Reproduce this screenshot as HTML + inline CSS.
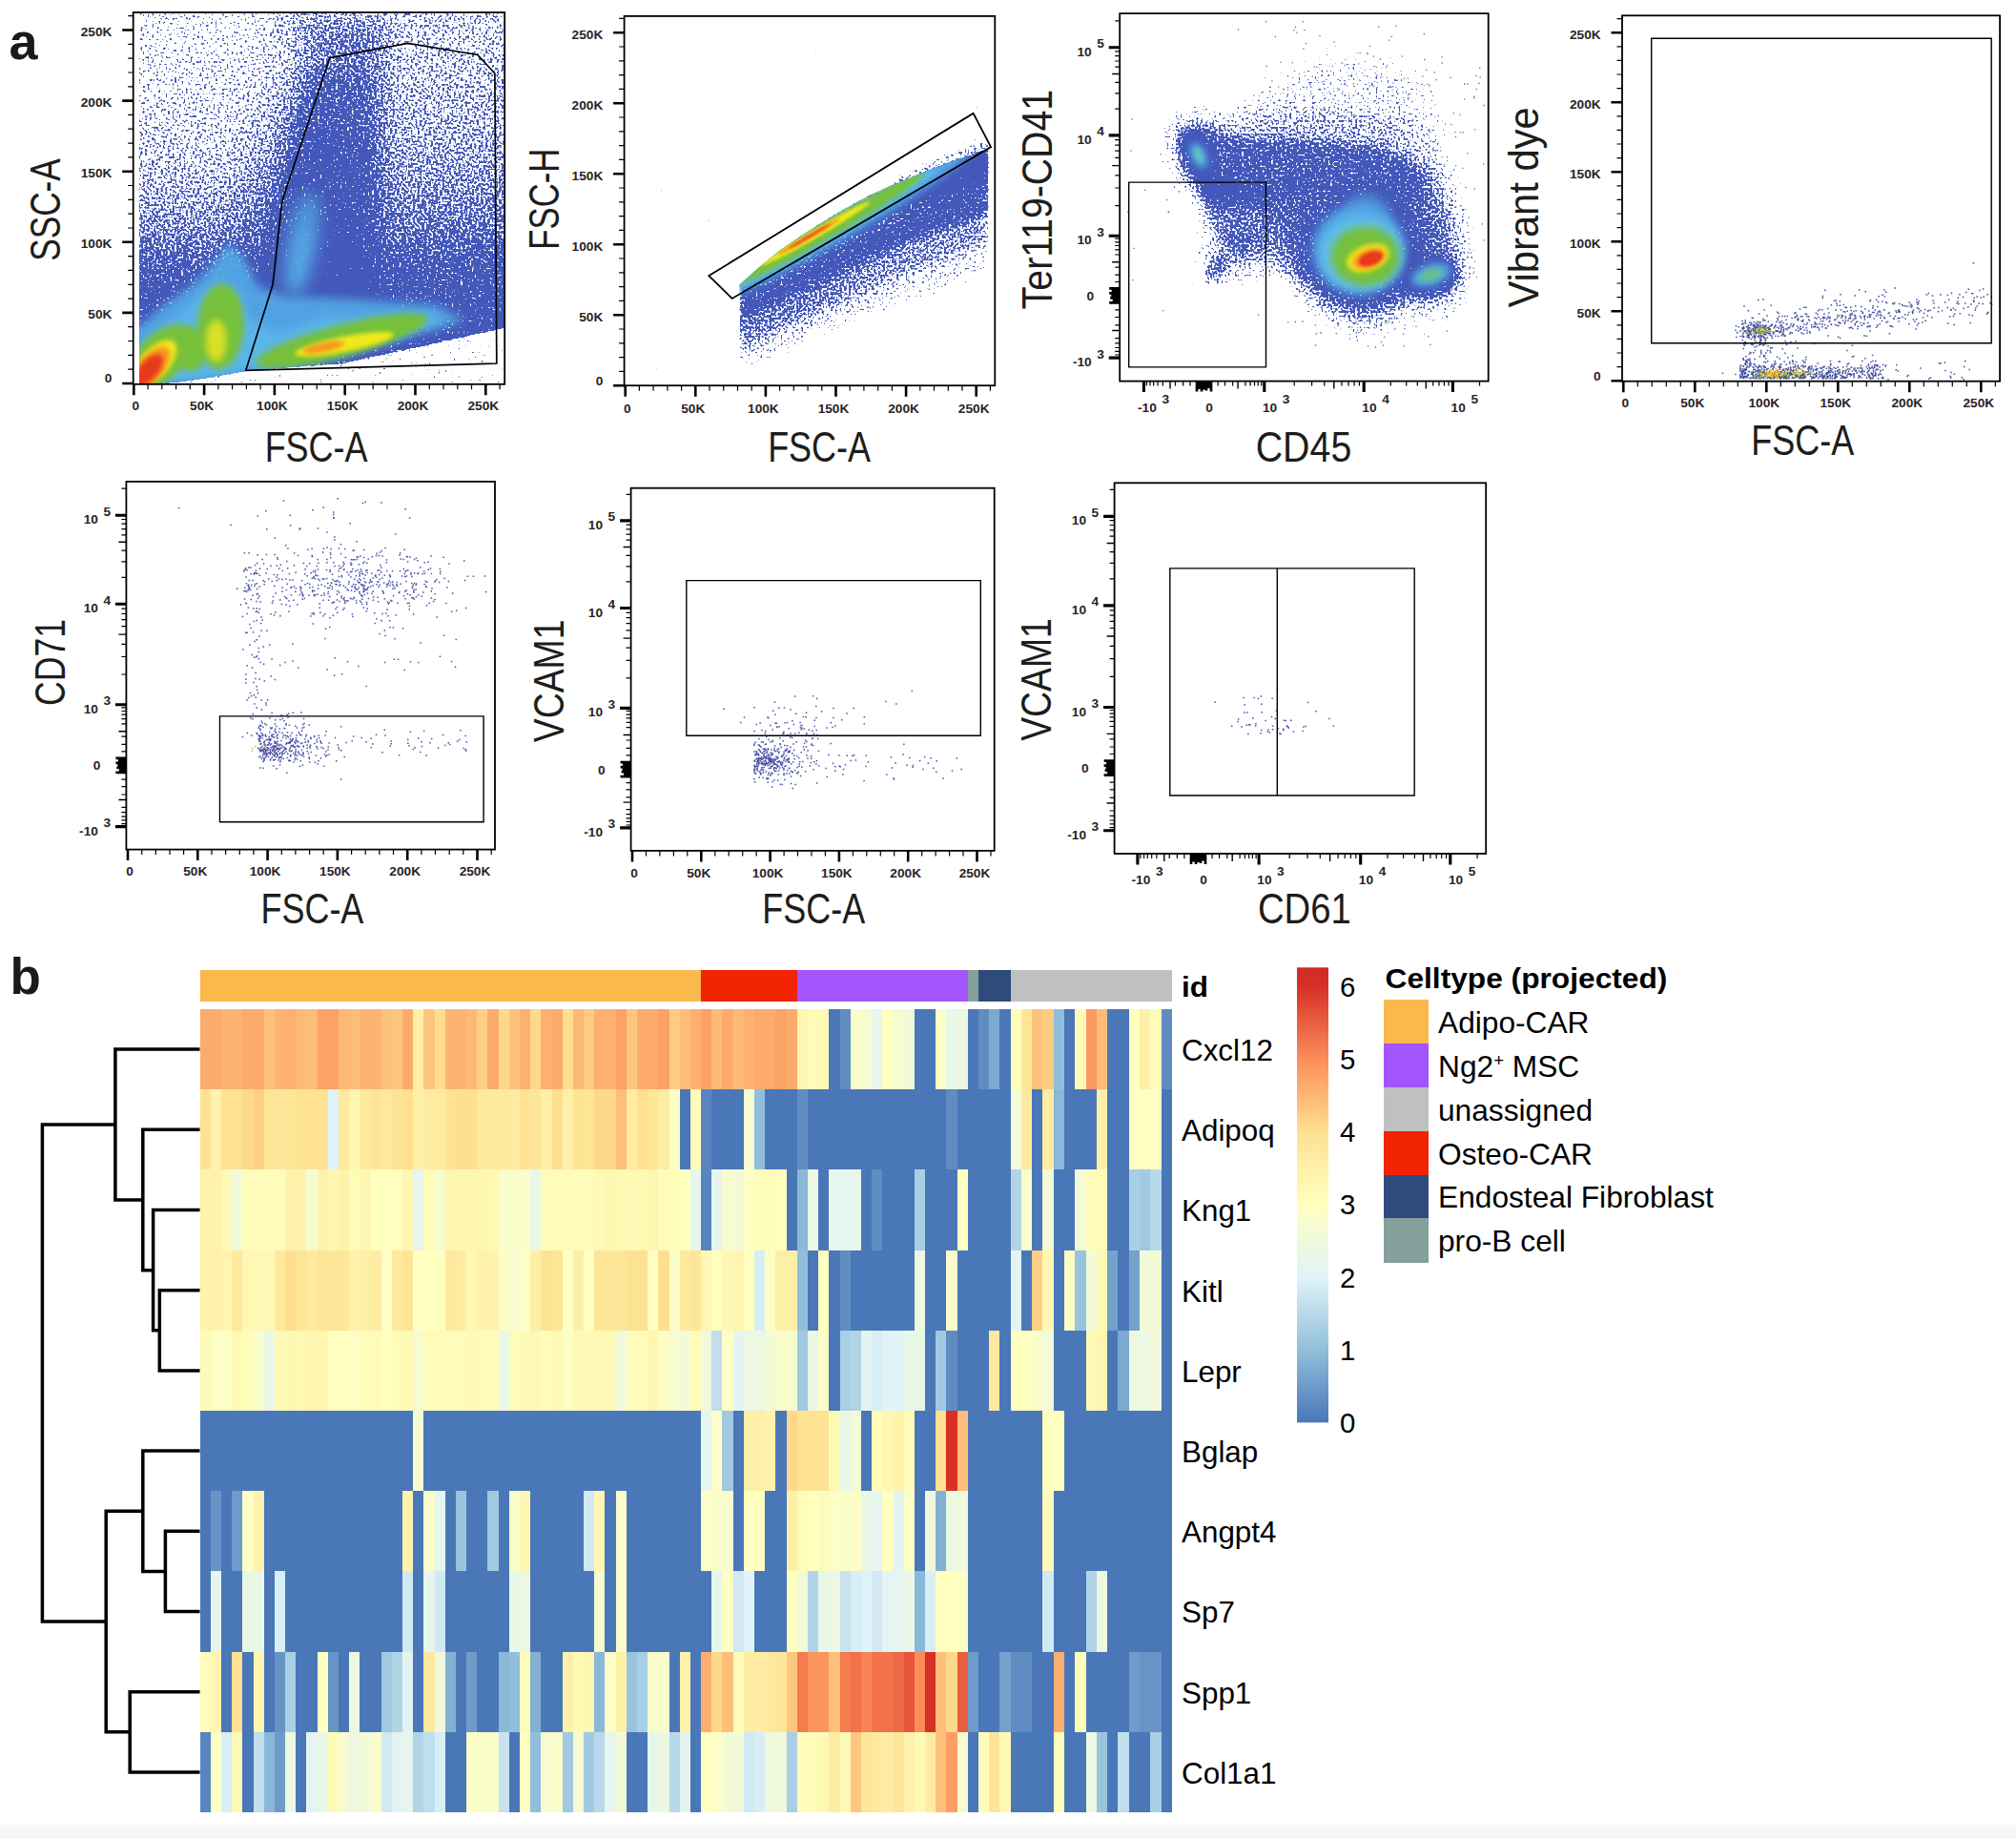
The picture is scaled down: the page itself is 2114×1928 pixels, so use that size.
<!DOCTYPE html>
<html lang="en"><head><meta charset="utf-8"><title>Figure</title>
<style>
html,body{margin:0;padding:0;background:#fff;overflow:hidden;width:2114px;height:1928px}
svg{display:block}
.tk{font-family:"Liberation Sans",sans-serif;font-weight:bold;font-size:13.7px;fill:#2a2326}
.ax{font-family:"Liberation Sans",sans-serif;fill:#1d1d1b}
.hl{font-family:"Liberation Sans",sans-serif;fill:#000}
.pl{font-family:"Liberation Sans",sans-serif;font-weight:bold;fill:#1a1a1a}
</style></head><body>

<svg width="2114" height="1928" viewBox="0 0 2114 1928">
<rect width="2114" height="1928" fill="#fff"/>
<defs><filter id="b0.8" x="-60%" y="-60%" width="220%" height="220%"><feGaussianBlur stdDeviation="0.8"/></filter><filter id="b1.0" x="-60%" y="-60%" width="220%" height="220%"><feGaussianBlur stdDeviation="1.0"/></filter><filter id="b1.5" x="-60%" y="-60%" width="220%" height="220%"><feGaussianBlur stdDeviation="1.5"/></filter><filter id="b1.8" x="-60%" y="-60%" width="220%" height="220%"><feGaussianBlur stdDeviation="1.8"/></filter><filter id="b2" x="-60%" y="-60%" width="220%" height="220%"><feGaussianBlur stdDeviation="2"/></filter><filter id="b2.5" x="-60%" y="-60%" width="220%" height="220%"><feGaussianBlur stdDeviation="2.5"/></filter><filter id="b3" x="-60%" y="-60%" width="220%" height="220%"><feGaussianBlur stdDeviation="3"/></filter><filter id="b3.5" x="-60%" y="-60%" width="220%" height="220%"><feGaussianBlur stdDeviation="3.5"/></filter><filter id="b4" x="-60%" y="-60%" width="220%" height="220%"><feGaussianBlur stdDeviation="4"/></filter><filter id="b5" x="-60%" y="-60%" width="220%" height="220%"><feGaussianBlur stdDeviation="5"/></filter><filter id="b6" x="-60%" y="-60%" width="220%" height="220%"><feGaussianBlur stdDeviation="6"/></filter><filter id="b8" x="-60%" y="-60%" width="220%" height="220%"><feGaussianBlur stdDeviation="8"/></filter><filter id="b9" x="-60%" y="-60%" width="220%" height="220%"><feGaussianBlur stdDeviation="9"/></filter><filter id="b11" x="-60%" y="-60%" width="220%" height="220%"><feGaussianBlur stdDeviation="11"/></filter><filter id="b12" x="-60%" y="-60%" width="220%" height="220%"><feGaussianBlur stdDeviation="12"/></filter><filter id="b13" x="-60%" y="-60%" width="220%" height="220%"><feGaussianBlur stdDeviation="13"/></filter><filter id="b14" x="-60%" y="-60%" width="220%" height="220%"><feGaussianBlur stdDeviation="14"/></filter><filter id="b16" x="-60%" y="-60%" width="220%" height="220%"><feGaussianBlur stdDeviation="16"/></filter></defs>
<g><defs><clipPath id="c1"><rect x="139.7" y="13" width="389.5" height="389.8"/></clipPath><filter id="s1" filterUnits="userSpaceOnUse" x="139.7" y="13" width="389.5" height="389.8" color-interpolation-filters="sRGB"><feTurbulence type="fractalNoise" baseFrequency="0.42" numOctaves="1" seed="3" result="t"/><feColorMatrix in="t" type="matrix" values="0 0 0 0 0 0 0 0 0 0 0 0 0 0 0 1 0 0 0 0" result="n"/><feComposite in="SourceGraphic" in2="n" operator="arithmetic" k1="0" k2="0.7" k3="1" k4="-0.55" result="s"/><feComponentTransfer in="s" result="th"><feFuncA type="linear" slope="25" intercept="-7"/></feComponentTransfer><feFlood flood-color="#4358ba"/><feComposite operator="in" in2="th"/></filter><linearGradient id="g1v" gradientUnits="userSpaceOnUse" x1="0" y1="40" x2="0" y2="340"><stop offset="0.000" stop-color="#000" stop-opacity="0"/><stop offset="0.200" stop-color="#000" stop-opacity="0.06"/><stop offset="0.367" stop-color="#000" stop-opacity="0.12"/><stop offset="0.533" stop-color="#000" stop-opacity="0.22"/><stop offset="0.667" stop-color="#000" stop-opacity="0.33"/><stop offset="0.767" stop-color="#000" stop-opacity="0.5"/><stop offset="0.867" stop-color="#000" stop-opacity="0.66"/><stop offset="1.000" stop-color="#000" stop-opacity="0.7"/></linearGradient><clipPath id="c1b"><polygon points="146,12 530,12 530,343.5 517,346.4 437.6,364.3 358.3,381.2 279,387.1 259,389 214,397 184,401 146,403"/></clipPath></defs>
<g clip-path="url(#c1)">
<g filter="url(#s1)">
<polygon points="146,12 530,12 530,404 146,404" fill="#000" fill-opacity="0.16"/>
<g clip-path="url(#c1b)">
<polygon points="139,12 530,12 530,404 139,404" fill="#000" fill-opacity="0.15"/>
<rect x="139" y="12" width="392" height="392" fill="url(#g1v)"/>
<polygon points="300,-20 570,-20 570,290 405,290 405,60 300,40" fill="#000" fill-opacity="0.14" filter="url(#b16)"/>
<polygon points="222,345 248,200 278,70 292,10 330,10 314,70 284,200 258,345" fill="#000" fill-opacity="0.14" filter="url(#b14)"/>
<polygon points="258,345 284,200 314,70 326,22 404,22 406,110 402,220 398,345" fill="#000" fill-opacity="0.34" filter="url(#b13)"/>
<polygon points="266,345 290,200 308,135 394,135 392,200 388,345" fill="#000" fill-opacity="0.2" filter="url(#b12)"/>
<polygon points="276,345 298,200 322,75 388,75 386,200 382,345" fill="#000" fill-opacity="0.3" filter="url(#b11)"/>
</g></g>
<g clip-path="url(#c1b)">
<polygon points="141,346 170,322 203,298 228,272 240,254 256,272 270,300 300,312 338,312 457,320 487,336 300,390 259,394 194,404 141,406" fill="#52a8e6" fill-opacity="0.92" filter="url(#b5)"/>
<ellipse cx="316" cy="258" rx="16" ry="56" fill="#52a8e6" transform="rotate(10 316 258)" fill-opacity="0.8" filter="url(#b8)"/>
<polygon points="146,360 185,334 205,314 230,294 252,306 260,334 290,350 338,334 450,330 464,338 300,380 259,388 194,400 146,404" fill="#60c2ee" fill-opacity="0.6" filter="url(#b5)"/>
<ellipse cx="316" cy="268" rx="7" ry="30" fill="#60c2ee" transform="rotate(10 316 268)" fill-opacity="0.35" filter="url(#b6)"/>
<ellipse cx="169" cy="374" rx="42" ry="24" fill="#76c03b" transform="rotate(-45 169 374)" filter="url(#b3)"/>
<ellipse cx="200" cy="366" rx="18" ry="23" fill="#76c03b" filter="url(#b3)"/>
<ellipse cx="231.3" cy="342.5" rx="24.5" ry="45" fill="#76c03b" transform="rotate(3 231.3 342.5)" filter="url(#b3)"/>
<ellipse cx="358.3" cy="357.3" rx="93" ry="17" fill="#76c03b" transform="rotate(-14.6 358.3 357.3)" filter="url(#b3)"/>
<ellipse cx="163" cy="380" rx="29" ry="15" fill="#f1e71f" transform="rotate(-48 163 380)" filter="url(#b2.5)"/>
<ellipse cx="226.7" cy="357.3" rx="11" ry="22" fill="#f1e71f" fill-opacity="0.8" filter="url(#b3.5)"/>
<ellipse cx="361.2" cy="360.8" rx="53" ry="8" fill="#f1e71f" transform="rotate(-11.2 361.2 360.8)" filter="url(#b2)"/>
<ellipse cx="159.5" cy="384" rx="25" ry="12.5" fill="#f7991c" transform="rotate(-49 159.5 384)" filter="url(#b2.5)"/>
<ellipse cx="339.4" cy="364.3" rx="22" ry="5" fill="#f7991c" transform="rotate(-12 339.4 364.3)" filter="url(#b2)"/>
<ellipse cx="156" cy="388" rx="20" ry="10" fill="#e9371f" transform="rotate(-50 156 388)" filter="url(#b2.5)"/>
</g>
</g>
<polygon points="257.8,388.3 286,298.6 295.8,211 345.8,60.6 427.8,45.3 500.8,57.5 518.9,77 520.8,381" fill="none" stroke="#000" stroke-width="1.7" stroke-linejoin="miter"/>
<rect x="139.7" y="13" width="389.5" height="389.8" fill="none" stroke="#000" stroke-width="1.8"/>
<path d="M140.3 402.8v11.5M214.1 402.8v11.5M287.9 402.8v11.5M361.7 402.8v11.5M435.5 402.8v11.5M509.3 402.8v11.5" stroke="#000" stroke-width="2.6" fill="none"/>
<path d="M155.1 402.8v5.5M169.8 402.8v5.5M184.6 402.8v5.5M199.3 402.8v5.5M228.9 402.8v5.5M243.6 402.8v5.5M258.4 402.8v5.5M273.1 402.8v5.5M302.7 402.8v5.5M317.4 402.8v5.5M332.2 402.8v5.5M346.9 402.8v5.5M376.5 402.8v5.5M391.2 402.8v5.5M406 402.8v5.5M420.7 402.8v5.5M450.3 402.8v5.5M465 402.8v5.5M479.8 402.8v5.5M494.5 402.8v5.5M524.1 402.8v5.5" stroke="#000" stroke-width="1.2" fill="none"/>
<text x="142.3" y="429.8" text-anchor="middle" class="tk">0</text>
<text x="211.6" y="429.8" text-anchor="middle" class="tk">50K</text>
<text x="285.4" y="429.8" text-anchor="middle" class="tk">100K</text>
<text x="359.2" y="429.8" text-anchor="middle" class="tk">150K</text>
<text x="433" y="429.8" text-anchor="middle" class="tk">200K</text>
<text x="506.8" y="429.8" text-anchor="middle" class="tk">250K</text>
<path d="M139.7 402h-11.5M139.7 327.9h-11.5M139.7 253.8h-11.5M139.7 179.7h-11.5M139.7 105.6h-11.5M139.7 31.5h-11.5" stroke="#000" stroke-width="2.6" fill="none"/>
<path d="M139.7 387.2h-5.5M139.7 372.4h-5.5M139.7 357.5h-5.5M139.7 342.7h-5.5M139.7 313.1h-5.5M139.7 298.3h-5.5M139.7 283.4h-5.5M139.7 268.6h-5.5M139.7 239h-5.5M139.7 224.2h-5.5M139.7 209.3h-5.5M139.7 194.5h-5.5M139.7 164.9h-5.5M139.7 150.1h-5.5M139.7 135.2h-5.5M139.7 120.4h-5.5M139.7 90.8h-5.5M139.7 76h-5.5M139.7 61.1h-5.5M139.7 46.3h-5.5M139.7 16.7h-5.5" stroke="#000" stroke-width="1.2" fill="none"/>
<text x="117.4" y="401.3" text-anchor="end" class="tk">0</text>
<text x="117.4" y="334.2" text-anchor="end" class="tk">50K</text>
<text x="117.4" y="260.1" text-anchor="end" class="tk">100K</text>
<text x="117.4" y="186" text-anchor="end" class="tk">150K</text>
<text x="117.4" y="111.9" text-anchor="end" class="tk">200K</text>
<text x="117.4" y="37.8" text-anchor="end" class="tk">250K</text>
<text transform="translate(331.6 484) scale(0.8275 1)" text-anchor="middle" class="ax" font-size="43.5">FSC-A</text>
<text transform="translate(62.6 220) rotate(-90) scale(0.8108 1)" text-anchor="middle" class="ax" font-size="43.5">SSC-A</text></g>
<g><defs><clipPath id="c2"><rect x="654.6" y="16.9" width="388.7" height="387.3"/></clipPath><filter id="s2" filterUnits="userSpaceOnUse" x="654.6" y="16.9" width="388.7" height="387.3" color-interpolation-filters="sRGB"><feTurbulence type="fractalNoise" baseFrequency="0.42" numOctaves="1" seed="11" result="t"/><feColorMatrix in="t" type="matrix" values="0 0 0 0 0 0 0 0 0 0 0 0 0 0 0 1 0 0 0 0" result="n"/><feComposite in="SourceGraphic" in2="n" operator="arithmetic" k1="0" k2="0.7" k3="1" k4="-0.55" result="s"/><feComponentTransfer in="s" result="th"><feFuncA type="linear" slope="25" intercept="-7"/></feComponentTransfer><feFlood flood-color="#4358ba"/><feComposite operator="in" in2="th"/></filter><clipPath id="c2b"><polygon points="775.4,298.4 795,281 816.9,263 840,247 863,232.2 886,218.5 909.2,206.1 932,195.5 955.3,186.1 978,176.5 1001.4,167.7 1032.2,156.9 1036.5,155 1036.5,404 775.4,404"/></clipPath><clipPath id="c2c"><polygon points="775.4,270 930,170 1036.5,120 1036.5,404 775.4,404"/></clipPath></defs>
<g clip-path="url(#c2)">
<g filter="url(#s2)"><g clip-path="url(#c2c)">
<polygon points="930,190 1040,140 1040,175 940,215" fill="#000" fill-opacity="0.4" filter="url(#b5)"/>
<g clip-path="url(#c2b)">
<polygon points="775.4,298.4 795,281 816.9,263 840,247 863,232.2 886,218.5 909.2,206.1 932,195.5 955.3,186.1 978,176.5 1001.4,167.7 1032.2,156.9 1036.5,155 1040,150 1040,222 940,259 863,297 778,336 770,336" fill="#000" fill-opacity="0.6" filter="url(#b5)"/>
<polygon points="775.4,298.4 795,281 816.9,263 840,247 863,232.2 886,218.5 909.2,206.1 932,195.5 955.3,186.1 978,176.5 1001.4,167.7 1032.2,156.9 1036.5,155 1040,150 1040,190 940,225 863,262 778,305 770,305" fill="#000" fill-opacity="0.55" filter="url(#b6)"/>
<polygon points="770,310 1040,185 1040,250 940,288 863,325 782,362 770,362" fill="#000" fill-opacity="0.45" filter="url(#b9)"/>
<polygon points="770,340 1040,235 1040,285 860,352 785,388 770,388" fill="#000" fill-opacity="0.28" filter="url(#b8)"/>
</g></g></g>
<g clip-path="url(#c2b)">
<ellipse cx="886.3" cy="234.5" rx="152" ry="13" fill="#52a8e6" transform="rotate(-30.3 886.3 234.5)" filter="url(#b4)"/>
<ellipse cx="873.2" cy="239.8" rx="126" ry="9" fill="#60c2ee" transform="rotate(-30.3 873.2 239.8)" fill-opacity="0.8" filter="url(#b3.5)"/>
<ellipse cx="869.6" cy="239.6" rx="116" ry="9" fill="#76c03b" transform="rotate(-30.3 869.6 239.6)" filter="url(#b2.5)"/>
<ellipse cx="855.3" cy="244.9" rx="66" ry="4.4" fill="#f1e71f" transform="rotate(-30.3 855.3 244.9)" filter="url(#b1.5)"/>
<ellipse cx="848.3" cy="248.2" rx="38" ry="2.3" fill="#f7991c" transform="rotate(-30.3 848.3 248.2)" filter="url(#b1.0)"/>
<ellipse cx="848.8" cy="247.6" rx="26" ry="1.1" fill="#e9371f" transform="rotate(-30.3 848.8 247.6)" filter="url(#b0.8)"/>
</g>
</g>
<polygon points="743.4,289.1 1020.6,118.8 1039.1,154.1 767.7,313" fill="none" stroke="#000" stroke-width="1.8" stroke-linejoin="miter"/>
<rect x="654.6" y="16.9" width="388.7" height="387.3" fill="none" stroke="#000" stroke-width="1.8"/>
<path d="M655.7 404.2v11.5M729.3 404.2v11.5M802.9 404.2v11.5M876.5 404.2v11.5M950.1 404.2v11.5M1023.7 404.2v11.5" stroke="#000" stroke-width="2.6" fill="none"/>
<path d="M670.4 404.2v5.5M685.1 404.2v5.5M699.9 404.2v5.5M714.6 404.2v5.5M744 404.2v5.5M758.7 404.2v5.5M773.5 404.2v5.5M788.2 404.2v5.5M817.6 404.2v5.5M832.3 404.2v5.5M847.1 404.2v5.5M861.8 404.2v5.5M891.2 404.2v5.5M905.9 404.2v5.5M920.7 404.2v5.5M935.4 404.2v5.5M964.8 404.2v5.5M979.5 404.2v5.5M994.3 404.2v5.5M1009 404.2v5.5M1038.4 404.2v5.5" stroke="#000" stroke-width="1.2" fill="none"/>
<text x="657.7" y="432.7" text-anchor="middle" class="tk">0</text>
<text x="726.8" y="432.7" text-anchor="middle" class="tk">50K</text>
<text x="800.4" y="432.7" text-anchor="middle" class="tk">100K</text>
<text x="874" y="432.7" text-anchor="middle" class="tk">150K</text>
<text x="947.6" y="432.7" text-anchor="middle" class="tk">200K</text>
<text x="1021.2" y="432.7" text-anchor="middle" class="tk">250K</text>
<path d="M654.6 404.2h-11.5M654.6 330.2h-11.5M654.6 256.2h-11.5M654.6 182.2h-11.5M654.6 108.2h-11.5M654.6 34.2h-11.5" stroke="#000" stroke-width="2.6" fill="none"/>
<path d="M654.6 389.4h-5.5M654.6 374.6h-5.5M654.6 359.8h-5.5M654.6 345h-5.5M654.6 315.4h-5.5M654.6 300.6h-5.5M654.6 285.8h-5.5M654.6 271h-5.5M654.6 241.4h-5.5M654.6 226.6h-5.5M654.6 211.8h-5.5M654.6 197h-5.5M654.6 167.4h-5.5M654.6 152.6h-5.5M654.6 137.8h-5.5M654.6 123h-5.5M654.6 93.4h-5.5M654.6 78.6h-5.5M654.6 63.8h-5.5M654.6 49h-5.5M654.6 19.4h-5.5" stroke="#000" stroke-width="1.2" fill="none"/>
<text x="632.3" y="403.5" text-anchor="end" class="tk">0</text>
<text x="632.3" y="336.5" text-anchor="end" class="tk">50K</text>
<text x="632.3" y="262.5" text-anchor="end" class="tk">100K</text>
<text x="632.3" y="188.5" text-anchor="end" class="tk">150K</text>
<text x="632.3" y="114.5" text-anchor="end" class="tk">200K</text>
<text x="632.3" y="40.5" text-anchor="end" class="tk">250K</text>
<text transform="translate(859.1 484) scale(0.8275 1)" text-anchor="middle" class="ax" font-size="43.5">FSC-A</text>
<text transform="translate(585.6 208.7) rotate(-90) scale(0.7976 1)" text-anchor="middle" class="ax" font-size="43.5">FSC-H</text></g>
<g><defs><clipPath id="c3"><rect x="1174.2" y="14.1" width="386.5" height="385.5"/></clipPath><filter id="s3" filterUnits="userSpaceOnUse" x="1174.2" y="14.1" width="386.5" height="385.5" color-interpolation-filters="sRGB"><feTurbulence type="fractalNoise" baseFrequency="0.42" numOctaves="1" seed="23" result="t"/><feColorMatrix in="t" type="matrix" values="0 0 0 0 0 0 0 0 0 0 0 0 0 0 0 1 0 0 0 0" result="n"/><feComposite in="SourceGraphic" in2="n" operator="arithmetic" k1="0" k2="0.7" k3="1" k4="-0.55" result="s"/><feComponentTransfer in="s" result="th"><feFuncA type="linear" slope="25" intercept="-7"/></feComponentTransfer><feFlood flood-color="#4358ba"/><feComposite operator="in" in2="th"/></filter></defs>
<g clip-path="url(#c3)">
<g filter="url(#s3)">
<polygon points="1285,130 1318,95 1372,62 1440,48 1497,78 1522,125 1512,152 1330,142" fill="#000" fill-opacity="0.25" filter="url(#b12)"/>
<polygon points="1213,122 1262,106 1300,118 1380,116 1460,123 1517,150 1547,230 1552,300 1527,337 1470,342 1426,360 1375,337 1340,292 1300,302 1264,302 1250,250 1262,225 1223,190" fill="#000" fill-opacity="0.27" filter="url(#b9)"/>
<polygon points="1232,133 1262,128 1295,141 1373,146 1452,152 1500,170 1525,235 1531,293 1512,316 1468,316 1426,336 1384,316 1352,274 1330,225 1270,215 1240,178" fill="#000" fill-opacity="0.4" filter="url(#b8)"/>
<polygon points="1240,142 1265,135 1300,147 1400,151 1455,159 1490,180 1498,215 1400,208 1332,203 1277,210 1250,188" fill="#000" fill-opacity="0.36" filter="url(#b6)"/>
<ellipse cx="1434" cy="260" rx="70" ry="66" fill="#000" fill-opacity="0.45" filter="url(#b11)"/>
<ellipse cx="1430" cy="258" rx="50" ry="52" fill="#000" fill-opacity="0.4" filter="url(#b8)"/>
<polygon points="1327,195 1380,200 1380,300 1345,290 1327,270" fill="#000" fill-opacity="0.25" filter="url(#b8)"/>
<ellipse cx="1256" cy="162" rx="17" ry="28" fill="#000" transform="rotate(-25 1256 162)" fill-opacity="0.6" filter="url(#b5)"/>
<polygon points="1250,180 1275,172 1292,212 1272,222" fill="#000" fill-opacity="0.4" filter="url(#b5)"/>
<ellipse cx="1500" cy="289" rx="30" ry="21" fill="#000" transform="rotate(-10 1500 289)" fill-opacity="0.62" filter="url(#b5)"/>
<polygon points="1256,192 1330,192 1335,268 1300,275 1270,240" fill="#000" fill-opacity="0.38" filter="url(#b6)"/>
<ellipse cx="1275" cy="282" rx="9" ry="16" fill="#000" transform="rotate(35 1275 282)" fill-opacity="0.5" filter="url(#b4)"/>
<polygon points="1268,262 1300,225 1318,250 1290,292" fill="#000" fill-opacity="0.2" filter="url(#b5)"/>
</g>
<ellipse cx="1425" cy="262" rx="48" ry="46" fill="#52a8e6" filter="url(#b5)"/>
<ellipse cx="1432" cy="235" rx="26" ry="30" fill="#52a8e6" fill-opacity="0.8" filter="url(#b6)"/>
<ellipse cx="1428" cy="266" rx="43" ry="39" fill="#60c2ee" fill-opacity="0.85" filter="url(#b4)"/>
<ellipse cx="1257" cy="163" rx="7.5" ry="14" fill="#52a8e6" transform="rotate(-25 1257 163)" filter="url(#b3.5)"/>
<ellipse cx="1257" cy="163" rx="3.6" ry="8" fill="#63c9b0" transform="rotate(-25 1257 163)" filter="url(#b2.5)"/>
<ellipse cx="1500.4" cy="288.3" rx="21" ry="10.5" fill="#52a8e6" transform="rotate(-18 1500.4 288.3)" filter="url(#b3.5)"/>
<ellipse cx="1500.4" cy="288.3" rx="12.5" ry="5.6" fill="#68c384" transform="rotate(-20 1500.4 288.3)" filter="url(#b3)"/>
<ellipse cx="1431.6" cy="268.5" rx="36" ry="31" fill="#76c03b" filter="url(#b4)"/>
<ellipse cx="1434.5" cy="270.4" rx="23" ry="13.5" fill="#f1e71f" transform="rotate(-20 1434.5 270.4)" filter="url(#b2.5)"/>
<ellipse cx="1436" cy="271" rx="18" ry="10" fill="#f7991c" transform="rotate(-20 1436 271)" filter="url(#b2)"/>
<ellipse cx="1437.3" cy="271.3" rx="13" ry="7" fill="#e9371f" transform="rotate(-20 1437.3 271.3)" filter="url(#b1.8)"/>
<path d="M1359.3 34.1h1.3M1496.1 88.1h1.3M1511.4 59.8h1.3M1453.9 68.6h1.3M1385.7 85.8h1.3M1354.6 65.8h1.3M1471.8 82.3h1.3M1433.5 56.5h1.3M1439.6 59.1h1.3M1406.9 66h1.3M1551.5 80.9h1.3M1440.5 107h1.3M1551 71.1h1.3M1342.4 65.3h1.3M1469.7 59.1h1.3M1406.8 98.5h1.3M1443.4 91.6h1.3M1520.3 81.3h1.3M1402.9 109.3h1.3M1458.7 38.4h1.3M1402.4 122h1.3M1424.2 66.8h1.3M1442.7 78.7h1.3M1535 88h1.3M1377.4 119.2h1.3M1448.5 80.7h1.3M1398.6 111.1h1.3M1327.5 69.3h1.3M1507.6 121.7h1.3M1476 99.8h1.3M1327 22.6h1.3M1380.1 70.3h1.3M1414.7 102.8h1.3M1460 90.7h1.3M1440 90.7h1.3M1503.8 75.9h1.3M1393.3 96.4h1.3M1336.7 38.3h1.3M1369.6 91.5h1.3M1555.5 110.5h1.3M1498.5 89.5h1.3M1446.7 62h1.3M1357.8 28.5h1.3M1480.2 106.5h1.3M1411.7 122.2h1.3M1547.3 79.7h1.3M1495.2 73.4h1.3M1333.2 84.8h1.3M1380.7 84.4h1.3M1402.2 92.8h1.3M1511.6 66h1.3M1375.5 80.2h1.3M1470.5 96.9h1.3M1368.7 127.3h1.3M1416.7 125.3h1.3M1383.4 37.4h1.3M1505.3 83.7h1.3M1322.5 97h1.3M1365.6 22.8h1.3M1380.2 127h1.3M1492.7 35.5h1.3M1356.8 74.4h1.3M1493.1 62.5h1.3M1425.5 55.6h1.3M1445 28.2h1.3M1398.3 43.9h1.3M1356.2 31.6h1.3M1367.5 31.6h1.3M1464.9 84.1h1.3M1348.9 101h1.3M1418.1 71.4h1.3M1387.7 85.1h1.3M1460.3 87.1h1.3M1414.4 103.1h1.3M1435.6 90.1h1.3M1372.7 88.5h1.3M1368.8 45.5h1.3M1491.2 80.2h1.3M1419 120.4h1.3M1514.9 129.9h1.3M1418.6 87.7h1.3M1409.8 68.3h1.3M1377.6 69.8h1.3M1297.9 30.9h1.3M1456.1 42.1h1.3M1463.2 27.1h1.3M1407.3 96.2h1.3M1366.3 50.8h1.3M1314 100.2h1.3M1219 325.6h1.3M1223 209.7h1.3M1182 222.5h1.3M1216.8 161.6h1.3M1225.1 222.7h1.3M1224.5 221.9h1.3M1185.5 158.1h1.3M1307.8 145.2h1.3M1187.3 293.7h1.3M1286.9 131h1.3M1186.5 124.9h1.3M1200.1 199.3h1.3M1188.4 260.4h1.3M1525.1 138.6h1.3M1534.1 264.2h1.3M1526.8 258.3h1.3M1544.9 101.3h1.3M1545.4 102.8h1.3M1524.7 228.5h1.3M1529.1 299.2h1.3M1538.3 160.8h1.3M1550.3 87.4h1.3M1547.6 93.4h1.3M1525.7 318h1.3M1545.9 135.8h1.3M1524.4 323.2h1.3M1545.3 285.1h1.3M1525.3 236.2h1.3M1533.5 138.8h1.3M1532.7 233.4h1.3M1533.2 176.4h1.3M1525.2 287.8h1.3M1544.6 281.1h1.3M1536.5 292.9h1.3M1539.7 228.2h1.3M1541.8 265h1.3M1535 104.2h1.3M1521.3 130.6h1.3M1521.5 302.3h1.3M1538.3 270.1h1.3M1520 197.5h1.3M1553.8 234.9h1.3M1536.3 196.4h1.3M1523.8 118.7h1.3M1526 173.7h1.3M1534.7 300.1h1.3M1525.8 143.5h1.3M1530.5 120.4h1.3M1530.9 138.8h1.3M1538.3 88h1.3M1555.1 172.2h1.3M1555.6 251.9h1.3M1545.6 197.9h1.3M1451.2 353.4h1.3M1422.4 340.2h1.3M1396.8 335.7h1.3M1365.3 337h1.3M1462.2 332.7h1.3M1435.1 344h1.3M1472.2 340.9h1.3M1422.9 346.4h1.3M1414.9 355.1h1.3M1501.5 335.7h1.3M1434 362.9h1.3M1497.1 352.6h1.3M1318.9 330.2h1.3M1481.7 332.1h1.3M1438.5 331.6h1.3M1384.5 349.2h1.3M1484.3 342.3h1.3M1426.4 333.3h1.3M1516.8 347.2h1.3M1471.7 362.8h1.3M1461.7 331.8h1.3M1441.1 343.9h1.3M1462.1 344.3h1.3M1442.8 340.7h1.3M1441.8 364h1.3M1433.9 336.3h1.3M1384.4 348.6h1.3M1427.5 333h1.3M1421.6 349h1.3M1449.8 362.2h1.3M1357.7 337.5h1.3M1378.6 330.6h1.3M1379.6 350h1.3M1417.2 343.2h1.3M1378.9 362h1.3M1378.8 340.8h1.3M1350.1 337.8h1.3M1456.5 334h1.3M1422.7 357h1.3M1447.8 358.7h1.3M1420.9 332.9h1.3M1451.9 338.6h1.3M1471.1 350.2h1.3M1454.1 338.6h1.3M1494.7 331.7h1.3M1456.3 337h1.3M1420.2 333.4h1.3M1472.4 344.7h1.3M1400.6 349.5h1.3M1499.2 361.4h1.3" stroke="#5a68bd" stroke-width="1.3" fill="none"/>
</g>
<polygon points="1183.7,191.1 1327.5,191.1 1327.5,384.9 1183.7,384.9" fill="none" stroke="#000" stroke-width="1.4" stroke-linejoin="miter"/>
<rect x="1174.2" y="14.1" width="386.5" height="385.5" fill="none" stroke="#000" stroke-width="1.8"/>
<path d="M1199.4 399.6v11.5M1325.8 399.6v11.5M1430.2 399.6v11.5M1523.4 399.6v11.5" stroke="#000" stroke-width="3.1" fill="none"/>
<path d="M1357.2 399.6v5M1375.6 399.6v5M1388.7 399.6v5M1407 399.6v5M1414 399.6v5M1420.1 399.6v5M1425.4 399.6v5M1458.3 399.6v5M1474.7 399.6v5M1486.3 399.6v5M1502.7 399.6v5M1509 399.6v5M1514.4 399.6v5M1519.1 399.6v5M1551.5 399.6v5M1277.1 399.6v5M1248 399.6v5M1284.5 399.6v5M1240.6 399.6v5M1292.6 399.6v5M1232.5 399.6v5M1305.9 399.6v5M1219.3 399.6v5M1311.1 399.6v5M1214.1 399.6v5M1315.5 399.6v5M1209.7 399.6v5M1319.2 399.6v5M1206 399.6v5M1322.8 399.6v5M1202.4 399.6v5" stroke="#000" stroke-width="1.2" fill="none"/>
<path d="M1398.8 399.6v8M1495.3 399.6v8M1298.1 399.6v8M1227 399.6v8" stroke="#000" stroke-width="1.4" fill="none"/>
<path d="M1255 399.6v11M1257.5 399.6v8.5M1260 399.6v11M1262.5 399.6v9M1265 399.6v10M1267.5 399.6v7.5M1270 399.6v11" stroke="#000" stroke-width="2.7" fill="none"/>
<text x="1212.8" y="431.6" text-anchor="end" class="tk">-10</text><text x="1218.4" y="422.6" class="tk">3</text>
<text x="1268" y="431.6" text-anchor="middle" class="tk">0</text>
<text x="1339.2" y="431.6" text-anchor="end" class="tk">10</text><text x="1344.8" y="422.6" class="tk">3</text>
<text x="1443.6" y="431.6" text-anchor="end" class="tk">10</text><text x="1449.2" y="422.6" class="tk">4</text>
<text x="1536.8" y="431.6" text-anchor="end" class="tk">10</text><text x="1542.4" y="422.6" class="tk">5</text>
<path d="M1174.2 375.1h-11.5M1174.2 247.3h-11.5M1174.2 141.9h-11.5M1174.2 49.7h-11.5" stroke="#000" stroke-width="3.1" fill="none"/>
<path d="M1174.2 215.6h-5M1174.2 197h-5M1174.2 183.8h-5M1174.2 165.3h-5M1174.2 158.2h-5M1174.2 152.1h-5M1174.2 146.7h-5M1174.2 114.1h-5M1174.2 97.9h-5M1174.2 86.4h-5M1174.2 70.2h-5M1174.2 64h-5M1174.2 58.6h-5M1174.2 53.9h-5M1174.2 21.9h-5M1174.2 295.5h-5M1174.2 324.9h-5M1174.2 288.2h-5M1174.2 332.5h-5M1174.2 280.1h-5M1174.2 340.9h-5M1174.2 267h-5M1174.2 354.6h-5M1174.2 261.9h-5M1174.2 359.9h-5M1174.2 257.5h-5M1174.2 364.5h-5M1174.2 253.9h-5M1174.2 368.3h-5M1174.2 250.2h-5M1174.2 372h-5" stroke="#000" stroke-width="1.2" fill="none"/>
<path d="M1174.2 173.6h-8M1174.2 77.5h-8M1174.2 274.7h-8M1174.2 346.5h-8" stroke="#000" stroke-width="1.4" fill="none"/>
<path d="M1174.2 302.4h-11M1174.2 304.9h-8.5M1174.2 307.4h-11M1174.2 309.9h-9M1174.2 312.4h-10M1174.2 314.9h-7.5M1174.2 317.4h-11" stroke="#000" stroke-width="2.7" fill="none"/>
<text x="1144.7" y="384.1" text-anchor="end" class="tk">-10</text><text x="1150.2" y="375.6" class="tk">3</text>
<text x="1147.2" y="314.9" text-anchor="end" class="tk">0</text>
<text x="1144.7" y="256.3" text-anchor="end" class="tk">10</text><text x="1150.2" y="247.8" class="tk">3</text>
<text x="1144.7" y="150.9" text-anchor="end" class="tk">10</text><text x="1150.2" y="142.4" class="tk">4</text>
<text x="1144.7" y="58.7" text-anchor="end" class="tk">10</text><text x="1150.2" y="50.2" class="tk">5</text>
<text transform="translate(1367 483.8) scale(0.9045 1)" text-anchor="middle" class="ax" font-size="43.5">CD45</text>
<text transform="translate(1102.6 209.1) rotate(-90) scale(0.9018 1)" text-anchor="middle" class="ax" font-size="43.5">Ter119-CD41</text></g>
<g><defs><clipPath id="c4"><rect x="1701" y="16.3" width="396.1" height="383.4"/></clipPath></defs>
<g clip-path="url(#c4)">
<path d="M1904.4 339.9h1.5M1958 338.5h1.5M1951 321.4h1.5M2018.4 336.3h1.5M1919.7 340.4h1.5M1854.1 349.8h1.5M1970.4 339.8h1.5M2045.2 325.3h1.5M1845.5 361h1.5M1845.2 358.5h1.5M1832.7 341h1.5M1970.1 326h1.5M1849.6 342.4h1.5M1911.2 332.5h1.5M1828.2 321h1.5M1916.1 341.8h1.5M1947.2 344.4h1.5M1848.2 313.9h1.5M2047.6 323.2h1.5M2052.2 316h1.5M1967 314.3h1.5M1870.4 352.3h1.5M2003.8 322.2h1.5M1863.6 335.7h1.5M1878.6 349.1h1.5M1904.1 334.1h1.5M2009.2 317h1.5M1829.4 338.1h1.5M1869.4 338.6h1.5M1867.4 341.6h1.5M1844.2 359.1h1.5M1950.8 333.2h1.5M2078.4 318.6h1.5M2069 316.2h1.5M1978.8 337.2h1.5M1835.7 360.9h1.5M1963 322.8h1.5M1850.8 357h1.5M1967.8 341h1.5M1960.7 314.4h1.5M2023.5 325.2h1.5M1868.4 350.1h1.5M1934.8 336h1.5M2032.2 322.6h1.5M1860 342.7h1.5M1889.7 337.1h1.5M1865.9 348.3h1.5M1940 343.3h1.5M1828.9 359.2h1.5M1877.2 358.4h1.5M1905.7 325.8h1.5M1990.6 326.1h1.5M1955.1 324h1.5M1931.9 336.2h1.5M1919.6 319.8h1.5M1841.9 344.4h1.5M2087.9 318.9h1.5M1902.2 340.6h1.5M1896.7 336.3h1.5M1855.2 347.5h1.5M1887.9 344.7h1.5M1887.3 344.6h1.5M2079.4 311.2h1.5M2054.5 328.8h1.5M1854.2 343.8h1.5M1928.6 316.1h1.5M1872.9 339.5h1.5M1945.1 332h1.5M1871.4 357.5h1.5M2010 319.3h1.5M1879.7 341.4h1.5M1839.4 364h1.5M1910.6 312.6h1.5M2009.7 341h1.5M1980.4 327.9h1.5M1901.4 342.7h1.5M1954.7 335h1.5M2042.1 339.1h1.5M1924.5 314.9h1.5M2025.7 310.1h1.5M2074.5 318.2h1.5M1955.1 331.1h1.5M1917.5 337.2h1.5M1969.4 310.7h1.5M1905.4 329.4h1.5M1901.8 360.2h1.5M1941.6 328.4h1.5M1989.9 326.9h1.5M1876.9 348.4h1.5M1934 338h1.5M2020.5 330.9h1.5M1850.1 344.4h1.5M1826.6 345.2h1.5M2066.3 319.1h1.5M1839 356h1.5M1849.6 345.3h1.5M2071 323.1h1.5M1872.7 340.3h1.5M1913.5 343.9h1.5M1930.6 330.4h1.5M1850.1 344.1h1.5M1929.3 338.7h1.5M2070.5 325.3h1.5M1842.9 343.7h1.5M1874.8 343.4h1.5M1940.4 343.6h1.5M1943.7 334.2h1.5M2063.5 303.2h1.5M1867.6 351.8h1.5M1846.6 352.1h1.5M1827.7 342.5h1.5M2035.7 325.7h1.5M1997.4 334.2h1.5M1918.1 332.5h1.5M1885 346.4h1.5M1973.3 316h1.5M1909.8 340h1.5M1927.8 338.6h1.5M2067.9 307.7h1.5M1869.6 347h1.5M2012 327.1h1.5M1984.8 333.8h1.5M1829.5 335.9h1.5M1925.9 332.7h1.5M1867.1 347.5h1.5M1918.1 336.6h1.5M2027.4 322.7h1.5M2000.9 327.4h1.5M1908.3 334.3h1.5M1846.8 345.5h1.5M1967.8 328.7h1.5M2069.5 312.2h1.5M1852 346.6h1.5M1829.6 339h1.5M2072.5 320.7h1.5M1869.1 343h1.5M1929.3 308.8h1.5M1893 322.3h1.5M1828.1 360.8h1.5M2010.8 317.8h1.5M1975.7 310.7h1.5M2011.4 315.8h1.5M1931.2 331.7h1.5M1986.7 331.6h1.5M1881 328.6h1.5M1972.1 331.1h1.5M1975.2 303.9h1.5M1884.9 344.1h1.5M1913.1 304.3h1.5M2060.1 318.1h1.5M2041.6 309.4h1.5M1960.4 341.5h1.5M1874.3 343.7h1.5M2004.2 320.4h1.5M2001.2 339.7h1.5M2086.2 317.7h1.5M2048.5 340.6h1.5M1907 339.5h1.5M1864.4 328.4h1.5M1957.4 342.7h1.5M1965.5 325h1.5M1933.6 339h1.5M2003.3 319.3h1.5M1943.7 330.7h1.5M1826.1 336.6h1.5M1990.9 318.6h1.5M1841.6 343.9h1.5M1834.8 350.4h1.5M2058.4 323.2h1.5M1863.1 327.3h1.5M1957.9 332.5h1.5M1871.3 352h1.5M1849.3 324.9h1.5M1958.2 342h1.5M1960.4 332.1h1.5M2064.2 330.1h1.5M1981.2 341.7h1.5M1837.2 360.1h1.5M1926 330.5h1.5M1990.5 324.7h1.5M1987.3 325.8h1.5M1917.1 327.9h1.5M1826.9 351.1h1.5M1938.5 343.8h1.5M2048.9 329.2h1.5M1958.9 326.1h1.5M1851.2 347.6h1.5M2002.1 320.9h1.5M1839.5 348.6h1.5M1944.5 310h1.5M1869.7 350.8h1.5M1845.8 348.9h1.5M1828.3 346.9h1.5M1912.1 329.2h1.5M1866.3 347.9h1.5M1861.4 346.9h1.5M2031.8 326.7h1.5M2026.4 315.2h1.5M1925.5 341.2h1.5M2025.1 332.7h1.5M2005 328.2h1.5M1855.4 351.3h1.5M1845.4 355.4h1.5M1956.5 352.2h1.5M1878.3 333.5h1.5M1935.5 322.6h1.5M1940.3 325.4h1.5M1919.5 339.9h1.5M1916.2 332.1h1.5M1960.2 347.1h1.5M1876.7 341.4h1.5M1953.3 339.2h1.5M1961.2 329.7h1.5M1887.1 345.2h1.5M1903 339h1.5M1903.6 328.3h1.5M2063.1 322h1.5M1897.5 349h1.5M1954.1 331.7h1.5M1981.3 331.3h1.5M1939.5 332.8h1.5M1944.9 320.7h1.5M1989.4 333.8h1.5M1862.2 346.7h1.5M1893.9 329.5h1.5M1926.9 353.3h1.5M1991.5 327h1.5M1833.3 347.9h1.5M2009.1 314.3h1.5M1837.4 333.6h1.5M1990.1 325.9h1.5M1952.8 328.5h1.5M1906.4 343.9h1.5M1945.5 325.7h1.5M1889.9 343h1.5M1857.7 354.6h1.5M1952.4 327.5h1.5M2075 304.5h1.5M1867.6 336.4h1.5M2072.4 310.9h1.5M2013.5 325.6h1.5M1849.8 348.7h1.5M1838.2 337.7h1.5M2027.1 317.7h1.5M1934.1 327.1h1.5M1865.8 348.7h1.5M1834.1 338.4h1.5M1991.2 333.5h1.5M1946.7 337.2h1.5M1927.2 341.6h1.5M1865.3 337.9h1.5M1951.1 326.3h1.5M2016.8 328.4h1.5M1877.7 339.6h1.5M1940 321.9h1.5M1842.1 345.4h1.5M1830.2 373.7h1.5M1863.5 335.2h1.5M1892.5 329h1.5M1828.5 362.3h1.5M1907.5 324.6h1.5M1916.5 352.1h1.5M1977 306.3h1.5M1930.1 333h1.5M1856.4 320.3h1.5M2010.1 322.8h1.5M2084 327.4h1.5M1964.4 327.5h1.5M1977.1 338.1h1.5M1885.2 334h1.5M1876.1 350.1h1.5M1867.2 344.1h1.5M1918.2 333.8h1.5M1842.4 337.3h1.5M1962.8 327.5h1.5M1959.4 329.8h1.5M1869.4 350.7h1.5M1865.8 348.3h1.5M2005.7 335h1.5M1928.6 320.2h1.5M1925.7 320.2h1.5M1872.3 335.3h1.5M1966.7 331.1h1.5M1843.8 328.9h1.5M1885.1 346.9h1.5M1954.3 351.9h1.5M1835.2 338.2h1.5M1932.6 319.6h1.5M1826.3 340h1.5M2076.6 312h1.5M1887.2 342.5h1.5M1937.8 334h1.5M1893.6 343.8h1.5M2008.9 334.8h1.5M1986.4 301.9h1.5M1968.9 330.4h1.5M1923 335.4h1.5M1944.5 340.8h1.5M1868.4 365.8h1.5M1848.3 336.3h1.5M2005.8 324.9h1.5M2083.3 308.7h1.5M2045.7 307.3h1.5M2015.8 333.1h1.5M1826.4 343.7h1.5M1867.1 344.1h1.5M1848.2 334.5h1.5M1891.1 322.3h1.5M1906.1 332.4h1.5M1850.7 340.9h1.5M1922.8 315.6h1.5M1857.5 340.9h1.5M1964.4 334h1.5M1927.3 337.7h1.5M1934.7 333.4h1.5M1971.2 329.7h1.5M1968.8 316.5h1.5M1910.9 332.6h1.5M1902.9 342.8h1.5M2053.2 318.6h1.5M1862 337.6h1.5M1987.9 327.6h1.5M2011.3 324.1h1.5M1975.1 325h1.5M1840.4 357.9h1.5M1894.5 338.7h1.5M2087.4 311.1h1.5M1887.6 331.8h1.5M1845.9 356.3h1.5M1902.3 333.2h1.5M1941.9 344.3h1.5M1889.2 331.7h1.5M1910.7 310.5h1.5M1835.4 355.5h1.5M1850.2 335.9h1.5M1894.1 331.7h1.5M1960.1 315.7h1.5M1894.3 348.9h1.5M1867.1 340.5h1.5M2067.6 330.7h1.5M1936 367.4h1.5M1840.9 338.4h1.5M1848 344.6h1.5M1977.8 317.6h1.5M1979.5 328.4h1.5M1940.9 329.9h1.5M1866.2 338.2h1.5M1954.1 339.2h1.5M1910.1 324.7h1.5M1852.3 331h1.5M1873.6 331.5h1.5M2083.6 328.2h1.5M1968.1 341.5h1.5M1896.8 347.8h1.5M1857.2 340.1h1.5M1883.3 330.5h1.5M1869.9 344.9h1.5M2001.5 317.3h1.5M1858.6 348.7h1.5M1850 344h1.5M1932.5 326.8h1.5M1993.7 319.5h1.5M1890.1 335.5h1.5M2067.2 307.8h1.5M1882.4 346.3h1.5M1880 339.9h1.5M1929.7 325.1h1.5M1972.7 336.5h1.5M1845.9 352.6h1.5M1891.2 340.1h1.5M1873.2 345.4h1.5M1927.9 331h1.5M1852.5 353.9h1.5M1865.8 342h1.5M1990.3 337h1.5M1868.2 331.6h1.5M2052.6 312.3h1.5M1914.5 344h1.5M1939.5 329.3h1.5M1878.8 342.4h1.5M1864 352.4h1.5M1911.3 333.8h1.5M1950.2 338.6h1.5M1951.5 341.3h1.5M1827.5 365.4h1.5M2078.9 303.1h1.5M1856.9 352.6h1.5M1882.1 327.8h1.5M1883.9 335h1.5M1861.2 340.8h1.5M1913 340.4h1.5M1901.1 342.5h1.5M1837.6 341.5h1.5M2034.2 309h1.5M2009.7 322.7h1.5M1923.6 340.4h1.5M1883.9 341.9h1.5M1970.8 327.3h1.5M1985.6 334.3h1.5M1986 317.4h1.5M2008.4 344.9h1.5M1976.9 317.1h1.5M1830.9 347.3h1.5M1914.8 334.5h1.5M1834.2 344.1h1.5M1907 346h1.5M1868.5 343h1.5M1850.2 358.9h1.5M2017.9 324.4h1.5M1946 337.4h1.5M1934.6 331.8h1.5M1882.3 357.7h1.5M1894.3 346.5h1.5M1944.6 339.3h1.5M1869.7 345.7h1.5M2057.7 311.6h1.5M1884.8 335.8h1.5M1949.8 331.5h1.5M1934.3 322.2h1.5M1827.4 339.2h1.5M1945.1 333.7h1.5M1843 314.6h1.5M1966.8 343.2h1.5M1947.7 342.2h1.5M1843.6 352.1h1.5M1968.8 327h1.5M1888.5 336.5h1.5M1975.1 324.8h1.5M1960.3 331.7h1.5M2082.8 328.9h1.5M1975.5 333.8h1.5M1895.8 335h1.5M1924.2 325h1.5M1881.4 333.1h1.5M1890.2 350h1.5M1924.1 335h1.5M1826.6 356.6h1.5M1983.8 342.6h1.5M1911.1 336.6h1.5M1838 369.8h1.5M1937.2 336.2h1.5M2038.9 316.9h1.5M1905 342.9h1.5M1850.5 345.9h1.5M1846.5 356.5h1.5M1891.6 346h1.5M1839.6 353.6h1.5M1864.7 344.2h1.5M1859.4 348.4h1.5M2042.9 314.3h1.5M2021.1 326.3h1.5M1931.5 331.1h1.5M1846 344.1h1.5M1997 320.7h1.5M1861.2 352.2h1.5M1968.2 321.6h1.5M1994.2 332.5h1.5M1944.3 330.5h1.5M2021.3 325.6h1.5M2054.2 308.7h1.5M1954.6 333.1h1.5M2004.9 326.5h1.5M1826.1 339.5h1.5M1948.9 303.7h1.5M1827.9 353.2h1.5M1982.4 342.1h1.5M1886.7 323.9h1.5M1959.8 331.4h1.5M1994.9 320.5h1.5M1911.8 332.8h1.5M1841.9 346.2h1.5M1842.1 340.9h1.5M1836.5 333.2h1.5M2041.5 322.6h1.5M1940.5 337.4h1.5M1999.2 321.2h1.5M1829.9 378.1h1.5M2021.5 307.5h1.5M1846.4 347.8h1.5M1902.1 338.1h1.5M1850.1 354.6h1.5M1871 331.6h1.5M2047.6 331.4h1.5M1869.3 348.9h1.5M2051.4 318h1.5M1833.8 349h1.5M1875.8 343.8h1.5M1835.3 369.9h1.5M1888.4 349h1.5M1959.9 332.3h1.5M1872.2 344.7h1.5M2045 324.6h1.5M1881.5 332.5h1.5M1896 331.9h1.5M1984 317.9h1.5M1980.7 349.7h1.5M1928.8 354.5h1.5M1943.1 326.5h1.5M2049.6 325h1.5M1973.3 309.3h1.5M1853.5 337.3h1.5M2065.5 338.4h1.5M1867.1 345.7h1.5M1898.9 340.7h1.5M1832.6 325.8h1.5M1845.3 338h1.5M2060.9 306.6h1.5M2069 314.9h1.5M2004.6 326.9h1.5M2011 338.9h1.5M1829.5 358.6h1.5M1959.8 342.4h1.5M1847.7 361.8h1.5M1955.5 305.7h1.5M1939.3 330.7h1.5M1997 329.8h1.5M1912.8 333.2h1.5M1837.9 341.1h1.5M1864.9 331.7h1.5M1971.2 333.2h1.5M1916.2 333.1h1.5M1910.3 339.9h1.5M1883.5 332.1h1.5M1924.3 325h1.5M2068.6 275.8h1.5M1855.5 346.8h1.5M1872.2 359.5h1.5M1893.6 340.6h1.5M2000 330.1h1.5M2043.9 331.9h1.5M1827.2 349.2h1.5M2019.6 309h1.5M2007.1 337.2h1.5M1936.5 326.3h1.5M1915.9 323.4h1.5M1984.8 318.7h1.5M1963.5 320.8h1.5M1908.8 337.1h1.5M1910.1 342.7h1.5M1925.2 317.9h1.5M1939.6 333.7h1.5M1855.3 341.9h1.5M1975.2 332.6h1.5M1899 342.9h1.5M2015.1 337.8h1.5M1942.3 335.8h1.5M1847.1 342.9h1.5M1845.2 342h1.5M1864.9 347.8h1.5M1822.4 342.8h1.5M1847.7 345.3h1.5M1846.4 344.8h1.5M1859.6 343.9h1.5M1848.7 345.1h1.5M1840.2 342.5h1.5M1850.1 344.6h1.5M1842.6 353h1.5M1842 344.4h1.5M1848.9 353.4h1.5M1839.4 340.4h1.5M1830.9 349.2h1.5M1833.3 351.4h1.5M1827.5 344.4h1.5M1832.2 347.3h1.5M1838.2 346.1h1.5M1854.1 345.2h1.5M1842.4 348.9h1.5M1838 347.2h1.5M1826.6 353.2h1.5M1834.2 349.2h1.5M1855.3 345.3h1.5M1853.5 343.2h1.5M1850.6 342.3h1.5M1844.9 340.5h1.5M1848.9 354.3h1.5M1838.9 346h1.5M1836.5 345.1h1.5M1853.7 346h1.5M1840.8 349.5h1.5M1848.1 352.2h1.5M1834.4 350.2h1.5M1844.6 354h1.5M1852.2 344h1.5M1843.8 346.1h1.5M1828.1 344h1.5M1855.2 344.8h1.5M1840.1 352.3h1.5M1840.8 344.4h1.5M1845 357.2h1.5M1833.9 347.5h1.5M1851.2 351.1h1.5M1836 339.8h1.5M1839.5 354.3h1.5M1833.2 351.8h1.5M1844.8 348.9h1.5M1856.2 341.5h1.5M1862.8 347.4h1.5M1840.3 346.7h1.5M1830.8 348.7h1.5M1849 344.3h1.5M1847.6 341.1h1.5M1831 347.6h1.5M1857.2 352.2h1.5M1846.4 349h1.5M1860.6 342.2h1.5M1831.2 353.4h1.5M1842.4 340.1h1.5M1850.5 355.4h1.5M1845.8 350.9h1.5M1833.4 354.3h1.5M1834.9 341.1h1.5M1840.5 344.1h1.5M1844.8 342.9h1.5M1842.6 341.6h1.5M1858.7 348.6h1.5M1840.9 349.7h1.5M1843.8 345.9h1.5M1839.5 344.8h1.5M1831.9 347.3h1.5M1832.2 350.5h1.5M1819.2 346.3h1.5M1831.7 351.7h1.5M1832 341.8h1.5M1834.9 347.8h1.5M1863.4 347h1.5M1851.1 341.5h1.5M1839.9 343h1.5M1835.7 346.4h1.5M1848 344.1h1.5M1845.9 349h1.5M1841.9 346.4h1.5M1848.9 342h1.5M1838.4 343h1.5M1835.8 351h1.5M1846.5 353.6h1.5M1844.5 340.4h1.5M1830.6 347.8h1.5M1833.2 343.6h1.5M1828.6 347.8h1.5M1844.3 349.8h1.5M1837.1 353.5h1.5M1832 344.1h1.5M1827.1 352.8h1.5M1844.9 348.1h1.5M1844.6 348.4h1.5M1837.9 344.8h1.5M1830.3 360.4h1.5M1844.9 341.9h1.5M1820 353.5h1.5M1850.8 359.7h1.5M1848.5 347.5h1.5M1841.1 342.4h1.5M1850.4 345.7h1.5M1819.7 341.7h1.5M1840.1 348.5h1.5M1848.4 343.8h1.5M1842.9 352.8h1.5M1842.6 346.7h1.5M1843.9 347.4h1.5M1838.9 352.5h1.5M1820.9 348.8h1.5M1845.5 352.1h1.5M1838.7 352.1h1.5M1852.2 348.8h1.5M1849.6 343h1.5M1842.4 344.6h1.5M1842.9 342.6h1.5M1838.6 343h1.5M1840.9 345.7h1.5M1863.2 333.6h1.5M1839.7 344.4h1.5M1855.6 351.3h1.5M1821.1 348.6h1.5M1835.7 347.2h1.5M1844.7 344.9h1.5M1845.2 351.5h1.5M1840.5 346.9h1.5M1845.2 347.4h1.5M1847.7 347.4h1.5M1850.3 350.7h1.5M1838.5 353h1.5M1856.2 347.4h1.5M1842.6 344.6h1.5M1833.3 346.3h1.5M1838.2 340.8h1.5M1835.4 346.4h1.5M1833.2 353.8h1.5M1824.3 346.8h1.5M1843 346.3h1.5M1862.9 343.2h1.5M1844.1 338.1h1.5M1829.9 346.7h1.5M1855.3 349.5h1.5M1855 347.5h1.5M1850.5 344.3h1.5M1848.8 350.2h1.5M1858.7 350h1.5M1841.1 347.9h1.5M1839 341.3h1.5M1839.2 345.9h1.5M1852.6 349.1h1.5M1850.5 350h1.5M1854 347.7h1.5M1859.6 348.2h1.5M1843.9 346.5h1.5M1838.4 349.9h1.5M1841.7 339.7h1.5M1832.4 345.5h1.5M1833.5 346.3h1.5M1832.5 352.6h1.5M1850.5 347h1.5M1842.4 347.2h1.5M1838 347h1.5M1830.7 342.7h1.5M1844.3 349.5h1.5M1824.4 352.4h1.5M1862.3 395.5h1.5M1853.6 395.5h1.5M1851.7 389.4h1.5M1860.9 395.1h1.5M1924.5 395.7h1.5M1888.4 392.7h1.5M1830.4 385.8h1.5M1882.1 388.5h1.5M1900.5 387.5h1.5M1910.9 388h1.5M1967.9 384.1h1.5M1929.7 396.4h1.5M1846.1 371h1.5M1828.9 388.6h1.5M1892.3 390.1h1.5M1943.1 386.9h1.5M1915.6 392.1h1.5M1909.2 386h1.5M1876.5 393.2h1.5M1957.7 386.4h1.5M1869.7 388.5h1.5M1836.4 391.6h1.5M1966 392.4h1.5M1923.7 392.2h1.5M1963.2 378.5h1.5M1899.2 383.9h1.5M1910.9 396.9h1.5M1866.8 385.1h1.5M1891.8 395.5h1.5M1920.3 389.6h1.5M1829.4 390.8h1.5M1856.1 396.4h1.5M1948.7 389.1h1.5M1891 391.9h1.5M1876.9 388.4h1.5M1871.2 370.2h1.5M1834.4 378.6h1.5M1868.9 388.2h1.5M1930.6 396.3h1.5M1843.8 384.3h1.5M1966.2 383h1.5M1863.8 392.4h1.5M1876.9 384.9h1.5M1874.1 390.7h1.5M1932.7 395.1h1.5M1938.8 386.9h1.5M1918.8 383.1h1.5M1838 390.1h1.5M1925.7 394.9h1.5M1923.4 393h1.5M1871.1 390.9h1.5M1926.9 387.9h1.5M1832.6 393.4h1.5M1860.7 389.8h1.5M1847.7 390.1h1.5M1885.3 385.5h1.5M1860.6 392.5h1.5M1857.8 394h1.5M1888.5 396.6h1.5M1830.1 380.6h1.5M1843.7 396.7h1.5M1897.6 392.1h1.5M1885.5 386.4h1.5M1833.6 381.1h1.5M1872.5 393.7h1.5M1902.4 387.5h1.5M1850.6 393.6h1.5M1859.4 385.3h1.5M1879.9 385h1.5M1923.9 393.6h1.5M1860.5 394.3h1.5M1950.3 390.3h1.5M1843.7 383.2h1.5M1916.1 396.2h1.5M1961.8 391.4h1.5M1936.5 381.7h1.5M1889.5 396h1.5M1935.1 387.9h1.5M1884.1 365.1h1.5M1867.7 389.5h1.5M1827.1 383.6h1.5M1875 396.6h1.5M1846.4 392.9h1.5M1862.1 396.2h1.5M1891.6 392.4h1.5M1933.9 396.5h1.5M1920.6 394.8h1.5M1962.4 384h1.5M1944.5 388.4h1.5M1966.4 388.1h1.5M1882 393.7h1.5M1830.4 395.7h1.5M1895.2 387.1h1.5M1961.2 379.5h1.5M1948.2 396.2h1.5M1844.9 395.1h1.5M1929.3 393.2h1.5M1918.7 378.5h1.5M1826.5 393.4h1.5M1852.2 390.9h1.5M1845.3 392.2h1.5M1838 387.7h1.5M1850.5 385.2h1.5M1890.5 384.9h1.5M1920.4 396.8h1.5M1863.3 395.9h1.5M1882.8 379.7h1.5M1927.2 392.1h1.5M1861.3 380.9h1.5M1883.8 394.1h1.5M1845.8 389.9h1.5M1836.4 395.8h1.5M1972.4 395.9h1.5M1931.3 390.2h1.5M1925.3 392.2h1.5M1941.6 362.3h1.5M1915.4 394.4h1.5M1951.2 395.7h1.5M1922.8 396.8h1.5M1935.9 384.3h1.5M1959.5 385.3h1.5M1896.1 392.2h1.5M1837.3 393.3h1.5M1845.3 389.1h1.5M1845.5 389.5h1.5M1909.6 393.3h1.5M1837.2 390.6h1.5M1968.1 382.8h1.5M1845.9 391.8h1.5M1959.1 394.7h1.5M1845.5 396.7h1.5M1895.4 386.7h1.5M1959.6 393.5h1.5M1843.8 384.8h1.5M1924 392.5h1.5M1827 394.9h1.5M1960.5 396.9h1.5M1840 393h1.5M1889.8 377.9h1.5M1966 378.6h1.5M1962.8 372.6h1.5M1888.3 383.7h1.5M1851.1 391.2h1.5M1956.6 384.5h1.5M1866 382.5h1.5M1864.7 395.9h1.5M1837.5 393h1.5M1859.1 383.9h1.5M1934.8 388.5h1.5M1828.5 386.9h1.5M1882.1 384.4h1.5M1909.7 389.4h1.5M1895.6 385.6h1.5M1963.9 389.6h1.5M1840 396.4h1.5M1903.2 395h1.5M1911.1 385.2h1.5M1893 374.6h1.5M1827.6 377.5h1.5M1906.4 391.9h1.5M1931.6 391.8h1.5M1973.9 395.5h1.5M1865.5 387.3h1.5M1833.9 383.8h1.5M1850.9 376.1h1.5M1827.4 384.2h1.5M1960.5 395.4h1.5M1877.6 388.1h1.5M1960.2 386.3h1.5M1954.7 393.2h1.5M1874.2 396.2h1.5M1941 385.3h1.5M1901.7 392.1h1.5M1883.2 393.2h1.5M1824.2 385.4h1.5M1930.5 394.2h1.5M1923.5 389.2h1.5M1848.7 396.3h1.5M1846 389.5h1.5M1866.2 391.3h1.5M1926.5 384.9h1.5M1890.7 379.8h1.5M1859.9 395.7h1.5M1833.3 389.8h1.5M1866.6 391h1.5M1912.4 384.3h1.5M1881.8 382.8h1.5M1969 393.2h1.5M1829 392.1h1.5M1913.8 391.5h1.5M1879.3 391.1h1.5M1970.5 391.4h1.5M1924.1 386.3h1.5M1892.6 394.5h1.5M1921.5 390.8h1.5M1839.5 387.2h1.5M1948.2 394h1.5M1852.7 393.9h1.5M1892.5 383.9h1.5M1883 388.4h1.5M1903.9 390.9h1.5M1879.6 379h1.5M1892.8 377.2h1.5M1865.5 376h1.5M1891.3 396.3h1.5M1850.8 379.8h1.5M1918.7 394.5h1.5M1882.2 395.5h1.5M1825.5 395.3h1.5M1835.8 392.2h1.5M1844.9 384.1h1.5M1887.9 393.2h1.5M1888 396.4h1.5M1846.8 394.9h1.5M1926.1 389.5h1.5M1943.1 373.6h1.5M1840.4 383.9h1.5M1932.2 389h1.5M1916.5 394.5h1.5M1889.8 383.3h1.5M1937.8 389.3h1.5M1878.8 378h1.5M1962.9 391.6h1.5M1870.4 391.7h1.5M1927.6 379.1h1.5M1958.5 383.1h1.5M1940.5 385.2h1.5M1967.3 387.1h1.5M1844.4 392.6h1.5M1920.3 386.9h1.5M1830.4 387.7h1.5M1864.5 384.6h1.5M1884.5 395.1h1.5M1910.4 391.4h1.5M1856.1 391.1h1.5M1898.9 385.9h1.5M1854.9 396.2h1.5M1966.3 394.1h1.5M1949 394.3h1.5M1900.5 389.2h1.5M1973.9 382.5h1.5M1934.4 390.1h1.5M1830.7 378h1.5M1901.9 395.7h1.5M1963.1 394h1.5M1908.6 392.7h1.5M1959.3 392.9h1.5M1914.7 392.7h1.5M1939.8 394.1h1.5M1952.2 391.2h1.5M1874.7 385.7h1.5M1858.9 395.5h1.5M1952 388h1.5M1943.5 391.7h1.5M1866.1 395.8h1.5M1888.6 394.8h1.5M1940.5 393h1.5M1850.7 392.3h1.5M1891 384.6h1.5M1878.9 373.1h1.5M1875.8 391.9h1.5M1862.8 374.3h1.5M1901.9 395.9h1.5M1909.6 395.4h1.5M1958 392.4h1.5M1906 396.6h1.5M1848.3 383.6h1.5M1941.8 389.1h1.5M1875.5 395.4h1.5M1838 394.9h1.5M1872.6 386.7h1.5M1870.2 396.5h1.5M1956.8 396.3h1.5M1971.8 392.6h1.5M1939.5 392.2h1.5M1827.5 387.9h1.5M1830 390.9h1.5M1865.5 384.8h1.5M1937 387.1h1.5M1851.9 393.5h1.5M1881.2 390.6h1.5M1965.8 390.4h1.5M1880.2 392.3h1.5M1843.9 393h1.5M1877.7 390h1.5M1917.7 385.9h1.5M1834.4 382.9h1.5M1856.2 390.9h1.5M1863.6 392.8h1.5M1949.5 395.1h1.5M1846.3 385.1h1.5M1931.3 394.5h1.5M1830.2 394.5h1.5M1923.2 395.8h1.5M1895.4 390h1.5M1866.4 396.9h1.5M1917.1 389.7h1.5M1908.9 386.2h1.5M1824 393.2h1.5M1919.1 388.3h1.5M1858.4 387.5h1.5M1877.1 385.8h1.5M1825.6 392.2h1.5M1839.7 389.9h1.5M1896.2 384.8h1.5M1824.3 383.6h1.5M1914.5 392.8h1.5M1858.1 386.6h1.5M1841.1 395.9h1.5M1849.9 385.6h1.5M1898.9 395.2h1.5M1885.7 386.3h1.5M1845.7 391.9h1.5M1873.4 395.7h1.5M1836.4 390.5h1.5M1932.3 396.3h1.5M1950.7 383.1h1.5M1824 387.1h1.5M1839.7 394.1h1.5M1934.7 391.4h1.5M1881.1 395.4h1.5M1903.2 384h1.5M1874.1 388.6h1.5M1842.8 393.9h1.5M1860.1 394.9h1.5M1829.6 395.2h1.5M1882.7 387h1.5M1890.9 392.2h1.5M1824 394.7h1.5M1884.5 384.6h1.5M1918.5 396.4h1.5M1934.5 396.1h1.5M1897.6 394.2h1.5M1841.9 390.6h1.5M1831.3 382.7h1.5M1838.2 385.4h1.5M1961.9 385.7h1.5M1915.8 395.7h1.5M1831.9 395.5h1.5M1841.8 384.9h1.5M1943.3 395.8h1.5M1865.2 389.8h1.5M1831.6 384.8h1.5M1884.2 394.7h1.5M1946.3 391.1h1.5M1877.3 392.2h1.5M1838.1 396.4h1.5M1946.5 390.8h1.5M1884.8 383.1h1.5M1873.9 395.4h1.5M1949.4 394.3h1.5M1837.5 384.8h1.5M1876.9 387.4h1.5M1897.1 390.7h1.5M1963.7 388.3h1.5M1968.8 396.8h1.5M1843.6 390.4h1.5M1918.6 393.5h1.5M1931.9 385.1h1.5M1833.2 384.7h1.5M1897 384.2h1.5M1898 387.6h1.5M1872.6 395.8h1.5M1859.8 394.8h1.5M1876.8 393.6h1.5M1921 393.2h1.5M1864 391.3h1.5M1911.1 384.8h1.5M1849.2 390.4h1.5M1867.2 392.5h1.5M1843.3 394.7h1.5M1924.5 394h1.5M1937.9 392.2h1.5M1952.7 389h1.5M1962.3 392.8h1.5M1961.5 391.1h1.5M1855.1 389.6h1.5M1923.7 391.5h1.5M1916.9 388.6h1.5M1912.2 395.7h1.5M1949.2 386h1.5M1932 388.5h1.5M1851.3 392.5h1.5M1827.7 389.7h1.5M1856.4 384.8h1.5M1927.5 391.2h1.5M1830.3 379.4h1.5M1827.9 396.4h1.5M1936.3 393.4h1.5M1937.1 391.4h1.5M1952.3 392.5h1.5M1824.4 396.3h1.5M1950.9 385.4h1.5M1867.3 396.1h1.5M1827.4 375.9h1.5M1971 388.5h1.5M1908 390.4h1.5M1856.9 382.5h1.5M1826.3 392h1.5M1879.6 381.4h1.5M1887.3 395.1h1.5M1874 375h1.5M1944.3 385.9h1.5M1881.2 392.5h1.5M1958.2 389.5h1.5M1873.5 390.7h1.5M1895.9 388.6h1.5M1918 393.2h1.5M1825.4 390.9h1.5M1917.8 389.3h1.5M1859.7 381.4h1.5M1903.6 392.6h1.5M1827.6 396.5h1.5M1973.6 387.8h1.5M1936.2 395.4h1.5M1909.6 393.6h1.5M1955.1 375.8h1.5M1916.8 391h1.5M1915.1 395.6h1.5M1961.2 396.5h1.5M1916.8 388.5h1.5M1870.4 389.3h1.5M1828.4 395.1h1.5M1880.9 385h1.5M1957.5 390.4h1.5M1856.1 394.6h1.5M1839.2 382.2h1.5M1945.5 388h1.5M1923.7 396.5h1.5M1905.5 381.1h1.5M1876.2 381.3h1.5M1856.6 396.9h1.5M1928.6 390.4h1.5M1959.1 388.4h1.5M1952.1 378.4h1.5M1833.9 389.8h1.5M1824.1 388.9h1.5M1886.7 386.6h1.5M1892.7 390.5h1.5M1860.5 378.7h1.5M1843.6 389.1h1.5M1904.3 386.6h1.5M1826.4 386.8h1.5M1903.9 388.4h1.5M1918.7 390.4h1.5M1825.5 388.9h1.5M1836.3 390.2h1.5M1870.4 379.2h1.5M1829.5 382.2h1.5M1906.7 389.7h1.5M1904.4 390.9h1.5M1907.8 394.5h1.5M1825.2 395.5h1.5M1898.8 396.9h1.5M1866.2 384.6h1.5M1893.8 390h1.5M1844.9 393h1.5M1911 395.4h1.5M1910.7 394.1h1.5M1945.3 389.1h1.5M1922.4 385.6h1.5M1830.7 387.5h1.5M1970.4 385h1.5M1871.1 391.5h1.5M1849.2 385.1h1.5M1965.4 393.2h1.5M1903.9 393.8h1.5M1927.6 391.1h1.5M1842.6 385.8h1.5M1965 384.5h1.5M1904.4 394.4h1.5M1876 379.4h1.5M1904.2 387h1.5M1826.6 390.3h1.5M1834.3 376.2h1.5M1862.7 395.7h1.5M1935.7 395.5h1.5M1841.4 391.8h1.5M1827.2 396.3h1.5M1928.5 389.8h1.5M1880.3 396.3h1.5M1890.1 392.4h1.5M1907 394.6h1.5M1872.5 382.3h1.5M1873.7 388h1.5M1826.3 390.9h1.5M1912.1 394.6h1.5M1900.6 395h1.5M1868.4 388.1h1.5M1848 395.5h1.5M1847.1 387.1h1.5M1943 392.5h1.5M1963.6 395.9h1.5M1830.8 395.1h1.5M1859 391.6h1.5M1824.6 383.3h1.5M1849.6 391.7h1.5M1835 396.4h1.5M1839.3 376.5h1.5M1847.7 395.8h1.5M1826.8 389h1.5M1962.4 396.7h1.5M1840.9 396.8h1.5M1824.5 388.4h1.5M1928.4 379.2h1.5M1933.1 395.1h1.5M1841.1 396.3h1.5M1925.7 389.1h1.5M1914 396.8h1.5M1963.5 385.9h1.5M1941.2 392.4h1.5M1966.2 391.2h1.5M1951 389.6h1.5M1960.1 395.5h1.5M1849.6 387.6h1.5M1868.1 394.8h1.5M1866.9 382.1h1.5M1941.6 374.2h1.5M1938 381.1h1.5M1963.1 392.1h1.5M1954.4 389.6h1.5M1947.1 385.9h1.5M1919.1 381.5h1.5M1956.7 395.8h1.5M1939.8 393.7h1.5M1864 396.5h1.5M1966.9 382.9h1.5M1835.1 383h1.5M1973.8 396.8h1.5M1914.6 386.3h1.5M1832.6 392.7h1.5M1869 394.1h1.5M1968.5 387.4h1.5M1863.7 391.8h1.5M1860 382.2h1.5M1939.2 391.8h1.5M1879 379.1h1.5M1902.3 392.7h1.5M1844 395.1h1.5M1872.7 397h1.5M1894.6 392.7h1.5M1829.9 395.1h1.5M1853.9 393.7h1.5M1840.8 388.8h1.5M1958.8 382.1h1.5M1959.3 388.1h1.5M1844.8 387.8h1.5M1971.1 388.9h1.5M1916.9 384.7h1.5M1923.7 394.7h1.5M1859.4 396.7h1.5M1928.2 387.5h1.5M1869.9 392.6h1.5M1918.6 386.2h1.5M1943.5 394.1h1.5M1828.4 392.6h1.5M1892.2 379.8h1.5M1828.7 394.8h1.5M1916.4 390.4h1.5M1951.8 386.3h1.5M1881.7 391.8h1.5M1849.1 388.8h1.5M1868 395.4h1.5M1890.1 391.8h1.5M1912.5 393.8h1.5M1852.4 396.4h1.5M1878.4 396.2h1.5M1890.2 395.9h1.5M1872 395.2h1.5M1863.1 395.7h1.5M1873.5 391.8h1.5M1848.9 394.4h1.5M1862.9 392.7h1.5M1872.6 393.2h1.5M1867.4 395.3h1.5M1900.4 396.5h1.5M1863.1 390.4h1.5M1861.7 394.1h1.5M1837.3 395.7h1.5M1890.7 395.6h1.5M1863 388.4h1.5M1860.5 393.6h1.5M1890.4 391.5h1.5M1881.1 395.8h1.5M1864.8 393.9h1.5M1861.5 391.5h1.5M1874.9 391.1h1.5M1882.6 394.5h1.5M1898.1 390.1h1.5M1861.6 395.5h1.5M1879.9 396.2h1.5M1876.9 389.2h1.5M1883.5 393.6h1.5M1852.1 394.2h1.5M1878.7 389.2h1.5M1892.1 394.8h1.5M1847 391.6h1.5M1861 389.7h1.5M1857.8 383.8h1.5M1852.4 386.8h1.5M1837.3 391.6h1.5M1879.2 396h1.5M1854.4 393h1.5M1852.2 390.9h1.5M1873.6 394.4h1.5M1805.7 391.3h1.5M1829.7 387.3h1.5M1863.1 394h1.5M1885.5 395.9h1.5M1887 390.8h1.5M1870.2 394.6h1.5M1869.7 394.8h1.5M1886.9 394h1.5M1871.6 394.1h1.5M1879 388.8h1.5M1873.5 393h1.5M1849.9 384.2h1.5M1849.1 396.4h1.5M1864.9 394.5h1.5M1840.3 393.7h1.5M1908.2 385.8h1.5M1845 395.5h1.5M1886.1 396h1.5M1875.9 391.4h1.5M1879.2 395.5h1.5M1874.6 394.6h1.5M1853.4 386.5h1.5M1847.1 393.1h1.5M1863.2 396.3h1.5M1875.7 392.6h1.5M1912.9 394.5h1.5M1879.8 388.9h1.5M1888 396h1.5M1874.3 396h1.5M1828.7 390.7h1.5M1841.9 394.4h1.5M1871.6 395.3h1.5M1834.2 396.5h1.5M1889.4 393.6h1.5M1865.2 392.4h1.5M1868.4 395.1h1.5M1875.7 393.1h1.5M1871.6 387h1.5M1871.8 395h1.5M1867.9 390.5h1.5M1873 391.3h1.5M1869.6 396.2h1.5M1855.7 394.1h1.5M1852.1 387.6h1.5M1855 395h1.5M1860 396.3h1.5M1869.3 394.5h1.5M1854.1 392.4h1.5M1889.1 389.2h1.5M1876.8 390.9h1.5M1868.5 394.7h1.5M1860.3 393h1.5M1882.1 391.8h1.5M1863.7 390.3h1.5M1871.1 396.3h1.5M1819.2 392.5h1.5M1884.8 390.7h1.5M1890.2 394.3h1.5M1878.9 391.8h1.5M1866.2 391.5h1.5M1886.4 396.4h1.5M1865.4 396.4h1.5M1861.4 395.3h1.5M1883.5 393.1h1.5M1853.6 395.1h1.5M1860 392.9h1.5M1869.5 387.3h1.5M1831.6 393.3h1.5M1867.3 389.3h1.5M1873.8 387.4h1.5M1849.9 393.2h1.5M1850.1 394.6h1.5M1884.6 395.3h1.5M1872 396.5h1.5M1867.3 390.7h1.5M1855.1 396h1.5M1889.5 396.3h1.5M1881 396.2h1.5M1846.5 395h1.5M1871 390.9h1.5M1892.6 395.8h1.5M1874.7 386.6h1.5M1866.1 395.5h1.5M1905.1 386.7h1.5M1842.3 388.8h1.5M1842.8 387.5h1.5M1881.9 391.6h1.5M1888.9 392.9h1.5M1875.2 391h1.5M1881.3 392.6h1.5M1878.2 388.7h1.5M1849 389.7h1.5M1856.2 393.8h1.5M1891.8 393.2h1.5M1890.2 388.7h1.5M1864.9 385.6h1.5M1850.2 395.8h1.5M1879.9 387.5h1.5M1865.7 393.7h1.5M1914.9 390.4h1.5M1890.4 390.8h1.5M1867.2 395.5h1.5M1854 395h1.5M1842.6 393.4h1.5M1841.6 394.4h1.5M1846.9 392.3h1.5M1890.6 396.4h1.5M1882.3 393.1h1.5M1864.8 393.3h1.5M1864.7 395.8h1.5M1897 386.1h1.5M1878.4 392.7h1.5M1857.5 396.1h1.5M1877.8 391.7h1.5M1866 394.8h1.5M2044.4 394.5h1.5M1969.2 392.8h1.5M1987.5 387.7h1.5M1976.7 383h1.5M2013.1 386h1.5M2039.1 388.4h1.5M2058.9 384.5h1.5M2032.7 380.7h1.5M2022 397h1.5M2045 396h1.5M1999.1 394.6h1.5M1979.2 398h1.5M2056.5 395.7h1.5M2034.3 380.9h1.5M1976.5 383.9h1.5M2000.2 393.4h1.5M1988 382.4h1.5M1964.9 385.4h1.5M2045.3 390.6h1.5M2059.9 378.6h1.5M2058.4 397.7h1.5M1964.1 394h1.5M1964.9 382.4h1.5M2023.8 395.9h1.5M2064.4 387.5h1.5M1989.6 389.1h1.5M2038.6 380.2h1.5M2048.6 392.3h1.5M1829.2 381.2h1.5M1832 377h1.5M1839.7 367.6h1.5M1848.9 379.4h1.5M1845.9 369.2h1.5M1844.7 373.8h1.5M1837.4 361.7h1.5M1855.9 364.7h1.5M1851 369.9h1.5M1850.6 360.1h1.5M1849.9 372.8h1.5M1834.8 381.6h1.5M1827.2 375.8h1.5M1872.8 361.4h1.5M1833.6 371.2h1.5M1848.9 361.4h1.5M1847.9 360.9h1.5M1850.7 360.4h1.5M1834.6 369.6h1.5M1831.5 379.8h1.5M1855.9 369.5h1.5M1857.4 364.7h1.5M1833 377.6h1.5M1841.5 363.1h1.5M1835.3 380.6h1.5M1844 361.8h1.5M1852.9 378.7h1.5M1845.8 367.5h1.5M1849 373.9h1.5M1855.4 367.8h1.5M1838.5 381.7h1.5M1853.4 362.8h1.5M1848.8 372.8h1.5M1852.8 367.4h1.5M1848.8 361.8h1.5" stroke="#434e9e" stroke-width="1.5" fill="none"/>
<path d="M1885.2 395.3h1.5M1874.2 394.5h1.5M1863.1 392h1.5M1832.6 389.3h1.5M1885.3 393.9h1.5M1899.9 392.2h1.5M1861.4 395.2h1.5M1891.7 391h1.5M1857.6 387.5h1.5M1875.6 393.8h1.5M1870.6 391.9h1.5M1848.1 394.3h1.5M1859.9 393.7h1.5M1861.1 392.7h1.5M1853 392.6h1.5M1856.3 391.3h1.5M1881.7 394.5h1.5M1887.2 387.4h1.5M1881.1 392.9h1.5M1859.4 392.9h1.5M1845.2 395h1.5M1889 394.8h1.5M1866.8 391.4h1.5M1868.2 393.7h1.5M1855.5 394.6h1.5M1881.8 391.6h1.5M1852.8 393.1h1.5M1857.9 391.3h1.5M1875.7 394.7h1.5M1873.5 395.2h1.5M1860.8 394.2h1.5M1845.8 388.1h1.5M1880.5 395.5h1.5M1853.6 392.8h1.5M1861.4 386.8h1.5M1844.9 395.3h1.5M1851.4 389.4h1.5M1844.8 390.1h1.5M1857.1 394.4h1.5M1893.1 395.2h1.5M1868.5 394.8h1.5M1850.7 391.3h1.5M1847.5 393h1.5M1853.1 394.4h1.5M1871.2 393.1h1.5M1840.5 393.4h1.5M1842.8 394.7h1.5M1900.8 393h1.5M1855.6 393.2h1.5M1862 393.6h1.5M1882.3 392.2h1.5M1873.2 392.8h1.5M1852 394.5h1.5M1851.4 393.4h1.5M1845.8 389.1h1.5M1866.1 393.5h1.5M1863.8 395h1.5M1855 388.6h1.5M1863.3 392.5h1.5M1853.2 392.2h1.5M1858.3 394.4h1.5M1864 393.2h1.5M1861.5 394.4h1.5M1874.1 394.8h1.5M1856.4 392.6h1.5M1854.9 394.3h1.5M1863.2 394.4h1.5M1874.3 390.4h1.5M1873.6 393.9h1.5M1851.9 393.1h1.5M1856.7 392.9h1.5M1874.6 394.5h1.5M1854.8 393h1.5M1880.8 391.3h1.5M1857.5 393.5h1.5M1862.6 391.8h1.5M1847.1 392.6h1.5M1869.8 390.5h1.5M1849.3 394.7h1.5M1881.2 392.8h1.5M1843.3 345.6h1.5M1846.3 348.7h1.5M1831 347.4h1.5M1850.1 344h1.5M1835.6 349.3h1.5M1847.3 348.4h1.5M1840.2 338.7h1.5M1847 349.6h1.5M1840.6 351.1h1.5M1845.4 343.5h1.5M1835.8 348.9h1.5M1832.7 348.2h1.5M1838.8 347.4h1.5M1851.4 349.5h1.5M1847.4 344.3h1.5M1838.9 348h1.5M1836.1 347.4h1.5M1844.9 349.5h1.5M1846.7 351.6h1.5M1843.4 347.5h1.5M1842.1 344.3h1.5M1841.7 347.7h1.5M1845.3 350.3h1.5M1838.8 345.1h1.5M1824.3 347.8h1.5M1842 346.2h1.5" stroke="#93b84a" stroke-width="1.5" fill="none"/>
<path d="M1858.8 392.9h1.6M1852.5 393.2h1.6M1864.6 390.5h1.6M1871.8 391.6h1.6M1861.5 395.7h1.6M1859.5 391.5h1.6M1853.8 393.5h1.6M1864.3 390.6h1.6M1877.8 389.6h1.6M1846.2 391.6h1.6M1850.6 389.3h1.6M1854.8 392.7h1.6M1855.9 392.3h1.6M1849.9 395.8h1.6M1847.2 394.1h1.6M1857.5 395.6h1.6M1864.3 396.6h1.6M1863.1 395.6h1.6M1860.1 391h1.6M1862.3 392.1h1.6M1856.1 387.5h1.6M1856.4 389.7h1.6M1854.3 391.9h1.6M1861.7 391.3h1.6M1854.4 394h1.6M1861.6 386.2h1.6M1856.7 392h1.6M1858.5 391h1.6M1857.4 394.6h1.6M1852.1 390.5h1.6M1861.9 389.8h1.6M1866.3 393.8h1.6M1859.1 390.7h1.6M1867.6 388.4h1.6M1862.1 390.8h1.6M1845.6 392.3h1.6M1841.8 390.5h1.6M1856.5 391.1h1.6M1857.9 393.3h1.6M1862.3 390.4h1.6M1867.5 392.6h1.6M1855.1 394h1.6M1858.9 389h1.6M1853.2 389.8h1.6M1860.2 392.6h1.6M1856.5 388.6h1.6M1869.3 389.5h1.6M1849.2 393.2h1.6M1863.3 393.5h1.6M1859.4 391.3h1.6M1855.3 393h1.6M1863.1 390.1h1.6M1853.2 390.8h1.6M1861.3 392.1h1.6M1861.4 391.2h1.6M1875.1 388.6h1.6M1885 392.3h1.6M1872.3 389.6h1.6M1898.8 390h1.6M1891.3 389.4h1.6M1878.1 384.9h1.6M1880.1 391.6h1.6M1885.9 391h1.6M1880.1 391.8h1.6M1879.1 391.2h1.6M1896.6 390.6h1.6M1867.4 388.2h1.6M1880.6 394.9h1.6M1888.8 386.9h1.6M1892.3 392.6h1.6M1882.7 390.7h1.6M1891.3 389.9h1.6M1881.8 388.2h1.6M1886.8 387h1.6M1887.1 392.5h1.6M1884.7 389.4h1.6M1888.5 389.4h1.6M1854.1 346.7h1.6M1847.5 345.6h1.6M1841.9 344.8h1.6M1860.4 344.8h1.6M1846.3 344.9h1.6M1851.6 345.7h1.6M1845.4 347h1.6M1841.2 345.4h1.6M1849.7 346.9h1.6M1855.5 347h1.6M1841.3 346.8h1.6M1848.6 345.6h1.6" stroke="#efd22c" stroke-width="1.6" fill="none"/>
<path d="M1866 390.6h1.6M1857.9 391.5h1.6M1851.3 392.8h1.6M1862.8 390h1.6M1859.1 392.1h1.6M1862.5 394.4h1.6M1860.5 392.1h1.6M1858 393.3h1.6M1860 391.1h1.6M1859.3 393.2h1.6M1854 390.9h1.6M1864.1 391.9h1.6" stroke="#f08a2c" stroke-width="1.6" fill="none"/>
</g>
<polygon points="1731.7,40.2 2088.2,40.2 2088.2,359.7 1731.7,359.7" fill="none" stroke="#000" stroke-width="1.4" stroke-linejoin="miter"/>
<rect x="1701" y="16.3" width="396.1" height="383.4" fill="none" stroke="#000" stroke-width="1.8"/>
<path d="M1702.3 399.7v11.5M1777.3 399.7v11.5M1852.3 399.7v11.5M1927.3 399.7v11.5M2002.3 399.7v11.5M2077.3 399.7v11.5" stroke="#000" stroke-width="2.6" fill="none"/>
<path d="M1717.3 399.7v5.5M1732.3 399.7v5.5M1747.3 399.7v5.5M1762.3 399.7v5.5M1792.3 399.7v5.5M1807.3 399.7v5.5M1822.3 399.7v5.5M1837.3 399.7v5.5M1867.3 399.7v5.5M1882.3 399.7v5.5M1897.3 399.7v5.5M1912.3 399.7v5.5M1942.3 399.7v5.5M1957.3 399.7v5.5M1972.3 399.7v5.5M1987.3 399.7v5.5M2017.3 399.7v5.5M2032.3 399.7v5.5M2047.3 399.7v5.5M2062.3 399.7v5.5M2092.3 399.7v5.5" stroke="#000" stroke-width="1.2" fill="none"/>
<text x="1704.3" y="427" text-anchor="middle" class="tk">0</text>
<text x="1774.8" y="427" text-anchor="middle" class="tk">50K</text>
<text x="1849.8" y="427" text-anchor="middle" class="tk">100K</text>
<text x="1924.8" y="427" text-anchor="middle" class="tk">150K</text>
<text x="1999.8" y="427" text-anchor="middle" class="tk">200K</text>
<text x="2074.8" y="427" text-anchor="middle" class="tk">250K</text>
<path d="M1701 399.2h-11.5M1701 326.2h-11.5M1701 253.2h-11.5M1701 180.2h-11.5M1701 107.2h-11.5M1701 34.2h-11.5" stroke="#000" stroke-width="2.6" fill="none"/>
<path d="M1701 384.6h-5.5M1701 370h-5.5M1701 355.4h-5.5M1701 340.8h-5.5M1701 311.6h-5.5M1701 297h-5.5M1701 282.4h-5.5M1701 267.8h-5.5M1701 238.6h-5.5M1701 224h-5.5M1701 209.4h-5.5M1701 194.8h-5.5M1701 165.6h-5.5M1701 151h-5.5M1701 136.4h-5.5M1701 121.8h-5.5M1701 92.6h-5.5M1701 78h-5.5M1701 63.4h-5.5M1701 48.8h-5.5M1701 19.6h-5.5" stroke="#000" stroke-width="1.2" fill="none"/>
<text x="1678.7" y="398.5" text-anchor="end" class="tk">0</text>
<text x="1678.7" y="332.5" text-anchor="end" class="tk">50K</text>
<text x="1678.7" y="259.5" text-anchor="end" class="tk">100K</text>
<text x="1678.7" y="186.5" text-anchor="end" class="tk">150K</text>
<text x="1678.7" y="113.5" text-anchor="end" class="tk">200K</text>
<text x="1678.7" y="40.5" text-anchor="end" class="tk">250K</text>
<text transform="translate(1890.3 476.8) scale(0.8275 1)" text-anchor="middle" class="ax" font-size="43.5">FSC-A</text>
<text transform="translate(1613 217.4) rotate(-90) scale(0.9595 1)" text-anchor="middle" class="ax" font-size="43.5">Vibrant dye</text></g>
<g><defs><clipPath id="c5"><rect x="132.4" y="504.9" width="386.6" height="385.7"/></clipPath></defs>
<g clip-path="url(#c5)">
<path d="M372.9 632.1h1.5M428.5 638.8h1.5M378.9 633.4h1.5M424 604.4h1.5M465.3 606.5h1.5M289.3 604.9h1.5M321.4 603.7h1.5M431 611.6h1.5M486.8 608.6h1.5M415.6 614.3h1.5M260.9 616.3h1.5M406.5 633.1h1.5M299.3 634.1h1.5M461 599.2h1.5M405.4 638.9h1.5M264.2 624.3h1.5M258.3 643.6h1.5M360.3 626.5h1.5M271.5 603.2h1.5M349.6 630.9h1.5M364.2 630.1h1.5M376.5 602.2h1.5M390.5 620h1.5M362.8 629.7h1.5M327.1 618.9h1.5M420.9 603.9h1.5M379.2 614h1.5M283.2 643.8h1.5M357.5 625h1.5M265.5 601.9h1.5M299.1 606.9h1.5M423.4 576.3h1.5M425.6 583.6h1.5M431.8 615h1.5M437.9 623.8h1.5M302.6 601.5h1.5M396.9 602.6h1.5M359.4 589.6h1.5M408.2 657.8h1.5M433.3 618.3h1.5M291.3 606.9h1.5M445.5 609.6h1.5M407.9 602.7h1.5M336.4 613.1h1.5M329.8 598.3h1.5M376.4 603.9h1.5M259.5 636.9h1.5M376.2 600h1.5M283.3 593.3h1.5M345.1 625.4h1.5M357.7 604.8h1.5M284.6 609.4h1.5M302.2 641.2h1.5M380.9 606.6h1.5M473 641.3h1.5M361.6 584.5h1.5M437.8 600.7h1.5M404.6 589.7h1.5M332.3 603.5h1.5M300 588.5h1.5M423.6 601.5h1.5M443.1 621h1.5M371.1 620h1.5M339.1 607.2h1.5M380.4 613.4h1.5M316.7 625h1.5M384.5 637.9h1.5M327.4 654.1h1.5M372.9 629.6h1.5M400.3 583h1.5M347.5 632h1.5M457 607.8h1.5M467.1 632.4h1.5M334.5 637.2h1.5M371 586.7h1.5M408.4 613.7h1.5M342.1 589.8h1.5M334.4 633h1.5M333.1 590.2h1.5M302.2 630.1h1.5M470.3 590.9h1.5M328.4 623.7h1.5M430.3 602.3h1.5M392 642.7h1.5M328.1 605.5h1.5M376 620.5h1.5M366.9 590.1h1.5M366.6 627.3h1.5M300.9 595.8h1.5M326.4 643.2h1.5M354.9 593.3h1.5M453.9 630.6h1.5M347.6 617.5h1.5M381.4 623.4h1.5M361.7 615.7h1.5M332.9 613.6h1.5M405 615h1.5M345.9 581.6h1.5M389.3 609.7h1.5M368.6 643.9h1.5M381.8 609.8h1.5M393.8 582.6h1.5M353.3 609h1.5M400.4 619.6h1.5M432.5 613.3h1.5M345.5 613.8h1.5M279.4 596.4h1.5M349 631.7h1.5M384.1 590.2h1.5M417.7 621.5h1.5M383.8 631.5h1.5M378.1 631.5h1.5M397 597.9h1.5M390.8 626.1h1.5M495.7 604.2h1.5M373.4 586.5h1.5M322.2 576.3h1.5M379.4 625.6h1.5M293 629h1.5M380 601.7h1.5M367.6 586.8h1.5M370 612.4h1.5M268.7 611.8h1.5M319.3 596.7h1.5M324.2 612.5h1.5M339.5 624.1h1.5M455.2 610h1.5M327.3 615.4h1.5M266.9 600.6h1.5M316.8 623.5h1.5M385.3 615.8h1.5M256.1 616h1.5M286.8 644.8h1.5M399.3 650.7h1.5M394.4 580.2h1.5M459.9 610.5h1.5M390.6 629.2h1.5M299.2 627.1h1.5M311.2 634h1.5M411.8 614.3h1.5M376.4 622.2h1.5M369.5 577.3h1.5M426.6 622.8h1.5M415.2 612.7h1.5M426.7 632.6h1.5M429.4 584h1.5M360.5 629.2h1.5M380.6 636.9h1.5M383.6 640.7h1.5M295.4 616h1.5M464.4 584.2h1.5M359.1 639.2h1.5M368.7 614.5h1.5M393.1 603.1h1.5M351.3 638.5h1.5M405.1 598.4h1.5M357.2 595.3h1.5M445.7 614.4h1.5M389.2 622.3h1.5M297.8 625.4h1.5M377.9 623.7h1.5M326.6 606.2h1.5M286.6 602.5h1.5M325.1 646h1.5M386.6 611h1.5M396.5 615.3h1.5M319.3 612.8h1.5M350.2 562.9h1.5M324 615.9h1.5M394.2 648.8h1.5M418.9 579.9h1.5M435.9 612h1.5M369 596.6h1.5M428.5 632.2h1.5M318.6 627.4h1.5M329.3 606.8h1.5M468.1 615.9h1.5M377.1 583.1h1.5M344.7 625.6h1.5M329.7 600.3h1.5M368 591.4h1.5M257.8 620.6h1.5M397.7 579.1h1.5M353 642.3h1.5M309.6 616.8h1.5M419.5 612.2h1.5M413.1 616.3h1.5M401.1 620.4h1.5M303.3 635.4h1.5M355.2 614.1h1.5M260.5 608.4h1.5M315.9 622.1h1.5M410.2 630.3h1.5M377.7 597h1.5M397.4 613.2h1.5M343.6 620.5h1.5M259.4 613.8h1.5M425.6 603.9h1.5M348.6 645.2h1.5M263 613.4h1.5M374.2 608.9h1.5M267.7 601.3h1.5M407.4 608.8h1.5M442.5 601.8h1.5M366.8 599.8h1.5M435.4 617.9h1.5M415.6 610.6h1.5M540 606.7h1.5M305 615.4h1.5M382.8 610.7h1.5M337.6 607h1.5M367.3 592.3h1.5M325.5 600.8h1.5M448.2 589.2h1.5M446.5 615.5h1.5M399.3 650.5h1.5M460.6 596.3h1.5M307.9 580.1h1.5M370.7 626.2h1.5M443.9 598.9h1.5M339.9 643.8h1.5M365.2 609.7h1.5M460.9 601.4h1.5M367.2 604.9h1.5M394.2 612.7h1.5M371 607.3h1.5M357.5 626.7h1.5M328.9 619.4h1.5M429.3 623.8h1.5M425.5 619h1.5M364.5 619.1h1.5M451.6 627h1.5M433.1 621.1h1.5M274.3 586.5h1.5M289.5 593h1.5M390.4 605.9h1.5M473.8 622h1.5M361.3 631.1h1.5M354.9 621h1.5M317.2 623.9h1.5M389.2 601.2h1.5M435.7 625.8h1.5M410.8 598.6h1.5M338.3 645.8h1.5M377.7 608.3h1.5M431.1 626.7h1.5M313.6 623.6h1.5M344.7 616.5h1.5M381 576.5h1.5M330.4 602.8h1.5M354.3 598.7h1.5M432.7 626.7h1.5M257 595.7h1.5M343 616.5h1.5M351.6 609.6h1.5M344.9 657.4h1.5M330.3 623.5h1.5M395.2 610.2h1.5M380.8 584.6h1.5M397.3 607.5h1.5M314.6 617h1.5M406.1 612.8h1.5M384.6 617h1.5M342 586.5h1.5M284.8 632.2h1.5M426.6 583.8h1.5M385.7 627.4h1.5M380.4 616.1h1.5M447.1 610.3h1.5M331.7 593.6h1.5M368.2 615h1.5M352.7 629h1.5M413.1 616.7h1.5M387.6 608h1.5M319 601.7h1.5M349.1 589.8h1.5M271.4 615.3h1.5M307.2 629.2h1.5M285.6 630h1.5M363.4 617.9h1.5M437.3 601.5h1.5M316.5 628.2h1.5M411.2 617.2h1.5M376 606.9h1.5M328.2 642.5h1.5M300.6 612.3h1.5M340 614.8h1.5M439.9 594.7h1.5M343.3 622.5h1.5M370.3 627.6h1.5M342.2 573.9h1.5M359.7 614h1.5M431.1 604.5h1.5M332.3 586.5h1.5M418.2 620.4h1.5M276.4 612.8h1.5M360.8 632.3h1.5M406.6 611.5h1.5M350.3 593.6h1.5M411.1 609.9h1.5M380 590.6h1.5M347.7 602.3h1.5M355.2 610.3h1.5M384.4 600.5h1.5M361 575.6h1.5M372.1 598.8h1.5M378.8 601.3h1.5M276.8 609.9h1.5M444.4 612.6h1.5M334.5 608.5h1.5M321.1 593.4h1.5M411.8 624.4h1.5M364.9 602.8h1.5M565.9 622.8h1.5M392.6 604h1.5M307.5 614.7h1.5M332.9 616.9h1.5M323.2 624.2h1.5M433.8 611.6h1.5M428.7 635.2h1.5M290.1 602.8h1.5M300 627.6h1.5M375.5 616h1.5M268.2 630.4h1.5M372.6 603.8h1.5M295.6 598.6h1.5M387.6 607.7h1.5M371.4 616.7h1.5M359.4 628h1.5M507.7 603.9h1.5M356 613h1.5M435.3 613.5h1.5M374.3 617.7h1.5M376.5 610.8h1.5M451.5 619.8h1.5M433.9 600.9h1.5M425.2 598.3h1.5M373.6 584h1.5M269.5 581.7h1.5M275.8 590.9h1.5M368.2 598.9h1.5M414.1 559.9h1.5M404.7 587h1.5M377.6 612.8h1.5M343.8 629.2h1.5M381.6 617.3h1.5M431.8 616.3h1.5M444.8 601.2h1.5M387.7 610.1h1.5M256.9 632.4h1.5M288.2 641.9h1.5M371.3 615.2h1.5M450.7 596.1h1.5M352.3 612.9h1.5M338.2 629.2h1.5M332.9 607.3h1.5M353.2 619.8h1.5M384.7 622h1.5M304.7 623.8h1.5M382.5 603h1.5M402.5 603.3h1.5M452.3 617h1.5M486 588h1.5M255.8 628.1h1.5M332.7 597.1h1.5M287 614.3h1.5M349.9 609.3h1.5M376.8 629.9h1.5M387.8 615.1h1.5M381.3 620.1h1.5M367.8 619.2h1.5M307.7 592.8h1.5M400 605.9h1.5M345.2 647.7h1.5M313.8 614.9h1.5M306.4 608.1h1.5M359 593.2h1.5M426.9 588.9h1.5M285.7 625.5h1.5M508.9 620.6h1.5M379 613.1h1.5M360.3 637.6h1.5M365.3 609.9h1.5M433.5 627.9h1.5M409 629.6h1.5M449.2 632.2h1.5M345.9 584.8h1.5M422.7 624.7h1.5M345.4 599.6h1.5M257.2 605h1.5M393.9 605.2h1.5M338.9 621.9h1.5M294.7 633.5h1.5M402.6 627.8h1.5M270 627h1.5M314.7 619h1.5M384 633.6h1.5M378.3 598.9h1.5M363.4 599.9h1.5M380.5 618.3h1.5M379.2 628.3h1.5M355.4 630.4h1.5M317.7 590.5h1.5M410.8 612.6h1.5M287.4 581.4h1.5M424.3 627.8h1.5M457.5 646.9h1.5M469.7 609.6h1.5M269.3 601.3h1.5M399 599.9h1.5M430.1 600.5h1.5M383.4 618.2h1.5M364.7 612.3h1.5M374.2 597.5h1.5M433.8 586.4h1.5M262.5 601.7h1.5M398 592.4h1.5M258.4 597.7h1.5M396 630.8h1.5M425.2 609.5h1.5M340.8 659.2h1.5M399 594.9h1.5M348.2 607.4h1.5M309.3 600.3h1.5M378.3 624.4h1.5M382.4 618.5h1.5M316 608.8h1.5M266.1 600.8h1.5M455.2 628.5h1.5M335.1 642.3h1.5M477.9 640.2h1.5M281 606.9h1.5M304 616.2h1.5M404.6 612.4h1.5M424.4 599.3h1.5M369.1 646.4h1.5M444.4 589.8h1.5M332.6 623h1.5M355.4 595.9h1.5M357.6 603.5h1.5M395.4 626.3h1.5M408.4 604h1.5M346.6 611h1.5M341.9 606.6h1.5M299.6 618.6h1.5M389.6 583.8h1.5M255.7 597.6h1.5M405.7 630.9h1.5M288.4 622.1h1.5M414.3 645h1.5M264.3 608.4h1.5M380.2 620.6h1.5M326.5 582.4h1.5M381.6 614.3h1.5M489.6 604.2h1.5M424 620h1.5M446.7 634.7h1.5M521.5 611.1h1.5M352.8 623.1h1.5M375.1 610.7h1.5M289.5 608.7h1.5M293.6 592.2h1.5M395.9 609.8h1.5M315.3 616.3h1.5M256.1 597h1.5M303.3 608.3h1.5M351.2 612.4h1.5M441.6 625.2h1.5M328.9 624.8h1.5M382.8 598.3h1.5M347.5 615h1.5M487.8 637.6h1.5M422.6 596.4h1.5M375.8 591.7h1.5M257.7 632.6h1.5M419.6 585.9h1.5M390.4 614h1.5M416.3 632.3h1.5M455.4 622.7h1.5M385.5 586h1.5M451.6 601.6h1.5M275.5 608.7h1.5M433 620.1h1.5M330.4 603.6h1.5M408.8 610.6h1.5M372.8 617.7h1.5M381.3 589h1.5M407.5 632.1h1.5M268.9 617.5h1.5M435.7 585.3h1.5M352.5 609h1.5M309 620.2h1.5M289.9 584.6h1.5M260.5 616.4h1.5M343 611.6h1.5M360.1 596.7h1.5M384.5 597.7h1.5M295.1 607.6h1.5M406.2 645.7h1.5M384.1 618.2h1.5M321.9 611.5h1.5M401.4 621.9h1.5M315.7 620.9h1.5M408.6 604.8h1.5M354.7 604.4h1.5M368.3 628.1h1.5M418.8 598.8h1.5M295.3 620.3h1.5M347 611.5h1.5M401.9 611h1.5M336.4 624.3h1.5M455.6 609.2h1.5M326.7 583.5h1.5M437.1 587.8h1.5M374.7 583.9h1.5M451.3 582.7h1.5M328.3 604.5h1.5M352.8 636.5h1.5M372.3 612.9h1.5M326.8 620.4h1.5M257.1 712.1h1.5M257.7 611.7h1.5M268.4 719.8h1.5M259.7 618.7h1.5M262.1 752.8h1.5M254.9 599h1.5M271 624.7h1.5M268.5 638h1.5M278.8 760h1.5M260 595.1h1.5M257.1 663.2h1.5M265.8 689.2h1.5M261.1 654.6h1.5M265.7 728.8h1.5M256.8 619.4h1.5M260 731.5h1.5M269.8 726.8h1.5M274.3 650.1h1.5M256.9 707h1.5M263.5 686.6h1.5M258.5 697.8h1.5M270.5 642.2h1.5M267.3 705.5h1.5M276.5 714h1.5M284.4 691h1.5M251.8 634h1.5M270.4 690.4h1.5M268.9 723.4h1.5M266.4 672.6h1.5M268.6 670.8h1.5M273.4 734h1.5M254.1 680.9h1.5M270.6 683.6h1.5M267.5 731.3h1.5M268.5 650.6h1.5M271.3 667h1.5M273.3 647h1.5M268.9 687.8h1.5M268.8 641.1h1.5M267.8 688.7h1.5M261.9 618.4h1.5M269.6 622.5h1.5M279.1 661.2h1.5M263 729.7h1.5M273.6 744.1h1.5M260 614.7h1.5M260.3 617.6h1.5M258.4 663.3h1.5M283.4 708.9h1.5M258.2 733.9h1.5M279.9 733.7h1.5M278.5 601h1.5M270.6 679.4h1.5M259.8 613.3h1.5M253.7 646.5h1.5M267.6 598.2h1.5M272.3 631h1.5M267.2 711.6h1.5M262.2 658.4h1.5M273.3 661h1.5M267.7 641.3h1.5M266.2 738.1h1.5M272.4 694.4h1.5M259.2 618.8h1.5M262 594.9h1.5M265.1 638.1h1.5M271.3 712.1h1.5M266.1 614.4h1.5M265.2 715.4h1.5M278.2 736.9h1.5M272.8 653.5h1.5M257 716.1h1.5M282 675.9h1.5M261.1 676.2h1.5M261.7 726.6h1.5M275.5 677.9h1.5M248 616.9h1.5M262.4 628.6h1.5M271.5 638.6h1.5M268.5 623.1h1.5M255.2 619.8h1.5M271.8 596.2h1.5M266.8 612.4h1.5M268.5 742.1h1.5M265.6 651.4h1.5M268.9 590.6h1.5M266.8 592.4h1.5M287.6 712.6h1.5M264.8 662.8h1.5M278.4 739.3h1.5M311.8 582.4h1.5M255.6 579.7h1.5M379.8 527.6h1.5M399.1 527.1h1.5M349.1 543.3h1.5M269.6 540.9h1.5M287.5 563.9h1.5M424.4 533.7h1.5M338 579h1.5M341.7 597.4h1.5M313.3 554.9h1.5M342.1 558.1h1.5M338.8 575.3h1.5M353.4 522.8h1.5M422.4 586.6h1.5M327.6 599h1.5M382.3 526.3h1.5M345.8 579.6h1.5M356.8 570.8h1.5M290.6 586.2h1.5M303.9 550.8h1.5M366.4 548.7h1.5M186.8 532.6h1.5M448.5 597.2h1.5M326.4 575.3h1.5M298.9 571.7h1.5M418.4 582.1h1.5M354.6 575.1h1.5M349.5 542.8h1.5M403.3 574.6h1.5M359.9 597.5h1.5M370.6 577h1.5M278.1 535.7h1.5M349 536.9h1.5M360.1 591.2h1.5M301.2 575.1h1.5M396.6 582.4h1.5M428.9 542.9h1.5M345.4 597.7h1.5M323.8 590.7h1.5M338.4 532h1.5M349.1 539.5h1.5M303.5 540.3h1.5M395.4 597.9h1.5M427.1 597.9h1.5M332.7 554h1.5M399.6 577.4h1.5M356.8 580.6h1.5M314.2 554.1h1.5M292 596.1h1.5M260.5 579.8h1.5M369.3 586.7h1.5M279 554.8h1.5M350 565.9h1.5M346.3 575.6h1.5M373.4 567.7h1.5M278.7 581.5h1.5M327.1 534.8h1.5M296.7 525.1h1.5M241.4 550.5h1.5M408 650.7h1.5M328.5 643.9h1.5M263.8 700h1.5M412.7 691.3h1.5M464.8 666.3h1.5M350.7 689.8h1.5M421.8 658.7h1.5M397.1 664.6h1.5M298.4 694.5h1.5M402.6 661h1.5M477.5 670.5h1.5M340.2 669.6h1.5M438.3 694.5h1.5M392.4 653.4h1.5M432.9 644h1.5M357.9 706.7h1.5M403.9 642.9h1.5M293.2 645.8h1.5M472.8 693.4h1.5M413.2 669.8h1.5M460.7 688.3h1.5M383.4 719.4h1.5M349.9 708.2h1.5M423.5 702.6h1.5M311.9 700.1h1.5M306.2 692.9h1.5M429.7 693.7h1.5M440.2 674.1h1.5M292.9 697.5h1.5M342.4 702h1.5M403.3 666.6h1.5M400.3 643.5h1.5M375.1 698.6h1.5M275.8 696.2h1.5M476.8 699.3h1.5M402.7 694.4h1.5M416.8 691.3h1.5M411.6 658h1.5M306.1 675.1h1.5M363.8 693.7h1.5M277.4 794.6h1.5M286.2 786.3h1.5M344.4 779h1.5M287.2 791.1h1.5M287.6 788.5h1.5M285.2 786h1.5M273.3 785.5h1.5M283.1 774.8h1.5M330.7 792h1.5M283 776.1h1.5M309.3 785.5h1.5M323.4 793.8h1.5M276.4 780.8h1.5M317.8 792.9h1.5M277.4 786.7h1.5M287.5 793h1.5M332.4 801.1h1.5M350.8 773.4h1.5M276.2 785.4h1.5M305.6 782.2h1.5M305.3 776.9h1.5M304.1 792.4h1.5M301.6 772.8h1.5M275.6 791.3h1.5M304.1 791.4h1.5M321.5 787.8h1.5M303.5 774.9h1.5M279.9 781.3h1.5M285 787h1.5M296.5 795.6h1.5M288.6 778.1h1.5M315.3 792h1.5M295.8 782.6h1.5M287.1 777.6h1.5M331.5 782.8h1.5M275.6 786.9h1.5M292.8 780.4h1.5M275.2 798.6h1.5M304 787.8h1.5M288.5 778.9h1.5M313.6 803.6h1.5M289.8 779.7h1.5M331.2 783.1h1.5M276.5 785.2h1.5M303.3 779.2h1.5M285.9 796.4h1.5M293.9 793.5h1.5M312.2 789.3h1.5M292.7 785.8h1.5M294.4 784.2h1.5M315.8 786.3h1.5M292.1 795.1h1.5M275.7 778.6h1.5M288.8 781.9h1.5M274.2 782.4h1.5M282.7 780.9h1.5M292.6 790.5h1.5M280 783.8h1.5M295.9 787.5h1.5M343.5 782.9h1.5M279.9 785.7h1.5M300.5 771.7h1.5M272.2 777.4h1.5M308.4 791.8h1.5M290.1 774.3h1.5M282.8 789.6h1.5M275 771.3h1.5M294.6 788.8h1.5M277.4 785h1.5M289 789.8h1.5M303.7 793.1h1.5M295.3 768.4h1.5M279.5 791.1h1.5M273.6 787h1.5M287.8 796.2h1.5M290.6 785.8h1.5M310.1 776.2h1.5M316.5 802.3h1.5M314.5 797.8h1.5M287.8 788.1h1.5M282.4 790.9h1.5M272.3 765.5h1.5M288.1 767.6h1.5M285.4 782.6h1.5M292 794h1.5M298.7 784.8h1.5M291.2 797.1h1.5M294.7 794.5h1.5M297.9 783.4h1.5M295.5 789.8h1.5M290.1 792.2h1.5M315.8 766.1h1.5M281.4 774.2h1.5M277.5 790h1.5M282.5 788.6h1.5M284.5 772.5h1.5M295.2 791.5h1.5M277.6 770.2h1.5M317.5 782h1.5M312.3 782.6h1.5M299.3 780.2h1.5M293.6 797.1h1.5M323.9 798.9h1.5M301.5 779.3h1.5M276.6 779h1.5M270.1 784.3h1.5M300 810.3h1.5M300.4 794.5h1.5M276.6 777.2h1.5M270.4 763.2h1.5M302.6 797h1.5M289.5 789.5h1.5M290.2 784.8h1.5M276.1 795.1h1.5M278.6 793.1h1.5M289.3 805.7h1.5M303.7 777.9h1.5M310.7 792.2h1.5M329.7 799.2h1.5M288.4 783.6h1.5M283.8 783.8h1.5M317.4 790.1h1.5M286.4 782.7h1.5M275.6 789h1.5M296.8 787.1h1.5M278.4 775.8h1.5M272.9 779.4h1.5M286.3 797.2h1.5M340.5 771h1.5M316.7 791.2h1.5M270.9 761.5h1.5M279.6 785.9h1.5M277.1 789.1h1.5M271.4 772.4h1.5M274.7 787.9h1.5M272.7 787.3h1.5M314.8 779.4h1.5M283.9 780.1h1.5M275.9 797h1.5M332.2 785.1h1.5M289.8 784.5h1.5M309.4 776.1h1.5M271.6 777.1h1.5M284.4 770.3h1.5M307.3 798.9h1.5M277.9 787.9h1.5M286 792.1h1.5M270.4 771.2h1.5M317.5 783h1.5M305.9 775.5h1.5M321.2 781.2h1.5M271.6 775h1.5M303.8 771.4h1.5M271.9 787h1.5M356.8 817.1h1.5M293.5 793.8h1.5M280.1 786.2h1.5M286.4 788.3h1.5M275.4 785.2h1.5M279.4 783.7h1.5M272.1 773.2h1.5M301.2 779.1h1.5M274.5 773.9h1.5M276.3 791.2h1.5M297.1 755.7h1.5M273.7 795.4h1.5M277.7 782.2h1.5M290.4 791.2h1.5M312.1 787.9h1.5M299.6 779.1h1.5M290.4 777h1.5M289.1 790.5h1.5M303.5 797.7h1.5M292.5 784.4h1.5M279 786.8h1.5M273 771.9h1.5M286.1 770h1.5M274.8 771.1h1.5M272.7 787.2h1.5M288 782.1h1.5M276.5 796.7h1.5M280.6 789.2h1.5M323.6 795.4h1.5M302.6 787h1.5M338.3 784.5h1.5M287.3 766.2h1.5M310.8 777.4h1.5M278.1 772.3h1.5M281.6 772.3h1.5M306.6 781.2h1.5M309 779.5h1.5M295.2 791.2h1.5M325.3 774.4h1.5M292.8 801.9h1.5M283.1 796.1h1.5M272 804.9h1.5M282.7 797.1h1.5M309.2 790.7h1.5M325.1 773.2h1.5M272.2 793.1h1.5M310.5 796.1h1.5M275.3 805.2h1.5M277.7 770.9h1.5M299.3 760h1.5M309 788.7h1.5M292.5 763.9h1.5M339.1 803.2h1.5M308.3 778.3h1.5M317.2 789.1h1.5M292.7 793.8h1.5M286.3 784.5h1.5M288 786.3h1.5M286.6 786.3h1.5M319.6 778h1.5M290.4 784.2h1.5M303.1 777.4h1.5M282 779.6h1.5M319.2 774.9h1.5M272 774.3h1.5M303.3 785.3h1.5M296.7 771h1.5M306.1 776h1.5M289.5 771.6h1.5M291.4 785h1.5M291.3 781.7h1.5M304.5 777.3h1.5M288.4 789.5h1.5M272.3 764.2h1.5M286.1 773h1.5M278.9 786.9h1.5M308.7 783.2h1.5M324.9 781.2h1.5M280.9 784.6h1.5M274.3 786.8h1.5M278.7 775.8h1.5M282.5 786.7h1.5M288.6 785.9h1.5M343.3 785.9h1.5M309.5 787.4h1.5M286 785.1h1.5M304.6 781.4h1.5M328.9 771.8h1.5M298.7 771.3h1.5M272.7 780.2h1.5M305.3 768.5h1.5M311.3 782h1.5M278.6 789.8h1.5M306.4 774.8h1.5M293.1 798.8h1.5M278.8 790.4h1.5M299.5 785.5h1.5M322.4 776.5h1.5M357.1 786.8h1.5M281.1 778.6h1.5M278.3 792.5h1.5M284.7 783h1.5M335.5 778h1.5M335.7 795.1h1.5M310.8 782.5h1.5M299.2 788.2h1.5M284.5 794.1h1.5M270.4 774.7h1.5M292.8 789.5h1.5M283.8 789h1.5M306.8 781.9h1.5M288.3 790.5h1.5M333.7 773.7h1.5M286.3 781.9h1.5M270.9 776.6h1.5M321.5 784.2h1.5M285.9 802.9h1.5M301 790.3h1.5M282.8 785.6h1.5M294.2 784.1h1.5M312.2 777.8h1.5M287.3 779.2h1.5M309 794.5h1.5M278.1 785h1.5M302.8 778.2h1.5M284.2 771h1.5M272.1 787.7h1.5M275.2 762.2h1.5M271.4 770.9h1.5M369.9 772h1.5M279.1 791.5h1.5M272.9 785.2h1.5M308.9 778.5h1.5M307.1 789.7h1.5M282.5 786.7h1.5M294.2 776.6h1.5M305.5 786.9h1.5M281.4 789.4h1.5M306.4 782.3h1.5M331.4 775.6h1.5M272.9 783.6h1.5M291 787.5h1.5M313.1 782.7h1.5M289.5 793.8h1.5M292.1 767.5h1.5M284.7 786.8h1.5M288.9 778.6h1.5M325.4 788.6h1.5M276.5 784h1.5M274.7 793.6h1.5M287.6 783.3h1.5M297.9 785.4h1.5M279.6 775.4h1.5M277.7 781h1.5M280.6 780.7h1.5M285 790.4h1.5M287.1 773.1h1.5M290.2 780.5h1.5M303.8 783.4h1.5M278 787.2h1.5M297.5 789.7h1.5M275.2 791.1h1.5M297.4 784.1h1.5M307.3 783.1h1.5M282.2 776.8h1.5M341.1 792.9h1.5M292 781.4h1.5M286.1 782h1.5M271.2 793.8h1.5M287.9 764.3h1.5M294.3 781.3h1.5M302.1 797.6h1.5M281.3 775.4h1.5M280.7 793.5h1.5M286.5 786.1h1.5M271.2 785.5h1.5M463.8 770.4h1.5M402.5 765.3h1.5M308.8 778h1.5M487.4 785.7h1.5M485.5 784.4h1.5M428.3 781.7h1.5M388.4 774.3h1.5M368.5 776.7h1.5M432.6 785.4h1.5M488.1 787.1h1.5M333.3 797.8h1.5M316 779.1h1.5M360.5 793.5h1.5M466.1 781.5h1.5M400.3 788.7h1.5M438 773.9h1.5M342.1 791.7h1.5M487.5 771.4h1.5M408.5 781.9h1.5M322.6 777.9h1.5M409.5 777.1h1.5M417.9 791.7h1.5M450.2 778.8h1.5M441.8 782.4h1.5M362.4 778.6h1.5M353.5 781h1.5M403.3 770.9h1.5M388.4 783.8h1.5M333.4 771.2h1.5M488.4 778h1.5M480.9 775.5h1.5M319.4 778.2h1.5M352 797.7h1.5M310.3 771h1.5M443.9 766.6h1.5M336.4 783.4h1.5M458.9 783.9h1.5M322.7 790.2h1.5M329.1 779.4h1.5M409.5 779.8h1.5M383.2 777.7h1.5M323.9 782.6h1.5M344.4 790.9h1.5M469.5 778.8h1.5M354.7 785.7h1.5M331.7 777.7h1.5M335.5 777.1h1.5M324.5 784h1.5M451.9 774.5h1.5M441.3 777.7h1.5M434.3 783.8h1.5M320.6 770.4h1.5M336.4 779.3h1.5M378.5 773.5h1.5M341.1 787.9h1.5M427 775.5h1.5M393.8 770.2h1.5M446.2 792.1h1.5M339.8 791.1h1.5M440 788.5h1.5M305.5 775.2h1.5M390 779.9h1.5M313.4 790.7h1.5M478.9 777.3h1.5M470.9 780.4h1.5M308.5 796.6h1.5M354.3 783.8h1.5M482.1 765.8h1.5M429.6 767.3h1.5M427.1 779.2h1.5M283.3 763.9h1.5M328.8 772.4h1.5M290.6 770.6h1.5M274.5 769.7h1.5M302.7 760.2h1.5M300.4 749.6h1.5M315.1 747h1.5M294.8 749.9h1.5M301.3 751.9h1.5M315.1 770.7h1.5M300.8 767.8h1.5M316.4 763.3h1.5M263.1 770.9h1.5M288.9 768.6h1.5M312.5 767.7h1.5M356.9 761.8h1.5M288.1 754.8h1.5M273.1 768.5h1.5M341.3 766.7h1.5M268.4 768.4h1.5M284.5 771h1.5M282 767.5h1.5M318.3 758.5h1.5M299.2 774h1.5M273.5 756.2h1.5M264.6 748.6h1.5M299.3 758.7h1.5M314.3 770.6h1.5M258.7 768.5h1.5M309.7 773.8h1.5M253.7 772.4h1.5M272.9 761.2h1.5M295.8 773.3h1.5M318 762.6h1.5M289.9 773.5h1.5M282.2 753.1h1.5M274.5 758.1h1.5M268.9 769.6h1.5M316.8 759.5h1.5M301.9 748.2h1.5M284.4 747.6h1.5M282.9 763h1.5M313.6 769.5h1.5M323.6 759.9h1.5M272.3 760.3h1.5M264.1 753.8h1.5M293 754.6h1.5M293.7 750.2h1.5M284.7 762.9h1.5M310.6 763h1.5M287.6 758.9h1.5M277.1 758.8h1.5M289 761.6h1.5M295.6 753.4h1.5M309 761.2h1.5M317.8 753.6h1.5M306.5 747.2h1.5M319.9 772h1.5M297.4 763.4h1.5M297.9 763.8h1.5" stroke="#4a50a8" stroke-width="1.5" fill="none"/>
<path d="M278.9 785.3h1.3M264 785h1.3M271.2 779.8h1.3M272.9 784.1h1.3M274.5 788.1h1.3M291.9 790.1h1.3M277.6 781.9h1.3M264.3 784.9h1.3M266.9 782.8h1.3M287.1 785.8h1.3M273.7 784.3h1.3M263.7 787.6h1.3M273.6 785h1.3M277.6 784.5h1.3" stroke="#e0a040" stroke-width="1.3" fill="none"/>
</g>
<polygon points="230.5,750.9 507.1,750.9 507.1,861.8 230.5,861.8" fill="none" stroke="#000" stroke-width="1.4" stroke-linejoin="miter"/>
<rect x="132.4" y="504.9" width="386.6" height="385.7" fill="none" stroke="#000" stroke-width="1.8"/>
<path d="M134 890.6v11.5M207.3 890.6v11.5M280.6 890.6v11.5M353.9 890.6v11.5M427.2 890.6v11.5M500.5 890.6v11.5" stroke="#000" stroke-width="2.6" fill="none"/>
<path d="M148.7 890.6v5.5M163.3 890.6v5.5M178 890.6v5.5M192.6 890.6v5.5M222 890.6v5.5M236.6 890.6v5.5M251.3 890.6v5.5M265.9 890.6v5.5M295.3 890.6v5.5M309.9 890.6v5.5M324.6 890.6v5.5M339.2 890.6v5.5M368.6 890.6v5.5M383.2 890.6v5.5M397.9 890.6v5.5M412.5 890.6v5.5M441.9 890.6v5.5M456.5 890.6v5.5M471.2 890.6v5.5M485.8 890.6v5.5M515.2 890.6v5.5" stroke="#000" stroke-width="1.2" fill="none"/>
<text x="136" y="918.3" text-anchor="middle" class="tk">0</text>
<text x="204.8" y="918.3" text-anchor="middle" class="tk">50K</text>
<text x="278.1" y="918.3" text-anchor="middle" class="tk">100K</text>
<text x="351.4" y="918.3" text-anchor="middle" class="tk">150K</text>
<text x="424.7" y="918.3" text-anchor="middle" class="tk">200K</text>
<text x="498" y="918.3" text-anchor="middle" class="tk">250K</text>
<path d="M132.4 866.6h-11.5M132.4 738.8h-11.5M132.4 633.3h-11.5M132.4 540.2h-11.5" stroke="#000" stroke-width="3.1" fill="none"/>
<path d="M132.4 707h-5M132.4 688.5h-5M132.4 675.3h-5M132.4 656.7h-5M132.4 649.6h-5M132.4 643.5h-5M132.4 638.1h-5M132.4 605.3h-5M132.4 588.9h-5M132.4 577.2h-5M132.4 560.9h-5M132.4 554.6h-5M132.4 549.2h-5M132.4 544.5h-5M132.4 512.2h-5M132.4 787.8h-5M132.4 817.2h-5M132.4 780.3h-5M132.4 824.7h-5M132.4 772.1h-5M132.4 833h-5M132.4 758.8h-5M132.4 846.4h-5M132.4 753.6h-5M132.4 851.6h-5M132.4 749.2h-5M132.4 856.1h-5M132.4 745.5h-5M132.4 859.9h-5M132.4 741.8h-5M132.4 863.6h-5" stroke="#000" stroke-width="1.2" fill="none"/>
<path d="M132.4 665.1h-8M132.4 568.2h-8M132.4 766.7h-8M132.4 838.5h-8" stroke="#000" stroke-width="1.4" fill="none"/>
<path d="M132.4 794.9h-11M132.4 797.4h-8.5M132.4 799.9h-11M132.4 802.4h-9M132.4 804.9h-10M132.4 807.4h-7.5M132.4 809.9h-11" stroke="#000" stroke-width="2.7" fill="none"/>
<text x="102.9" y="875.6" text-anchor="end" class="tk">-10</text><text x="108.4" y="867.1" class="tk">3</text>
<text x="105.4" y="807.4" text-anchor="end" class="tk">0</text>
<text x="102.9" y="747.8" text-anchor="end" class="tk">10</text><text x="108.4" y="739.3" class="tk">3</text>
<text x="102.9" y="642.3" text-anchor="end" class="tk">10</text><text x="108.4" y="633.8" class="tk">4</text>
<text x="102.9" y="549.2" text-anchor="end" class="tk">10</text><text x="108.4" y="540.7" class="tk">5</text>
<text transform="translate(327.4 967.8) scale(0.8275 1)" text-anchor="middle" class="ax" font-size="43.5">FSC-A</text>
<text transform="translate(67.5 694.5) rotate(-90) scale(0.8182 1)" text-anchor="middle" class="ax" font-size="43.5">CD71</text></g>
<g><defs><clipPath id="c6"><rect x="661.6" y="511.7" width="381.1" height="380.2"/></clipPath></defs>
<g clip-path="url(#c6)">
<path d="M823.1 798.4h1.5M798.4 789.8h1.5M807.2 811.9h1.5M814.4 798.8h1.5M809.3 803h1.5M808.2 810.3h1.5M821.2 788.5h1.5M805.6 791.2h1.5M803.3 800.3h1.5M792.9 789.7h1.5M809 825.1h1.5M828.8 821.4h1.5M822.5 786.6h1.5M801.3 793.5h1.5M794.6 790.5h1.5M801.5 800.9h1.5M813.2 801.4h1.5M815.5 798.9h1.5M845.1 768.9h1.5M801 800.2h1.5M795.4 801h1.5M797.3 811.6h1.5M794.9 796.3h1.5M817.2 798.8h1.5M801.2 801.2h1.5M799.5 800.9h1.5M804.7 784.7h1.5M808.4 790.6h1.5M814 795.4h1.5M797.2 807.3h1.5M803 794.9h1.5M795.3 774.5h1.5M807.4 789h1.5M840.1 804.2h1.5M801.6 780.4h1.5M805.5 810.3h1.5M791.4 790.6h1.5M803.2 816.5h1.5M814.3 793.7h1.5M810 798.7h1.5M790.2 802.7h1.5M802 801.3h1.5M841.8 782.9h1.5M799.5 795.6h1.5M802.3 794.6h1.5M799.4 801.8h1.5M800.3 798.1h1.5M793.5 805.2h1.5M848.7 802.9h1.5M830 789.7h1.5M794.9 785.8h1.5M798.2 799.4h1.5M810.8 807h1.5M822.1 817.5h1.5M794.3 803h1.5M812.5 787.4h1.5M812.6 801h1.5M835.4 804.4h1.5M799.6 778h1.5M849.8 792.7h1.5M811.1 799.5h1.5M821.3 812.5h1.5M811.1 786.8h1.5M826.4 796.1h1.5M804.8 812.3h1.5M804.6 795.2h1.5M815.3 794.4h1.5M813.4 805.8h1.5M795.8 786.6h1.5M795.4 815h1.5M821.1 806.9h1.5M813.1 808.5h1.5M811.1 797.7h1.5M803.3 815.8h1.5M810.5 800.2h1.5M827.2 788.6h1.5M814.4 803.9h1.5M815.6 812h1.5M837.2 803.3h1.5M819.1 793.6h1.5M810.4 796.1h1.5M805.2 799.8h1.5M811.7 808.6h1.5M807.6 792.3h1.5M824 786.3h1.5M790.3 797.2h1.5M805.9 798h1.5M804.5 786h1.5M823.3 802.9h1.5M807.7 797.5h1.5M797.6 796.2h1.5M811.1 799.8h1.5M805.8 805.5h1.5M809.3 791.4h1.5M812.7 796.3h1.5M857.7 787.6h1.5M835 792.6h1.5M843.8 808.7h1.5M812 801.3h1.5M813.2 793.2h1.5M795.2 799.2h1.5M795 792h1.5M797.3 794.8h1.5M817.1 773.8h1.5M821.3 811.1h1.5M805.2 793.6h1.5M880.5 803.8h1.5M822 794.2h1.5M795.1 797.4h1.5M820.4 776.8h1.5M807.4 795.1h1.5M815.9 808.1h1.5M802 785.3h1.5M793.7 795.7h1.5M802.1 798.2h1.5M793.1 801h1.5M790.9 804.8h1.5M802.2 786.7h1.5M799.6 809.3h1.5M833.4 822.6h1.5M806.2 802h1.5M839.5 788.7h1.5M797.9 793.5h1.5M823 787.6h1.5M823.8 792.2h1.5M790 816.8h1.5M807.2 778h1.5M805 816.2h1.5M808.3 798.9h1.5M790.3 802.6h1.5M801.5 794.7h1.5M803.3 792.3h1.5M790 807.3h1.5M795.5 795h1.5M807.9 803.7h1.5M826.2 799.3h1.5M814.5 787.4h1.5M822.3 781.5h1.5M792.3 795.9h1.5M819.2 802.8h1.5M798.1 807h1.5M821.5 795.7h1.5M794.6 780.9h1.5M796.8 810.8h1.5M817.8 799.9h1.5M796.2 782.3h1.5M796.8 788.5h1.5M819.8 804.7h1.5M790.5 806.6h1.5M798.3 800.3h1.5M852.2 806.8h1.5M805 793h1.5M806.4 796h1.5M794.5 794.6h1.5M845.1 792.1h1.5M803.2 789.6h1.5M819.1 801.5h1.5M820.4 791.8h1.5M790.8 819.8h1.5M827.1 805.6h1.5M831.9 791.9h1.5M824.1 811h1.5M875.1 808.3h1.5M801.6 802.4h1.5M855.8 821.1h1.5M793.9 798.7h1.5M855.7 797.8h1.5M804.4 820.2h1.5M807.6 797.9h1.5M793.8 803.4h1.5M790.7 798.2h1.5M799.3 815.6h1.5M814.5 802.1h1.5M800.1 794.2h1.5M793.3 790.5h1.5M808.1 797.2h1.5M790.8 803.7h1.5M811.6 804.7h1.5M830.1 808.9h1.5M809.5 810.9h1.5M792.8 800.7h1.5M809.1 797h1.5M849.6 799.7h1.5M792.6 798.5h1.5M805.1 791h1.5M837 794.4h1.5M811.3 784.8h1.5M814.9 818.2h1.5M807.8 794.9h1.5M798.9 799.2h1.5M825.6 795.7h1.5M809.5 777.5h1.5M810.9 805.2h1.5M835.3 811h1.5M792.7 803.2h1.5M809.5 819.4h1.5M830.6 826.5h1.5M790.2 807.7h1.5M819.6 822.5h1.5M803.6 800.8h1.5M800.7 787.2h1.5M812.2 805h1.5M801.6 794.5h1.5M806.7 795.7h1.5M815.7 798.2h1.5M809.2 802.5h1.5M807.3 798.5h1.5M792.7 788.2h1.5M798.8 801.3h1.5M792.8 791.6h1.5M819.5 793.6h1.5M811 801.4h1.5M845.2 777.6h1.5M806.4 794.4h1.5M816 789.6h1.5M802 793.8h1.5M824 796.6h1.5M819.3 799h1.5M806 798.7h1.5M811.3 795.5h1.5M793.8 797.7h1.5M841.1 798.6h1.5M804.3 816.8h1.5M825.6 798h1.5M800.4 791.2h1.5M815.8 785.3h1.5M802.6 789.6h1.5M799.8 807.1h1.5M798.4 804.7h1.5M802.7 794.1h1.5M809.6 789.7h1.5M820 800.2h1.5M853 798.8h1.5M811.8 782h1.5M790.2 809.9h1.5M797.3 782.9h1.5M792.7 795.6h1.5M828.7 808.5h1.5M804.4 802.4h1.5M804.5 800.3h1.5M792.2 787.7h1.5M803.7 788.1h1.5M797 797.9h1.5M797.6 794.5h1.5M809 798.4h1.5M835.3 809.9h1.5M793.8 808h1.5M802 797.1h1.5M812.1 797h1.5M846.2 795.1h1.5M850 795.3h1.5M794.5 799h1.5M836.6 809.6h1.5M851.8 781.6h1.5M799.7 788.6h1.5M795.4 781.3h1.5M838 798.8h1.5M791.3 791.7h1.5M807.4 800.5h1.5M796.5 788h1.5M807.3 813.1h1.5M798 804.9h1.5M828.7 813.9h1.5M790.9 807.9h1.5M805.6 795.9h1.5M827.1 787.1h1.5M802.3 801.6h1.5M800 792.2h1.5M826.8 811.1h1.5M799.6 809.9h1.5M826.7 805.3h1.5M790.3 780h1.5M796.7 811.7h1.5M817.6 822.3h1.5M796.7 810.3h1.5M791.2 810.9h1.5M792.8 801.2h1.5M830.9 799.1h1.5M791.4 803.5h1.5M802.3 780.1h1.5M791.9 810.8h1.5M831.9 786.4h1.5M829 801.1h1.5M825.7 787.9h1.5M806.6 795.4h1.5M838.9 813.6h1.5M792.9 806.2h1.5M800.6 790.3h1.5M798.5 795.9h1.5M824.8 796.7h1.5M803 800.5h1.5M816.8 805.3h1.5M799.6 785.3h1.5M791.3 778.3h1.5M821.2 797.4h1.5M814.6 785.6h1.5M816.1 788.3h1.5M821.3 806h1.5M801 785.2h1.5M802.6 808.9h1.5M806.8 796.6h1.5M796.3 795.6h1.5M803.3 792.6h1.5M811.2 817.8h1.5M821.9 803.6h1.5M818 801.6h1.5M819 792.6h1.5M794.8 800.6h1.5M802.8 799.8h1.5M790.2 787.9h1.5M825.8 788.7h1.5M827 799.1h1.5M797.8 778.1h1.5M814.4 803.2h1.5M824.9 807.5h1.5M837.3 801h1.5M830.5 809.7h1.5M797.2 800.6h1.5M793.1 806.5h1.5M832.9 807.8h1.5M826.7 795.1h1.5M816.3 798.1h1.5M795.8 808.9h1.5M832.5 795.8h1.5M807.5 805.2h1.5M811.3 784.6h1.5M815.9 803.5h1.5M800.4 804.5h1.5M808.4 796.3h1.5M805.3 796.8h1.5M828 772.8h1.5M822.4 757.7h1.5M838.4 757.6h1.5M837.2 768.3h1.5M844.3 751.7h1.5M821.1 767.2h1.5M824.8 757.4h1.5M855.2 752.6h1.5M813.5 758.3h1.5M841.7 751.6h1.5M817.5 780.5h1.5M816.2 742.3h1.5M812.2 749.3h1.5M846.3 786.9h1.5M814.3 761.9h1.5M840.1 760.6h1.5M779.8 752.1h1.5M853.5 761.6h1.5M873.1 752.6h1.5M821.1 768.9h1.5M870.5 779.4h1.5M855.5 765.6h1.5M820 769.2h1.5M828.4 768.9h1.5M824.8 781.8h1.5M834.3 777.7h1.5M850.1 780.8h1.5M792.6 759.4h1.5M825.2 770.5h1.5M840.4 763.2h1.5M796.4 758.1h1.5M826.5 763.8h1.5M875.1 761.1h1.5M843.9 776.3h1.5M831.7 759.4h1.5M821.3 790.6h1.5M790.4 766.6h1.5M805 752.7h1.5M828.1 783.6h1.5M847.6 765.3h1.5M870.5 757.8h1.5M856.9 774.5h1.5M872.3 762.4h1.5M839.9 760.6h1.5M834.1 748.3h1.5M845 769.5h1.5M839.3 760.6h1.5M813.9 762.3h1.5M866.2 762.9h1.5M809.5 765.1h1.5M855 740.4h1.5M844.8 747.2h1.5M801.9 766.6h1.5M829.9 773.6h1.5M801.6 768.7h1.5M852.7 769.3h1.5M790.1 781.2h1.5M818.4 783.5h1.5M860.9 745.9h1.5M790.1 741.7h1.5M839.5 764.7h1.5M824.4 784.9h1.5M812.3 758.2h1.5M808.1 785.9h1.5M894.9 791.8h1.5M851.5 774.2h1.5M758.1 743.3h1.5M803 772.4h1.5M831.2 779.9h1.5M833 769.1h1.5M810 745.3h1.5M776 757.4h1.5M844.7 782.9h1.5M798.2 765.6h1.5M807.1 760.4h1.5M828.2 743.9h1.5M816.4 761.7h1.5M838.7 762.7h1.5M851.1 773.9h1.5M805.1 775.4h1.5M856.3 770.8h1.5M851 766.3h1.5M830.1 755.7h1.5M817.1 779.7h1.5M842.9 779h1.5M850.4 780.1h1.5M809.3 776.5h1.5M853.4 755.3h1.5M804.2 751.9h1.5M842.4 764.3h1.5M879.3 792.1h1.5M842.5 786h1.5M909.6 798.9h1.5M934.8 804.9h1.5M893 792.3h1.5M905.3 818.6h1.5M936.5 816.1h1.5M896.6 797.1h1.5M875.1 803.8h1.5M866.5 814.6h1.5M972.6 800.3h1.5M981.5 797.8h1.5M956.4 804.2h1.5M950.3 802.3h1.5M956.6 802.4h1.5M988.3 816h1.5M887.4 792.2h1.5M872.9 800.2h1.5M963.8 797.6h1.5M929.1 811.9h1.5M883.1 811.9h1.5M997.8 808h1.5M981.1 809.3h1.5M933.7 793.9h1.5M947.1 780.2h1.5M953.2 794.6h1.5M857.8 803.1h1.5M885.8 801.8h1.5M907.5 792.2h1.5M946.3 791h1.5M975.2 795h1.5M879.4 803.2h1.5M855.1 801h1.5M907.2 803.5h1.5M938.3 800.1h1.5M969 793.6h1.5M978.2 805.2h1.5M936.6 817.1h1.5M967.3 806.6h1.5M891.6 797.5h1.5M883.8 806.4h1.5M868 791.5h1.5M865.4 805.6h1.5M1007.4 806.6h1.5M1002.6 794.9h1.5M894.4 742.4h1.5M821.7 742.1h1.5M855.9 732.4h1.5M905.6 751.8h1.5M851.9 729.7h1.5M881.9 754.7h1.5M905.5 758.7h1.5M833.1 729.9h1.5M811.7 736.3h1.5M873.2 742.4h1.5M887.4 747.9h1.5M955.6 724.4h1.5M939.1 738.1h1.5M928.2 735.5h1.5" stroke="#4a50a8" stroke-width="1.5" fill="none"/>
</g>
<polygon points="719.8,608.6 1028.3,608.6 1028.3,771.2 719.8,771.2" fill="none" stroke="#000" stroke-width="1.4" stroke-linejoin="miter"/>
<rect x="661.6" y="511.7" width="381.1" height="380.2" fill="none" stroke="#000" stroke-width="1.8"/>
<path d="M663 891.9v11.5M735.3 891.9v11.5M807.6 891.9v11.5M879.9 891.9v11.5M952.2 891.9v11.5M1024.5 891.9v11.5" stroke="#000" stroke-width="2.6" fill="none"/>
<path d="M677.5 891.9v5.5M691.9 891.9v5.5M706.4 891.9v5.5M720.8 891.9v5.5M749.8 891.9v5.5M764.2 891.9v5.5M778.7 891.9v5.5M793.1 891.9v5.5M822.1 891.9v5.5M836.5 891.9v5.5M851 891.9v5.5M865.4 891.9v5.5M894.4 891.9v5.5M908.8 891.9v5.5M923.3 891.9v5.5M937.7 891.9v5.5M966.7 891.9v5.5M981.1 891.9v5.5M995.6 891.9v5.5M1010 891.9v5.5M1039 891.9v5.5" stroke="#000" stroke-width="1.2" fill="none"/>
<text x="665" y="919.6" text-anchor="middle" class="tk">0</text>
<text x="732.8" y="919.6" text-anchor="middle" class="tk">50K</text>
<text x="805.1" y="919.6" text-anchor="middle" class="tk">100K</text>
<text x="877.4" y="919.6" text-anchor="middle" class="tk">150K</text>
<text x="949.7" y="919.6" text-anchor="middle" class="tk">200K</text>
<text x="1022" y="919.6" text-anchor="middle" class="tk">250K</text>
<path d="M661.6 867.9h-11.5M661.6 742.4h-11.5M661.6 637.5h-11.5M661.6 545.9h-11.5" stroke="#000" stroke-width="3.1" fill="none"/>
<path d="M661.6 710.8h-5M661.6 692.3h-5M661.6 679.2h-5M661.6 660.8h-5M661.6 653.7h-5M661.6 647.7h-5M661.6 642.3h-5M661.6 609.9h-5M661.6 593.8h-5M661.6 582.4h-5M661.6 566.2h-5M661.6 560.1h-5M661.6 554.8h-5M661.6 550.1h-5M661.6 518.3h-5M661.6 791.8h-5M661.6 820.7h-5M661.6 784.3h-5M661.6 827.9h-5M661.6 776h-5M661.6 835.8h-5M661.6 762.6h-5M661.6 848.6h-5M661.6 757.4h-5M661.6 853.6h-5M661.6 752.9h-5M661.6 857.9h-5M661.6 749.1h-5M661.6 861.5h-5M661.6 745.4h-5M661.6 865h-5" stroke="#000" stroke-width="1.2" fill="none"/>
<path d="M661.6 669.1h-8M661.6 573.5h-8M661.6 770.5h-8M661.6 841.1h-8" stroke="#000" stroke-width="1.4" fill="none"/>
<path d="M661.6 799.1h-11M661.6 801.6h-8.5M661.6 804.1h-11M661.6 806.6h-9M661.6 809.1h-10M661.6 811.6h-7.5M661.6 814.1h-11" stroke="#000" stroke-width="2.7" fill="none"/>
<text x="632.1" y="876.9" text-anchor="end" class="tk">-10</text><text x="637.6" y="868.4" class="tk">3</text>
<text x="634.6" y="811.6" text-anchor="end" class="tk">0</text>
<text x="632.1" y="751.4" text-anchor="end" class="tk">10</text><text x="637.6" y="742.9" class="tk">3</text>
<text x="632.1" y="646.5" text-anchor="end" class="tk">10</text><text x="637.6" y="638" class="tk">4</text>
<text x="632.1" y="554.9" text-anchor="end" class="tk">10</text><text x="637.6" y="546.4" class="tk">5</text>
<text transform="translate(853.2 967.8) scale(0.8275 1)" text-anchor="middle" class="ax" font-size="43.5">FSC-A</text>
<text transform="translate(591.3 713.9) rotate(-90) scale(0.8587 1)" text-anchor="middle" class="ax" font-size="43.5">VCAM1</text></g>
<g><defs><clipPath id="c7"><rect x="1168.6" y="506.3" width="389.6" height="388.7"/></clipPath></defs>
<g clip-path="url(#c7)">
<path d="M1321.3 768.7h1.5M1397.6 761.1h1.5M1370.9 736.6h1.5M1333.8 764.7h1.5M1348.6 761.5h1.5M1368.4 761.6h1.5M1308.1 769.6h1.5M1336.4 753.5h1.5M1345.2 765.6h1.5M1366.2 761.9h1.5M1339.6 763.7h1.5M1353 755.2h1.5M1393.1 753.5h1.5M1326.4 755.5h1.5M1344.9 764.2h1.5M1332.8 751.6h1.5M1333.8 761.3h1.5M1322 765.6h1.5M1350.1 762.2h1.5M1328.6 767h1.5M1306.6 760.3h1.5M1345.8 755.3h1.5M1350.5 763.3h1.5M1341.1 769h1.5M1315.9 760.9h1.5M1365.4 766.5h1.5M1313.1 753.1h1.5M1322.4 746.8h1.5M1348.9 761h1.5M1301.4 761.9h1.5M1308.9 759.8h1.5M1329.2 764.9h1.5M1379.1 745.8h1.5M1310.3 760h1.5M1355.6 766.9h1.5M1342.3 769.5h1.5M1330.6 767.7h1.5M1347.6 755.5h1.5M1316.2 758.7h1.5M1291 761.3h1.5M1273.5 736.3h1.5M1322.2 738.2h1.5M1307 746.9h1.5M1303.2 731.6h1.5M1338.8 722.6h1.5M1321.6 729.9h1.5M1297.5 756.4h1.5M1304.1 747.1h1.5M1304.5 739.1h1.5M1314.4 731.5h1.5M1337.8 745.2h1.5M1333.4 732.3h1.5M1318.6 732.4h1.5M1297.9 754.1h1.5" stroke="#4a50a8" stroke-width="1.5" fill="none"/>
</g>
<polygon points="1226.8,595.9 1483.2,595.9 1483.2,834 1226.8,834" fill="none" stroke="#000" stroke-width="1.4" stroke-linejoin="miter"/>
<path d="M1339.3 595.9V834" stroke="#000" stroke-width="1.4"/>
<rect x="1168.6" y="506.3" width="389.6" height="388.7" fill="none" stroke="#000" stroke-width="1.8"/>
<path d="M1192.9 895v11.5M1320.1 895v11.5M1426.7 895v11.5M1520.8 895v11.5" stroke="#000" stroke-width="3.1" fill="none"/>
<path d="M1352.2 895v5M1371 895v5M1384.3 895v5M1403.1 895v5M1410.2 895v5M1416.4 895v5M1421.8 895v5M1455 895v5M1471.6 895v5M1483.4 895v5M1499.9 895v5M1506.2 895v5M1511.7 895v5M1516.5 895v5M1549.1 895v5M1271.1 895v5M1241.9 895v5M1278.6 895v5M1234.4 895v5M1286.8 895v5M1226.2 895v5M1300.1 895v5M1212.9 895v5M1305.3 895v5M1207.7 895v5M1309.7 895v5M1203.3 895v5M1313.4 895v5M1199.6 895v5M1317.1 895v5M1195.9 895v5" stroke="#000" stroke-width="1.2" fill="none"/>
<path d="M1394.6 895v8M1492.5 895v8M1292.2 895v8M1220.8 895v8" stroke="#000" stroke-width="1.4" fill="none"/>
<path d="M1249 895v11M1251.5 895v8.5M1254 895v11M1256.5 895v9M1259 895v10M1261.5 895v7.5M1264 895v11" stroke="#000" stroke-width="2.7" fill="none"/>
<text x="1206.3" y="927" text-anchor="end" class="tk">-10</text><text x="1211.9" y="918" class="tk">3</text>
<text x="1262" y="927" text-anchor="middle" class="tk">0</text>
<text x="1333.5" y="927" text-anchor="end" class="tk">10</text><text x="1339.1" y="918" class="tk">3</text>
<text x="1440.1" y="927" text-anchor="end" class="tk">10</text><text x="1445.7" y="918" class="tk">4</text>
<text x="1534.2" y="927" text-anchor="end" class="tk">10</text><text x="1539.8" y="918" class="tk">5</text>
<path d="M1168.6 870.7h-11.5M1168.6 741.5h-11.5M1168.6 634.9h-11.5M1168.6 541.4h-11.5" stroke="#000" stroke-width="3.1" fill="none"/>
<path d="M1168.6 709.4h-5M1168.6 690.6h-5M1168.6 677.3h-5M1168.6 658.5h-5M1168.6 651.4h-5M1168.6 645.2h-5M1168.6 639.8h-5M1168.6 606.8h-5M1168.6 590.3h-5M1168.6 578.6h-5M1168.6 562.1h-5M1168.6 555.9h-5M1168.6 550.5h-5M1168.6 545.7h-5M1168.6 513.3h-5M1168.6 790.5h-5M1168.6 820.2h-5M1168.6 783h-5M1168.6 827.9h-5M1168.6 774.8h-5M1168.6 836.3h-5M1168.6 761.5h-5M1168.6 850h-5M1168.6 756.3h-5M1168.6 855.4h-5M1168.6 751.9h-5M1168.6 860h-5M1168.6 748.2h-5M1168.6 863.8h-5M1168.6 744.5h-5M1168.6 867.6h-5" stroke="#000" stroke-width="1.2" fill="none"/>
<path d="M1168.6 667h-8M1168.6 569.5h-8M1168.6 769.4h-8M1168.6 842h-8" stroke="#000" stroke-width="1.4" fill="none"/>
<path d="M1168.6 797.6h-11M1168.6 800.1h-8.5M1168.6 802.6h-11M1168.6 805.1h-9M1168.6 807.6h-10M1168.6 810.1h-7.5M1168.6 812.6h-11" stroke="#000" stroke-width="2.7" fill="none"/>
<text x="1139.1" y="879.7" text-anchor="end" class="tk">-10</text><text x="1144.6" y="871.2" class="tk">3</text>
<text x="1141.6" y="810.1" text-anchor="end" class="tk">0</text>
<text x="1139.1" y="750.5" text-anchor="end" class="tk">10</text><text x="1144.6" y="742" class="tk">3</text>
<text x="1139.1" y="643.9" text-anchor="end" class="tk">10</text><text x="1144.6" y="635.4" class="tk">4</text>
<text x="1139.1" y="550.4" text-anchor="end" class="tk">10</text><text x="1144.6" y="541.9" class="tk">5</text>
<text transform="translate(1367.9 967.8) scale(0.8812 1)" text-anchor="middle" class="ax" font-size="43.5">CD61</text>
<text transform="translate(1102.4 712.5) rotate(-90) scale(0.8587 1)" text-anchor="middle" class="ax" font-size="43.5">VCAM1</text></g>
<text x="9.5" y="62" class="pl" font-size="54">a</text>
<text x="10.5" y="1042" class="pl" font-size="53">b</text>
<g shape-rendering="crispEdges">
<rect x="209.6" y="1016.7" width="525.7" height="33.2" fill="#fbb84b"/>
<rect x="735" y="1016.7" width="101" height="33.2" fill="#f22300"/>
<rect x="835.7" y="1016.7" width="179.4" height="33.2" fill="#a454fb"/>
<rect x="1014.8" y="1016.7" width="11.5" height="33.2" fill="#85a09c"/>
<rect x="1026" y="1016.7" width="33.9" height="33.2" fill="#2f4b7c"/>
<rect x="1059.6" y="1016.7" width="169.5" height="33.2" fill="#c0c0c0"/>
<rect x="209.6" y="1058" width="22.8" height="84.6" fill="#fdab6d"/>
<rect x="232" y="1058" width="22.8" height="84.6" fill="#fdb473"/>
<rect x="254.3" y="1058" width="22.8" height="84.6" fill="#fdab6d"/>
<rect x="276.7" y="1058" width="11.6" height="84.6" fill="#fdc27c"/>
<rect x="287.9" y="1058" width="11.6" height="84.6" fill="#fdb473"/>
<rect x="299" y="1058" width="11.6" height="84.6" fill="#fdb070"/>
<rect x="310.2" y="1058" width="11.6" height="84.6" fill="#fdb976"/>
<rect x="321.4" y="1058" width="11.6" height="84.6" fill="#fdbd79"/>
<rect x="332.6" y="1058" width="22.8" height="84.6" fill="#fda267"/>
<rect x="354.9" y="1058" width="11.6" height="84.6" fill="#fdb976"/>
<rect x="366.1" y="1058" width="11.6" height="84.6" fill="#fdbd79"/>
<rect x="377.3" y="1058" width="22.8" height="84.6" fill="#fdb473"/>
<rect x="399.6" y="1058" width="11.6" height="84.6" fill="#fdc27c"/>
<rect x="410.8" y="1058" width="11.6" height="84.6" fill="#fdc67f"/>
<rect x="422" y="1058" width="11.6" height="84.6" fill="#fdab6d"/>
<rect x="433.2" y="1058" width="11.6" height="84.6" fill="#fef0a8"/>
<rect x="444.4" y="1058" width="11.6" height="84.6" fill="#fdc67f"/>
<rect x="455.5" y="1058" width="11.6" height="84.6" fill="#fedd8e"/>
<rect x="466.7" y="1058" width="22.8" height="84.6" fill="#fdb473"/>
<rect x="489.1" y="1058" width="11.6" height="84.6" fill="#fdb976"/>
<rect x="500.2" y="1058" width="11.6" height="84.6" fill="#fed085"/>
<rect x="511.4" y="1058" width="11.6" height="84.6" fill="#fdab6d"/>
<rect x="522.6" y="1058" width="11.6" height="84.6" fill="#fed98b"/>
<rect x="533.8" y="1058" width="11.6" height="84.6" fill="#fdc27c"/>
<rect x="545" y="1058" width="11.6" height="84.6" fill="#fdb070"/>
<rect x="556.1" y="1058" width="11.6" height="84.6" fill="#fed98b"/>
<rect x="567.3" y="1058" width="11.6" height="84.6" fill="#fdb070"/>
<rect x="578.5" y="1058" width="11.6" height="84.6" fill="#fdab6d"/>
<rect x="589.7" y="1058" width="11.6" height="84.6" fill="#fedd8e"/>
<rect x="600.9" y="1058" width="11.6" height="84.6" fill="#fdb976"/>
<rect x="612" y="1058" width="11.6" height="84.6" fill="#fdcb82"/>
<rect x="623.2" y="1058" width="22.8" height="84.6" fill="#fdb070"/>
<rect x="645.6" y="1058" width="11.6" height="84.6" fill="#fda267"/>
<rect x="656.7" y="1058" width="11.6" height="84.6" fill="#fdc67f"/>
<rect x="667.9" y="1058" width="22.8" height="84.6" fill="#fdab6d"/>
<rect x="690.3" y="1058" width="11.6" height="84.6" fill="#fda267"/>
<rect x="701.5" y="1058" width="11.6" height="84.6" fill="#fdcb82"/>
<rect x="712.6" y="1058" width="11.6" height="84.6" fill="#fdbd79"/>
<rect x="723.8" y="1058" width="11.6" height="84.6" fill="#fdb070"/>
<rect x="735" y="1058" width="11.6" height="84.6" fill="#fca267"/>
<rect x="746.2" y="1058" width="11.6" height="84.6" fill="#fdbb77"/>
<rect x="757.4" y="1058" width="11.6" height="84.6" fill="#fdaa6c"/>
<rect x="768.6" y="1058" width="11.6" height="84.6" fill="#fdbb77"/>
<rect x="779.8" y="1058" width="11.6" height="84.6" fill="#fdb272"/>
<rect x="791" y="1058" width="22.8" height="84.6" fill="#fdaa6c"/>
<rect x="813.4" y="1058" width="11.6" height="84.6" fill="#fca267"/>
<rect x="824.5" y="1058" width="11.6" height="84.6" fill="#fdaa6c"/>
<rect x="835.7" y="1058" width="11.6" height="84.6" fill="#fff6b1"/>
<rect x="846.9" y="1058" width="11.6" height="84.6" fill="#fffcba"/>
<rect x="858.1" y="1058" width="11.6" height="84.6" fill="#fff9b6"/>
<rect x="869.3" y="1058" width="11.6" height="84.6" fill="#4a77b8"/>
<rect x="880.5" y="1058" width="11.6" height="84.6" fill="#5f8dc2"/>
<rect x="891.7" y="1058" width="11.6" height="84.6" fill="#f9fdca"/>
<rect x="902.9" y="1058" width="11.6" height="84.6" fill="#f6fbd0"/>
<rect x="914.1" y="1058" width="11.6" height="84.6" fill="#e6f5ed"/>
<rect x="925.3" y="1058" width="11.6" height="84.6" fill="#ffffbf"/>
<rect x="936.5" y="1058" width="11.6" height="84.6" fill="#f6fbd0"/>
<rect x="947.7" y="1058" width="11.6" height="84.6" fill="#f3fad6"/>
<rect x="958.9" y="1058" width="22.8" height="84.6" fill="#4a77b8"/>
<rect x="981.2" y="1058" width="11.6" height="84.6" fill="#fcfec5"/>
<rect x="992.4" y="1058" width="11.6" height="84.6" fill="#e9f7e7"/>
<rect x="1003.6" y="1058" width="11.6" height="84.6" fill="#ecf8e1"/>
<rect x="1014.8" y="1058" width="11.6" height="84.6" fill="#4a77b8"/>
<rect x="1026" y="1058" width="11.6" height="84.6" fill="#5f8dc2"/>
<rect x="1037.2" y="1058" width="11.6" height="84.6" fill="#7ca9d0"/>
<rect x="1048.4" y="1058" width="11.6" height="84.6" fill="#4a77b8"/>
<rect x="1059.6" y="1058" width="11.7" height="84.6" fill="#fffcba"/>
<rect x="1070.9" y="1058" width="11.7" height="84.6" fill="#fee699"/>
<rect x="1082.2" y="1058" width="11.7" height="84.6" fill="#fdc37d"/>
<rect x="1093.4" y="1058" width="11.7" height="84.6" fill="#fecb82"/>
<rect x="1104.7" y="1058" width="11.7" height="84.6" fill="#91bfdb"/>
<rect x="1116" y="1058" width="11.7" height="84.6" fill="#4a77b8"/>
<rect x="1127.3" y="1058" width="11.7" height="84.6" fill="#fff9b6"/>
<rect x="1138.6" y="1058" width="11.7" height="84.6" fill="#fc9961"/>
<rect x="1149.8" y="1058" width="11.7" height="84.6" fill="#fdbb77"/>
<rect x="1161.1" y="1058" width="23" height="84.6" fill="#4a77b8"/>
<rect x="1183.7" y="1058" width="11.7" height="84.6" fill="#ffffbf"/>
<rect x="1195" y="1058" width="11.7" height="84.6" fill="#fef0a8"/>
<rect x="1206.2" y="1058" width="11.7" height="84.6" fill="#fffcba"/>
<rect x="1217.5" y="1058" width="11.7" height="84.6" fill="#5f8dc2"/>
<rect x="209.6" y="1142.2" width="11.6" height="84.6" fill="#fee395"/>
<rect x="220.8" y="1142.2" width="11.6" height="84.6" fill="#fff3ac"/>
<rect x="232" y="1142.2" width="22.8" height="84.6" fill="#fee395"/>
<rect x="254.3" y="1142.2" width="11.6" height="84.6" fill="#fed88b"/>
<rect x="265.5" y="1142.2" width="11.6" height="84.6" fill="#fecf85"/>
<rect x="276.7" y="1142.2" width="33.9" height="84.6" fill="#fee699"/>
<rect x="310.2" y="1142.2" width="33.9" height="84.6" fill="#fee395"/>
<rect x="343.7" y="1142.2" width="11.6" height="84.6" fill="#e0f3f8"/>
<rect x="354.9" y="1142.2" width="11.6" height="84.6" fill="#fee99e"/>
<rect x="366.1" y="1142.2" width="11.6" height="84.6" fill="#fff6b1"/>
<rect x="377.3" y="1142.2" width="11.6" height="84.6" fill="#fee99e"/>
<rect x="388.5" y="1142.2" width="11.6" height="84.6" fill="#fee699"/>
<rect x="399.6" y="1142.2" width="11.6" height="84.6" fill="#fee99e"/>
<rect x="410.8" y="1142.2" width="11.6" height="84.6" fill="#fee395"/>
<rect x="422" y="1142.2" width="11.6" height="84.6" fill="#fee090"/>
<rect x="433.2" y="1142.2" width="11.6" height="84.6" fill="#fef0a8"/>
<rect x="444.4" y="1142.2" width="11.6" height="84.6" fill="#feeca3"/>
<rect x="455.5" y="1142.2" width="11.6" height="84.6" fill="#fee99e"/>
<rect x="466.7" y="1142.2" width="11.6" height="84.6" fill="#fee395"/>
<rect x="477.9" y="1142.2" width="22.8" height="84.6" fill="#fee090"/>
<rect x="500.2" y="1142.2" width="33.9" height="84.6" fill="#fee99e"/>
<rect x="533.8" y="1142.2" width="11.6" height="84.6" fill="#feeca3"/>
<rect x="545" y="1142.2" width="11.6" height="84.6" fill="#fee395"/>
<rect x="556.1" y="1142.2" width="11.6" height="84.6" fill="#fee699"/>
<rect x="567.3" y="1142.2" width="11.6" height="84.6" fill="#fef0a8"/>
<rect x="578.5" y="1142.2" width="11.6" height="84.6" fill="#fee090"/>
<rect x="589.7" y="1142.2" width="11.6" height="84.6" fill="#fef0a8"/>
<rect x="600.9" y="1142.2" width="11.6" height="84.6" fill="#fee395"/>
<rect x="612" y="1142.2" width="11.6" height="84.6" fill="#fee699"/>
<rect x="623.2" y="1142.2" width="22.8" height="84.6" fill="#fed88b"/>
<rect x="645.6" y="1142.2" width="11.6" height="84.6" fill="#fdbf7a"/>
<rect x="656.7" y="1142.2" width="11.6" height="84.6" fill="#feeca3"/>
<rect x="667.9" y="1142.2" width="11.6" height="84.6" fill="#fee090"/>
<rect x="679.1" y="1142.2" width="11.6" height="84.6" fill="#fee699"/>
<rect x="690.3" y="1142.2" width="11.6" height="84.6" fill="#feeca3"/>
<rect x="701.5" y="1142.2" width="11.6" height="84.6" fill="#fcfec5"/>
<rect x="712.6" y="1142.2" width="11.6" height="84.6" fill="#4a77b8"/>
<rect x="723.8" y="1142.2" width="11.6" height="84.6" fill="#fffcba"/>
<rect x="735" y="1142.2" width="11.6" height="84.6" fill="#5885bf"/>
<rect x="746.2" y="1142.2" width="34" height="84.6" fill="#4a77b8"/>
<rect x="779.8" y="1142.2" width="11.6" height="84.6" fill="#f6fbd0"/>
<rect x="791" y="1142.2" width="11.6" height="84.6" fill="#91bfdb"/>
<rect x="802.2" y="1142.2" width="34" height="84.6" fill="#4a77b8"/>
<rect x="835.7" y="1142.2" width="11.6" height="84.6" fill="#5f8dc2"/>
<rect x="846.9" y="1142.2" width="145.9" height="84.6" fill="#4a77b8"/>
<rect x="992.4" y="1142.2" width="11.6" height="84.6" fill="#5f8dc2"/>
<rect x="1003.6" y="1142.2" width="56.4" height="84.6" fill="#4a77b8"/>
<rect x="1059.6" y="1142.2" width="11.7" height="84.6" fill="#f3fad6"/>
<rect x="1070.9" y="1142.2" width="11.7" height="84.6" fill="#fee99e"/>
<rect x="1082.2" y="1142.2" width="11.7" height="84.6" fill="#4a77b8"/>
<rect x="1093.4" y="1142.2" width="11.7" height="84.6" fill="#feeca3"/>
<rect x="1104.7" y="1142.2" width="11.7" height="84.6" fill="#8ab8d8"/>
<rect x="1116" y="1142.2" width="34.2" height="84.6" fill="#4a77b8"/>
<rect x="1149.8" y="1142.2" width="11.7" height="84.6" fill="#fef0a8"/>
<rect x="1161.1" y="1142.2" width="23" height="84.6" fill="#4a77b8"/>
<rect x="1183.7" y="1142.2" width="23" height="84.6" fill="#ffffbf"/>
<rect x="1206.2" y="1142.2" width="11.7" height="84.6" fill="#fcfec5"/>
<rect x="1217.5" y="1142.2" width="11.7" height="84.6" fill="#4a77b8"/>
<rect x="209.6" y="1226.4" width="22.8" height="84.6" fill="#fff3ac"/>
<rect x="232" y="1226.4" width="11.6" height="84.6" fill="#fff9b6"/>
<rect x="243.1" y="1226.4" width="11.6" height="84.6" fill="#f0f9dc"/>
<rect x="254.3" y="1226.4" width="45.1" height="84.6" fill="#fffcba"/>
<rect x="299" y="1226.4" width="22.8" height="84.6" fill="#fff3ac"/>
<rect x="321.4" y="1226.4" width="11.6" height="84.6" fill="#f6fbd0"/>
<rect x="332.6" y="1226.4" width="11.6" height="84.6" fill="#fff3ac"/>
<rect x="343.7" y="1226.4" width="11.6" height="84.6" fill="#fff6b1"/>
<rect x="354.9" y="1226.4" width="11.6" height="84.6" fill="#fff3ac"/>
<rect x="366.1" y="1226.4" width="11.6" height="84.6" fill="#fffcba"/>
<rect x="377.3" y="1226.4" width="11.6" height="84.6" fill="#fff6b1"/>
<rect x="388.5" y="1226.4" width="33.9" height="84.6" fill="#ffffbf"/>
<rect x="422" y="1226.4" width="11.6" height="84.6" fill="#fff6b1"/>
<rect x="433.2" y="1226.4" width="11.6" height="84.6" fill="#e6f5ed"/>
<rect x="444.4" y="1226.4" width="11.6" height="84.6" fill="#fffcba"/>
<rect x="455.5" y="1226.4" width="11.6" height="84.6" fill="#f6fbd0"/>
<rect x="466.7" y="1226.4" width="45.1" height="84.6" fill="#fff6b1"/>
<rect x="511.4" y="1226.4" width="11.6" height="84.6" fill="#fff9b6"/>
<rect x="522.6" y="1226.4" width="33.9" height="84.6" fill="#f9fdca"/>
<rect x="556.1" y="1226.4" width="11.6" height="84.6" fill="#e9f7e7"/>
<rect x="567.3" y="1226.4" width="56.3" height="84.6" fill="#fffcba"/>
<rect x="623.2" y="1226.4" width="11.6" height="84.6" fill="#fff9b6"/>
<rect x="634.4" y="1226.4" width="11.6" height="84.6" fill="#fff6b1"/>
<rect x="645.6" y="1226.4" width="33.9" height="84.6" fill="#fff9b6"/>
<rect x="679.1" y="1226.4" width="11.6" height="84.6" fill="#fff6b1"/>
<rect x="690.3" y="1226.4" width="22.8" height="84.6" fill="#fffcba"/>
<rect x="712.6" y="1226.4" width="11.6" height="84.6" fill="#ffffbf"/>
<rect x="723.8" y="1226.4" width="11.6" height="84.6" fill="#e6f5ed"/>
<rect x="735" y="1226.4" width="11.6" height="84.6" fill="#5885bf"/>
<rect x="746.2" y="1226.4" width="11.6" height="84.6" fill="#e6f5ed"/>
<rect x="757.4" y="1226.4" width="11.6" height="84.6" fill="#f6fbd0"/>
<rect x="768.6" y="1226.4" width="11.6" height="84.6" fill="#f3fad6"/>
<rect x="779.8" y="1226.4" width="11.6" height="84.6" fill="#fcfec5"/>
<rect x="791" y="1226.4" width="22.8" height="84.6" fill="#fffcba"/>
<rect x="813.4" y="1226.4" width="11.6" height="84.6" fill="#ffffbf"/>
<rect x="824.5" y="1226.4" width="11.6" height="84.6" fill="#4a77b8"/>
<rect x="835.7" y="1226.4" width="11.6" height="84.6" fill="#8ab8d8"/>
<rect x="846.9" y="1226.4" width="11.6" height="84.6" fill="#ecf8e1"/>
<rect x="858.1" y="1226.4" width="11.6" height="84.6" fill="#4a77b8"/>
<rect x="869.3" y="1226.4" width="34" height="84.6" fill="#e6f5ed"/>
<rect x="902.9" y="1226.4" width="11.6" height="84.6" fill="#4a77b8"/>
<rect x="914.1" y="1226.4" width="11.6" height="84.6" fill="#5f8dc2"/>
<rect x="925.3" y="1226.4" width="34" height="84.6" fill="#4a77b8"/>
<rect x="958.9" y="1226.4" width="11.6" height="84.6" fill="#a9cfe4"/>
<rect x="970.1" y="1226.4" width="34" height="84.6" fill="#4a77b8"/>
<rect x="1003.6" y="1226.4" width="11.6" height="84.6" fill="#ffffbf"/>
<rect x="1014.8" y="1226.4" width="45.2" height="84.6" fill="#4a77b8"/>
<rect x="1059.6" y="1226.4" width="11.7" height="84.6" fill="#b1d4e7"/>
<rect x="1070.9" y="1226.4" width="11.7" height="84.6" fill="#f9fdca"/>
<rect x="1082.2" y="1226.4" width="11.7" height="84.6" fill="#4a77b8"/>
<rect x="1093.4" y="1226.4" width="11.7" height="84.6" fill="#f3fad6"/>
<rect x="1104.7" y="1226.4" width="23" height="84.6" fill="#4a77b8"/>
<rect x="1127.3" y="1226.4" width="11.7" height="84.6" fill="#f3fad6"/>
<rect x="1138.6" y="1226.4" width="23" height="84.6" fill="#fffcba"/>
<rect x="1161.1" y="1226.4" width="23" height="84.6" fill="#4a77b8"/>
<rect x="1183.7" y="1226.4" width="11.7" height="84.6" fill="#a9cfe4"/>
<rect x="1195" y="1226.4" width="11.7" height="84.6" fill="#a1c9e1"/>
<rect x="1206.2" y="1226.4" width="11.7" height="84.6" fill="#b8d9ea"/>
<rect x="1217.5" y="1226.4" width="11.7" height="84.6" fill="#4a77b8"/>
<rect x="209.6" y="1310.6" width="22.8" height="84.6" fill="#fff2ab"/>
<rect x="232" y="1310.6" width="11.6" height="84.6" fill="#fff5b0"/>
<rect x="243.1" y="1310.6" width="11.6" height="84.6" fill="#fee99d"/>
<rect x="254.3" y="1310.6" width="33.9" height="84.6" fill="#fff8b5"/>
<rect x="287.9" y="1310.6" width="11.6" height="84.6" fill="#fee99d"/>
<rect x="299" y="1310.6" width="11.6" height="84.6" fill="#fede8f"/>
<rect x="310.2" y="1310.6" width="11.6" height="84.6" fill="#fee698"/>
<rect x="321.4" y="1310.6" width="11.6" height="84.6" fill="#fee99d"/>
<rect x="332.6" y="1310.6" width="33.9" height="84.6" fill="#fee698"/>
<rect x="366.1" y="1310.6" width="11.6" height="84.6" fill="#fff2ab"/>
<rect x="377.3" y="1310.6" width="11.6" height="84.6" fill="#feefa7"/>
<rect x="388.5" y="1310.6" width="11.6" height="84.6" fill="#feeca2"/>
<rect x="399.6" y="1310.6" width="11.6" height="84.6" fill="#fcfec5"/>
<rect x="410.8" y="1310.6" width="11.6" height="84.6" fill="#fee99d"/>
<rect x="422" y="1310.6" width="11.6" height="84.6" fill="#fee698"/>
<rect x="433.2" y="1310.6" width="33.9" height="84.6" fill="#ffffbf"/>
<rect x="466.7" y="1310.6" width="11.6" height="84.6" fill="#fee99d"/>
<rect x="477.9" y="1310.6" width="11.6" height="84.6" fill="#feeca2"/>
<rect x="489.1" y="1310.6" width="11.6" height="84.6" fill="#fff8b5"/>
<rect x="500.2" y="1310.6" width="22.8" height="84.6" fill="#fff2ab"/>
<rect x="522.6" y="1310.6" width="11.6" height="84.6" fill="#fcfec5"/>
<rect x="533.8" y="1310.6" width="11.6" height="84.6" fill="#f6fbd0"/>
<rect x="545" y="1310.6" width="11.6" height="84.6" fill="#fcfec5"/>
<rect x="556.1" y="1310.6" width="11.6" height="84.6" fill="#feefa7"/>
<rect x="567.3" y="1310.6" width="11.6" height="84.6" fill="#fee294"/>
<rect x="578.5" y="1310.6" width="11.6" height="84.6" fill="#fee698"/>
<rect x="589.7" y="1310.6" width="11.6" height="84.6" fill="#ffffbf"/>
<rect x="600.9" y="1310.6" width="11.6" height="84.6" fill="#feefa7"/>
<rect x="612" y="1310.6" width="11.6" height="84.6" fill="#ffffbf"/>
<rect x="623.2" y="1310.6" width="33.9" height="84.6" fill="#fee698"/>
<rect x="656.7" y="1310.6" width="22.8" height="84.6" fill="#fee294"/>
<rect x="679.1" y="1310.6" width="11.6" height="84.6" fill="#ffffbf"/>
<rect x="690.3" y="1310.6" width="11.6" height="84.6" fill="#fede8f"/>
<rect x="701.5" y="1310.6" width="11.6" height="84.6" fill="#f9fdca"/>
<rect x="712.6" y="1310.6" width="11.6" height="84.6" fill="#fee99d"/>
<rect x="723.8" y="1310.6" width="11.6" height="84.6" fill="#fee698"/>
<rect x="735" y="1310.6" width="11.6" height="84.6" fill="#fff8b5"/>
<rect x="746.2" y="1310.6" width="11.6" height="84.6" fill="#ffffbf"/>
<rect x="757.4" y="1310.6" width="11.6" height="84.6" fill="#fff8b5"/>
<rect x="768.6" y="1310.6" width="11.6" height="84.6" fill="#fff5b0"/>
<rect x="779.8" y="1310.6" width="11.6" height="84.6" fill="#ffffbf"/>
<rect x="791" y="1310.6" width="11.6" height="84.6" fill="#d8eef5"/>
<rect x="802.2" y="1310.6" width="11.6" height="84.6" fill="#fcfec5"/>
<rect x="813.4" y="1310.6" width="22.8" height="84.6" fill="#feefa7"/>
<rect x="835.7" y="1310.6" width="11.6" height="84.6" fill="#91bfdb"/>
<rect x="846.9" y="1310.6" width="11.6" height="84.6" fill="#4a77b8"/>
<rect x="858.1" y="1310.6" width="11.6" height="84.6" fill="#ffffbf"/>
<rect x="869.3" y="1310.6" width="11.6" height="84.6" fill="#4a77b8"/>
<rect x="880.5" y="1310.6" width="11.6" height="84.6" fill="#5f8dc2"/>
<rect x="891.7" y="1310.6" width="67.6" height="84.6" fill="#4a77b8"/>
<rect x="958.9" y="1310.6" width="11.6" height="84.6" fill="#ecf8e1"/>
<rect x="970.1" y="1310.6" width="22.8" height="84.6" fill="#4a77b8"/>
<rect x="992.4" y="1310.6" width="11.6" height="84.6" fill="#f9fdca"/>
<rect x="1003.6" y="1310.6" width="56.4" height="84.6" fill="#4a77b8"/>
<rect x="1059.6" y="1310.6" width="11.7" height="84.6" fill="#e3f4f2"/>
<rect x="1070.9" y="1310.6" width="11.7" height="84.6" fill="#4a77b8"/>
<rect x="1082.2" y="1310.6" width="11.7" height="84.6" fill="#fecf85"/>
<rect x="1093.4" y="1310.6" width="11.7" height="84.6" fill="#fff6b1"/>
<rect x="1104.7" y="1310.6" width="11.7" height="84.6" fill="#4a77b8"/>
<rect x="1116" y="1310.6" width="11.7" height="84.6" fill="#fcfec5"/>
<rect x="1127.3" y="1310.6" width="11.7" height="84.6" fill="#99c4de"/>
<rect x="1138.6" y="1310.6" width="11.7" height="84.6" fill="#f3fad6"/>
<rect x="1149.8" y="1310.6" width="11.7" height="84.6" fill="#fff9b6"/>
<rect x="1161.1" y="1310.6" width="11.7" height="84.6" fill="#75a2cd"/>
<rect x="1172.4" y="1310.6" width="11.7" height="84.6" fill="#4a77b8"/>
<rect x="1183.7" y="1310.6" width="11.7" height="84.6" fill="#75a2cd"/>
<rect x="1195" y="1310.6" width="23" height="84.6" fill="#f3fad6"/>
<rect x="1217.5" y="1310.6" width="11.7" height="84.6" fill="#4a77b8"/>
<rect x="209.6" y="1394.8" width="11.6" height="84.6" fill="#fff9b6"/>
<rect x="220.8" y="1394.8" width="22.8" height="84.6" fill="#fcfec5"/>
<rect x="243.1" y="1394.8" width="11.6" height="84.6" fill="#fff9b6"/>
<rect x="254.3" y="1394.8" width="11.6" height="84.6" fill="#fffcba"/>
<rect x="265.5" y="1394.8" width="11.6" height="84.6" fill="#f9fdca"/>
<rect x="276.7" y="1394.8" width="11.6" height="84.6" fill="#e9f7e7"/>
<rect x="287.9" y="1394.8" width="11.6" height="84.6" fill="#fff9b6"/>
<rect x="299" y="1394.8" width="11.6" height="84.6" fill="#fff6b1"/>
<rect x="310.2" y="1394.8" width="11.6" height="84.6" fill="#fff9b6"/>
<rect x="321.4" y="1394.8" width="22.8" height="84.6" fill="#fff6b1"/>
<rect x="343.7" y="1394.8" width="22.8" height="84.6" fill="#ffffbf"/>
<rect x="366.1" y="1394.8" width="11.6" height="84.6" fill="#fcfec5"/>
<rect x="377.3" y="1394.8" width="22.8" height="84.6" fill="#fffcba"/>
<rect x="399.6" y="1394.8" width="11.6" height="84.6" fill="#ffffbf"/>
<rect x="410.8" y="1394.8" width="11.6" height="84.6" fill="#fffcba"/>
<rect x="422" y="1394.8" width="11.6" height="84.6" fill="#fff9b6"/>
<rect x="433.2" y="1394.8" width="11.6" height="84.6" fill="#f6fbd0"/>
<rect x="444.4" y="1394.8" width="45.1" height="84.6" fill="#fffcba"/>
<rect x="489.1" y="1394.8" width="11.6" height="84.6" fill="#fff9b6"/>
<rect x="500.2" y="1394.8" width="22.8" height="84.6" fill="#fffcba"/>
<rect x="522.6" y="1394.8" width="11.6" height="84.6" fill="#e9f7e7"/>
<rect x="533.8" y="1394.8" width="11.6" height="84.6" fill="#fffcba"/>
<rect x="545" y="1394.8" width="22.8" height="84.6" fill="#fff9b6"/>
<rect x="567.3" y="1394.8" width="11.6" height="84.6" fill="#fffcba"/>
<rect x="578.5" y="1394.8" width="11.6" height="84.6" fill="#fff9b6"/>
<rect x="589.7" y="1394.8" width="11.6" height="84.6" fill="#fcfec5"/>
<rect x="600.9" y="1394.8" width="45.1" height="84.6" fill="#fff9b6"/>
<rect x="645.6" y="1394.8" width="11.6" height="84.6" fill="#f0f9dc"/>
<rect x="656.7" y="1394.8" width="22.8" height="84.6" fill="#fffcba"/>
<rect x="679.1" y="1394.8" width="11.6" height="84.6" fill="#fff6b1"/>
<rect x="690.3" y="1394.8" width="11.6" height="84.6" fill="#fcfec5"/>
<rect x="701.5" y="1394.8" width="11.6" height="84.6" fill="#f6fbd0"/>
<rect x="712.6" y="1394.8" width="11.6" height="84.6" fill="#f3fad6"/>
<rect x="723.8" y="1394.8" width="11.6" height="84.6" fill="#fffcba"/>
<rect x="735" y="1394.8" width="11.6" height="84.6" fill="#f0f9dc"/>
<rect x="746.2" y="1394.8" width="11.6" height="84.6" fill="#c0deec"/>
<rect x="757.4" y="1394.8" width="11.6" height="84.6" fill="#fcfec5"/>
<rect x="768.6" y="1394.8" width="11.6" height="84.6" fill="#e3f4f2"/>
<rect x="779.8" y="1394.8" width="22.8" height="84.6" fill="#ecf8e1"/>
<rect x="802.2" y="1394.8" width="11.6" height="84.6" fill="#f3fad6"/>
<rect x="813.4" y="1394.8" width="11.6" height="84.6" fill="#f9fdca"/>
<rect x="824.5" y="1394.8" width="11.6" height="84.6" fill="#f6fbd0"/>
<rect x="835.7" y="1394.8" width="11.6" height="84.6" fill="#a1c9e1"/>
<rect x="846.9" y="1394.8" width="11.6" height="84.6" fill="#e9f7e7"/>
<rect x="858.1" y="1394.8" width="11.6" height="84.6" fill="#fcfec5"/>
<rect x="869.3" y="1394.8" width="11.6" height="84.6" fill="#4a77b8"/>
<rect x="880.5" y="1394.8" width="11.6" height="84.6" fill="#a9cfe4"/>
<rect x="891.7" y="1394.8" width="11.6" height="84.6" fill="#b1d4e7"/>
<rect x="902.9" y="1394.8" width="11.6" height="84.6" fill="#e3f4f2"/>
<rect x="914.1" y="1394.8" width="11.6" height="84.6" fill="#d8eef5"/>
<rect x="925.3" y="1394.8" width="22.8" height="84.6" fill="#e0f3f8"/>
<rect x="947.7" y="1394.8" width="22.8" height="84.6" fill="#e9f7e7"/>
<rect x="970.1" y="1394.8" width="11.6" height="84.6" fill="#4a77b8"/>
<rect x="981.2" y="1394.8" width="11.6" height="84.6" fill="#a1c9e1"/>
<rect x="992.4" y="1394.8" width="11.6" height="84.6" fill="#5f8dc2"/>
<rect x="1003.6" y="1394.8" width="34" height="84.6" fill="#4a77b8"/>
<rect x="1037.2" y="1394.8" width="11.6" height="84.6" fill="#fee99e"/>
<rect x="1048.4" y="1394.8" width="11.6" height="84.6" fill="#4a77b8"/>
<rect x="1059.6" y="1394.8" width="23" height="84.6" fill="#ffffbf"/>
<rect x="1082.2" y="1394.8" width="11.7" height="84.6" fill="#f9fdca"/>
<rect x="1093.4" y="1394.8" width="11.7" height="84.6" fill="#f3fad6"/>
<rect x="1104.7" y="1394.8" width="34.2" height="84.6" fill="#4a77b8"/>
<rect x="1138.6" y="1394.8" width="11.7" height="84.6" fill="#fff9b6"/>
<rect x="1149.8" y="1394.8" width="11.7" height="84.6" fill="#fff6b1"/>
<rect x="1161.1" y="1394.8" width="11.7" height="84.6" fill="#4a77b8"/>
<rect x="1172.4" y="1394.8" width="11.7" height="84.6" fill="#7ca9d0"/>
<rect x="1183.7" y="1394.8" width="23" height="84.6" fill="#ecf8e1"/>
<rect x="1206.2" y="1394.8" width="11.7" height="84.6" fill="#f0f9dc"/>
<rect x="1217.5" y="1394.8" width="11.7" height="84.6" fill="#4a77b8"/>
<rect x="209.6" y="1479" width="224" height="84.6" fill="#4a77b8"/>
<rect x="433.2" y="1479" width="11.6" height="84.6" fill="#f6fbd0"/>
<rect x="444.4" y="1479" width="291" height="84.6" fill="#4a77b8"/>
<rect x="735" y="1479" width="11.6" height="84.6" fill="#e6f5ed"/>
<rect x="746.2" y="1479" width="11.6" height="84.6" fill="#fcfec5"/>
<rect x="757.4" y="1479" width="11.6" height="84.6" fill="#a1c9e1"/>
<rect x="768.6" y="1479" width="11.6" height="84.6" fill="#4a77b8"/>
<rect x="779.8" y="1479" width="22.8" height="84.6" fill="#fef0a8"/>
<rect x="802.2" y="1479" width="11.6" height="84.6" fill="#fff3ac"/>
<rect x="813.4" y="1479" width="11.6" height="84.6" fill="#4a77b8"/>
<rect x="824.5" y="1479" width="11.6" height="84.6" fill="#fed88b"/>
<rect x="835.7" y="1479" width="34" height="84.6" fill="#fee395"/>
<rect x="869.3" y="1479" width="11.6" height="84.6" fill="#fff9b6"/>
<rect x="880.5" y="1479" width="11.6" height="84.6" fill="#e9f7e7"/>
<rect x="891.7" y="1479" width="11.6" height="84.6" fill="#f3fad6"/>
<rect x="902.9" y="1479" width="11.6" height="84.6" fill="#4a77b8"/>
<rect x="914.1" y="1479" width="11.6" height="84.6" fill="#fffcba"/>
<rect x="925.3" y="1479" width="11.6" height="84.6" fill="#fff6b1"/>
<rect x="936.5" y="1479" width="11.6" height="84.6" fill="#fff3ac"/>
<rect x="947.7" y="1479" width="11.6" height="84.6" fill="#fffcba"/>
<rect x="958.9" y="1479" width="22.8" height="84.6" fill="#4a77b8"/>
<rect x="981.2" y="1479" width="11.6" height="84.6" fill="#fee090"/>
<rect x="992.4" y="1479" width="11.6" height="84.6" fill="#d73027"/>
<rect x="1003.6" y="1479" width="11.6" height="84.6" fill="#fdbf7a"/>
<rect x="1014.8" y="1479" width="79" height="84.6" fill="#4a77b8"/>
<rect x="1093.4" y="1479" width="23" height="84.6" fill="#ffffbf"/>
<rect x="1116" y="1479" width="113.2" height="84.6" fill="#4a77b8"/>
<rect x="209.6" y="1563.2" width="11.6" height="84.6" fill="#4a77b8"/>
<rect x="220.8" y="1563.2" width="11.6" height="84.6" fill="#6694c6"/>
<rect x="232" y="1563.2" width="11.6" height="84.6" fill="#4a77b8"/>
<rect x="243.1" y="1563.2" width="11.6" height="84.6" fill="#6e9bca"/>
<rect x="254.3" y="1563.2" width="11.6" height="84.6" fill="#fcfec5"/>
<rect x="265.5" y="1563.2" width="11.6" height="84.6" fill="#fff3ac"/>
<rect x="276.7" y="1563.2" width="145.7" height="84.6" fill="#4a77b8"/>
<rect x="422" y="1563.2" width="11.6" height="84.6" fill="#fff3ac"/>
<rect x="433.2" y="1563.2" width="11.6" height="84.6" fill="#4a77b8"/>
<rect x="444.4" y="1563.2" width="11.6" height="84.6" fill="#f9fdca"/>
<rect x="455.5" y="1563.2" width="11.6" height="84.6" fill="#e6f5ed"/>
<rect x="466.7" y="1563.2" width="11.6" height="84.6" fill="#4a77b8"/>
<rect x="477.9" y="1563.2" width="11.6" height="84.6" fill="#99c4de"/>
<rect x="489.1" y="1563.2" width="22.8" height="84.6" fill="#4a77b8"/>
<rect x="511.4" y="1563.2" width="11.6" height="84.6" fill="#a1c9e1"/>
<rect x="522.6" y="1563.2" width="11.6" height="84.6" fill="#4a77b8"/>
<rect x="533.8" y="1563.2" width="11.6" height="84.6" fill="#f9fdca"/>
<rect x="545" y="1563.2" width="11.6" height="84.6" fill="#fff6b1"/>
<rect x="556.1" y="1563.2" width="56.3" height="84.6" fill="#4a77b8"/>
<rect x="612" y="1563.2" width="11.6" height="84.6" fill="#d0e9f2"/>
<rect x="623.2" y="1563.2" width="11.6" height="84.6" fill="#fff6b1"/>
<rect x="634.4" y="1563.2" width="11.6" height="84.6" fill="#4a77b8"/>
<rect x="645.6" y="1563.2" width="11.6" height="84.6" fill="#f9fdca"/>
<rect x="656.7" y="1563.2" width="78.7" height="84.6" fill="#4a77b8"/>
<rect x="735" y="1563.2" width="11.6" height="84.6" fill="#fcfec5"/>
<rect x="746.2" y="1563.2" width="11.6" height="84.6" fill="#f9fdca"/>
<rect x="757.4" y="1563.2" width="11.6" height="84.6" fill="#f6fbd0"/>
<rect x="768.6" y="1563.2" width="11.6" height="84.6" fill="#4a77b8"/>
<rect x="779.8" y="1563.2" width="22.8" height="84.6" fill="#ffffbf"/>
<rect x="802.2" y="1563.2" width="22.8" height="84.6" fill="#4a77b8"/>
<rect x="824.5" y="1563.2" width="11.6" height="84.6" fill="#fef0a8"/>
<rect x="835.7" y="1563.2" width="11.6" height="84.6" fill="#fffcba"/>
<rect x="846.9" y="1563.2" width="11.6" height="84.6" fill="#ffffbf"/>
<rect x="858.1" y="1563.2" width="11.6" height="84.6" fill="#fffcba"/>
<rect x="869.3" y="1563.2" width="11.6" height="84.6" fill="#fcfec5"/>
<rect x="880.5" y="1563.2" width="11.6" height="84.6" fill="#f9fdca"/>
<rect x="891.7" y="1563.2" width="11.6" height="84.6" fill="#fcfec5"/>
<rect x="902.9" y="1563.2" width="11.6" height="84.6" fill="#e9f7e7"/>
<rect x="914.1" y="1563.2" width="11.6" height="84.6" fill="#e6f5ed"/>
<rect x="925.3" y="1563.2" width="11.6" height="84.6" fill="#ffffbf"/>
<rect x="936.5" y="1563.2" width="11.6" height="84.6" fill="#e3f4f2"/>
<rect x="947.7" y="1563.2" width="11.6" height="84.6" fill="#fcfec5"/>
<rect x="958.9" y="1563.2" width="11.6" height="84.6" fill="#4a77b8"/>
<rect x="970.1" y="1563.2" width="11.6" height="84.6" fill="#f0f9dc"/>
<rect x="981.2" y="1563.2" width="11.6" height="84.6" fill="#83b1d4"/>
<rect x="992.4" y="1563.2" width="11.6" height="84.6" fill="#ecf8e1"/>
<rect x="1003.6" y="1563.2" width="11.6" height="84.6" fill="#f0f9dc"/>
<rect x="1014.8" y="1563.2" width="79" height="84.6" fill="#4a77b8"/>
<rect x="1093.4" y="1563.2" width="11.7" height="84.6" fill="#fffcba"/>
<rect x="1104.7" y="1563.2" width="124.5" height="84.6" fill="#4a77b8"/>
<rect x="209.6" y="1647.4" width="11.6" height="84.6" fill="#4a77b8"/>
<rect x="220.8" y="1647.4" width="11.6" height="84.6" fill="#e6f5ed"/>
<rect x="232" y="1647.4" width="22.8" height="84.6" fill="#4a77b8"/>
<rect x="254.3" y="1647.4" width="22.8" height="84.6" fill="#e9f7e7"/>
<rect x="276.7" y="1647.4" width="11.6" height="84.6" fill="#4a77b8"/>
<rect x="287.9" y="1647.4" width="11.6" height="84.6" fill="#d8eef5"/>
<rect x="299" y="1647.4" width="123.4" height="84.6" fill="#4a77b8"/>
<rect x="422" y="1647.4" width="11.6" height="84.6" fill="#d0e9f2"/>
<rect x="433.2" y="1647.4" width="11.6" height="84.6" fill="#4a77b8"/>
<rect x="444.4" y="1647.4" width="11.6" height="84.6" fill="#e6f5ed"/>
<rect x="455.5" y="1647.4" width="11.6" height="84.6" fill="#d0e9f2"/>
<rect x="466.7" y="1647.4" width="67.5" height="84.6" fill="#4a77b8"/>
<rect x="533.8" y="1647.4" width="11.6" height="84.6" fill="#e9f7e7"/>
<rect x="545" y="1647.4" width="11.6" height="84.6" fill="#ecf8e1"/>
<rect x="556.1" y="1647.4" width="67.5" height="84.6" fill="#4a77b8"/>
<rect x="623.2" y="1647.4" width="11.6" height="84.6" fill="#f6fbd0"/>
<rect x="634.4" y="1647.4" width="11.6" height="84.6" fill="#4a77b8"/>
<rect x="645.6" y="1647.4" width="11.6" height="84.6" fill="#f9fdca"/>
<rect x="656.7" y="1647.4" width="89.8" height="84.6" fill="#4a77b8"/>
<rect x="746.2" y="1647.4" width="11.6" height="84.6" fill="#e6f5ed"/>
<rect x="757.4" y="1647.4" width="11.6" height="84.6" fill="#fcfec5"/>
<rect x="768.6" y="1647.4" width="11.6" height="84.6" fill="#d0e9f2"/>
<rect x="779.8" y="1647.4" width="11.6" height="84.6" fill="#e0f3f8"/>
<rect x="791" y="1647.4" width="34" height="84.6" fill="#4a77b8"/>
<rect x="824.5" y="1647.4" width="11.6" height="84.6" fill="#ffffbf"/>
<rect x="835.7" y="1647.4" width="11.6" height="84.6" fill="#f3fad6"/>
<rect x="846.9" y="1647.4" width="11.6" height="84.6" fill="#b1d4e7"/>
<rect x="858.1" y="1647.4" width="11.6" height="84.6" fill="#e9f7e7"/>
<rect x="869.3" y="1647.4" width="11.6" height="84.6" fill="#ecf8e1"/>
<rect x="880.5" y="1647.4" width="11.6" height="84.6" fill="#c8e3ef"/>
<rect x="891.7" y="1647.4" width="11.6" height="84.6" fill="#d8eef5"/>
<rect x="902.9" y="1647.4" width="11.6" height="84.6" fill="#e0f3f8"/>
<rect x="914.1" y="1647.4" width="11.6" height="84.6" fill="#d0e9f2"/>
<rect x="925.3" y="1647.4" width="11.6" height="84.6" fill="#e3f4f2"/>
<rect x="936.5" y="1647.4" width="11.6" height="84.6" fill="#e6f5ed"/>
<rect x="947.7" y="1647.4" width="11.6" height="84.6" fill="#e9f7e7"/>
<rect x="958.9" y="1647.4" width="11.6" height="84.6" fill="#8ab8d8"/>
<rect x="970.1" y="1647.4" width="11.6" height="84.6" fill="#d8eef5"/>
<rect x="981.2" y="1647.4" width="22.8" height="84.6" fill="#ffffbf"/>
<rect x="1003.6" y="1647.4" width="11.6" height="84.6" fill="#fcfec5"/>
<rect x="1014.8" y="1647.4" width="79" height="84.6" fill="#4a77b8"/>
<rect x="1093.4" y="1647.4" width="11.7" height="84.6" fill="#d0e9f2"/>
<rect x="1104.7" y="1647.4" width="34.2" height="84.6" fill="#4a77b8"/>
<rect x="1138.6" y="1647.4" width="11.7" height="84.6" fill="#b1d4e7"/>
<rect x="1149.8" y="1647.4" width="11.7" height="84.6" fill="#ecf8e1"/>
<rect x="1161.1" y="1647.4" width="68.1" height="84.6" fill="#4a77b8"/>
<rect x="209.6" y="1731.6" width="11.6" height="84.6" fill="#fffcba"/>
<rect x="220.8" y="1731.6" width="11.6" height="84.6" fill="#fff6b1"/>
<rect x="232" y="1731.6" width="11.6" height="84.6" fill="#4a77b8"/>
<rect x="243.1" y="1731.6" width="11.6" height="84.6" fill="#fee090"/>
<rect x="254.3" y="1731.6" width="11.6" height="84.6" fill="#4a77b8"/>
<rect x="265.5" y="1731.6" width="11.6" height="84.6" fill="#fff6b1"/>
<rect x="276.7" y="1731.6" width="11.6" height="84.6" fill="#4a77b8"/>
<rect x="287.9" y="1731.6" width="11.6" height="84.6" fill="#6694c6"/>
<rect x="299" y="1731.6" width="11.6" height="84.6" fill="#a9cfe4"/>
<rect x="310.2" y="1731.6" width="22.8" height="84.6" fill="#4a77b8"/>
<rect x="332.6" y="1731.6" width="11.6" height="84.6" fill="#ffffbf"/>
<rect x="343.7" y="1731.6" width="11.6" height="84.6" fill="#6694c6"/>
<rect x="354.9" y="1731.6" width="11.6" height="84.6" fill="#4a77b8"/>
<rect x="366.1" y="1731.6" width="11.6" height="84.6" fill="#ecf8e1"/>
<rect x="377.3" y="1731.6" width="22.8" height="84.6" fill="#4a77b8"/>
<rect x="399.6" y="1731.6" width="11.6" height="84.6" fill="#a1c9e1"/>
<rect x="410.8" y="1731.6" width="11.6" height="84.6" fill="#b1d4e7"/>
<rect x="422" y="1731.6" width="11.6" height="84.6" fill="#e3f4f2"/>
<rect x="433.2" y="1731.6" width="11.6" height="84.6" fill="#4a77b8"/>
<rect x="444.4" y="1731.6" width="11.6" height="84.6" fill="#fee99e"/>
<rect x="455.5" y="1731.6" width="11.6" height="84.6" fill="#f0f9dc"/>
<rect x="466.7" y="1731.6" width="11.6" height="84.6" fill="#83b1d4"/>
<rect x="477.9" y="1731.6" width="11.6" height="84.6" fill="#4a77b8"/>
<rect x="489.1" y="1731.6" width="11.6" height="84.6" fill="#6e9bca"/>
<rect x="500.2" y="1731.6" width="22.8" height="84.6" fill="#4a77b8"/>
<rect x="522.6" y="1731.6" width="11.6" height="84.6" fill="#8ab8d8"/>
<rect x="533.8" y="1731.6" width="11.6" height="84.6" fill="#91bfdb"/>
<rect x="545" y="1731.6" width="11.6" height="84.6" fill="#fffcba"/>
<rect x="556.1" y="1731.6" width="11.6" height="84.6" fill="#83b1d4"/>
<rect x="567.3" y="1731.6" width="22.8" height="84.6" fill="#4a77b8"/>
<rect x="589.7" y="1731.6" width="11.6" height="84.6" fill="#fef0a8"/>
<rect x="600.9" y="1731.6" width="11.6" height="84.6" fill="#fff9b6"/>
<rect x="612" y="1731.6" width="11.6" height="84.6" fill="#fff6b1"/>
<rect x="623.2" y="1731.6" width="11.6" height="84.6" fill="#8ab8d8"/>
<rect x="634.4" y="1731.6" width="11.6" height="84.6" fill="#fcfec5"/>
<rect x="645.6" y="1731.6" width="11.6" height="84.6" fill="#fef0a8"/>
<rect x="656.7" y="1731.6" width="11.6" height="84.6" fill="#99c4de"/>
<rect x="667.9" y="1731.6" width="11.6" height="84.6" fill="#a9cfe4"/>
<rect x="679.1" y="1731.6" width="22.8" height="84.6" fill="#f9fdca"/>
<rect x="701.5" y="1731.6" width="11.6" height="84.6" fill="#4a77b8"/>
<rect x="712.6" y="1731.6" width="11.6" height="84.6" fill="#fff3ac"/>
<rect x="723.8" y="1731.6" width="11.6" height="84.6" fill="#4a77b8"/>
<rect x="735" y="1731.6" width="11.6" height="84.6" fill="#fdae6f"/>
<rect x="746.2" y="1731.6" width="11.6" height="84.6" fill="#fed88b"/>
<rect x="757.4" y="1731.6" width="11.6" height="84.6" fill="#fdbf7a"/>
<rect x="768.6" y="1731.6" width="11.6" height="84.6" fill="#fffcba"/>
<rect x="779.8" y="1731.6" width="22.8" height="84.6" fill="#feeca3"/>
<rect x="802.2" y="1731.6" width="11.6" height="84.6" fill="#fee99e"/>
<rect x="813.4" y="1731.6" width="11.6" height="84.6" fill="#fee699"/>
<rect x="824.5" y="1731.6" width="11.6" height="84.6" fill="#fdc780"/>
<rect x="835.7" y="1731.6" width="11.6" height="84.6" fill="#f57a4f"/>
<rect x="846.9" y="1731.6" width="22.8" height="84.6" fill="#fc955e"/>
<rect x="869.3" y="1731.6" width="11.6" height="84.6" fill="#fdbf7a"/>
<rect x="880.5" y="1731.6" width="11.6" height="84.6" fill="#f57a4f"/>
<rect x="891.7" y="1731.6" width="11.6" height="84.6" fill="#f1714a"/>
<rect x="902.9" y="1731.6" width="11.6" height="84.6" fill="#f88454"/>
<rect x="914.1" y="1731.6" width="22.8" height="84.6" fill="#f1714a"/>
<rect x="936.5" y="1731.6" width="11.6" height="84.6" fill="#ed6845"/>
<rect x="947.7" y="1731.6" width="11.6" height="84.6" fill="#e6553b"/>
<rect x="958.9" y="1731.6" width="11.6" height="84.6" fill="#fc8d59"/>
<rect x="970.1" y="1731.6" width="11.6" height="84.6" fill="#d73027"/>
<rect x="981.2" y="1731.6" width="11.6" height="84.6" fill="#fdbf7a"/>
<rect x="992.4" y="1731.6" width="11.6" height="84.6" fill="#fed88b"/>
<rect x="1003.6" y="1731.6" width="11.6" height="84.6" fill="#ea5e40"/>
<rect x="1014.8" y="1731.6" width="11.6" height="84.6" fill="#6e9bca"/>
<rect x="1026" y="1731.6" width="22.8" height="84.6" fill="#4a77b8"/>
<rect x="1048.4" y="1731.6" width="11.6" height="84.6" fill="#75a2cd"/>
<rect x="1059.6" y="1731.6" width="23" height="84.6" fill="#5f8dc2"/>
<rect x="1082.2" y="1731.6" width="23" height="84.6" fill="#4a77b8"/>
<rect x="1104.7" y="1731.6" width="11.7" height="84.6" fill="#fdae6f"/>
<rect x="1116" y="1731.6" width="11.7" height="84.6" fill="#4a77b8"/>
<rect x="1127.3" y="1731.6" width="11.7" height="84.6" fill="#fffcba"/>
<rect x="1138.6" y="1731.6" width="45.5" height="84.6" fill="#4a77b8"/>
<rect x="1183.7" y="1731.6" width="11.7" height="84.6" fill="#6e9bca"/>
<rect x="1195" y="1731.6" width="23" height="84.6" fill="#6694c6"/>
<rect x="1217.5" y="1731.6" width="11.7" height="84.6" fill="#4a77b8"/>
<rect x="209.6" y="1815.8" width="11.6" height="84.6" fill="#5885bf"/>
<rect x="220.8" y="1815.8" width="11.6" height="84.6" fill="#fcfec5"/>
<rect x="232" y="1815.8" width="11.6" height="84.6" fill="#d8eef5"/>
<rect x="243.1" y="1815.8" width="11.6" height="84.6" fill="#fff9b6"/>
<rect x="254.3" y="1815.8" width="11.6" height="84.6" fill="#4a77b8"/>
<rect x="265.5" y="1815.8" width="11.6" height="84.6" fill="#c0deec"/>
<rect x="276.7" y="1815.8" width="11.6" height="84.6" fill="#8ab8d8"/>
<rect x="287.9" y="1815.8" width="11.6" height="84.6" fill="#6e9bca"/>
<rect x="299" y="1815.8" width="11.6" height="84.6" fill="#ecf8e1"/>
<rect x="310.2" y="1815.8" width="11.6" height="84.6" fill="#4a77b8"/>
<rect x="321.4" y="1815.8" width="11.6" height="84.6" fill="#e3f4f2"/>
<rect x="332.6" y="1815.8" width="11.6" height="84.6" fill="#e9f7e7"/>
<rect x="343.7" y="1815.8" width="11.6" height="84.6" fill="#fff9b6"/>
<rect x="354.9" y="1815.8" width="11.6" height="84.6" fill="#f6fbd0"/>
<rect x="366.1" y="1815.8" width="11.6" height="84.6" fill="#ecf8e1"/>
<rect x="377.3" y="1815.8" width="11.6" height="84.6" fill="#f3fad6"/>
<rect x="388.5" y="1815.8" width="11.6" height="84.6" fill="#f9fdca"/>
<rect x="399.6" y="1815.8" width="11.6" height="84.6" fill="#d0e9f2"/>
<rect x="410.8" y="1815.8" width="11.6" height="84.6" fill="#e3f4f2"/>
<rect x="422" y="1815.8" width="11.6" height="84.6" fill="#e6f5ed"/>
<rect x="433.2" y="1815.8" width="11.6" height="84.6" fill="#b1d4e7"/>
<rect x="444.4" y="1815.8" width="11.6" height="84.6" fill="#c0deec"/>
<rect x="455.5" y="1815.8" width="11.6" height="84.6" fill="#d8eef5"/>
<rect x="466.7" y="1815.8" width="22.8" height="84.6" fill="#4a77b8"/>
<rect x="489.1" y="1815.8" width="11.6" height="84.6" fill="#fcfec5"/>
<rect x="500.2" y="1815.8" width="22.8" height="84.6" fill="#f9fdca"/>
<rect x="522.6" y="1815.8" width="11.6" height="84.6" fill="#c8e3ef"/>
<rect x="533.8" y="1815.8" width="11.6" height="84.6" fill="#4a77b8"/>
<rect x="545" y="1815.8" width="11.6" height="84.6" fill="#ffffbf"/>
<rect x="556.1" y="1815.8" width="11.6" height="84.6" fill="#91bfdb"/>
<rect x="567.3" y="1815.8" width="11.6" height="84.6" fill="#f6fbd0"/>
<rect x="578.5" y="1815.8" width="11.6" height="84.6" fill="#f9fdca"/>
<rect x="589.7" y="1815.8" width="11.6" height="84.6" fill="#a1c9e1"/>
<rect x="600.9" y="1815.8" width="11.6" height="84.6" fill="#f6fbd0"/>
<rect x="612" y="1815.8" width="11.6" height="84.6" fill="#a1c9e1"/>
<rect x="623.2" y="1815.8" width="11.6" height="84.6" fill="#b8d9ea"/>
<rect x="634.4" y="1815.8" width="11.6" height="84.6" fill="#e6f5ed"/>
<rect x="645.6" y="1815.8" width="11.6" height="84.6" fill="#f3fad6"/>
<rect x="656.7" y="1815.8" width="22.8" height="84.6" fill="#4a77b8"/>
<rect x="679.1" y="1815.8" width="11.6" height="84.6" fill="#e6f5ed"/>
<rect x="690.3" y="1815.8" width="11.6" height="84.6" fill="#ecf8e1"/>
<rect x="701.5" y="1815.8" width="11.6" height="84.6" fill="#b8d9ea"/>
<rect x="712.6" y="1815.8" width="11.6" height="84.6" fill="#e3f4f2"/>
<rect x="723.8" y="1815.8" width="11.6" height="84.6" fill="#4a77b8"/>
<rect x="735" y="1815.8" width="11.6" height="84.6" fill="#ffffbf"/>
<rect x="746.2" y="1815.8" width="11.6" height="84.6" fill="#fcfec5"/>
<rect x="757.4" y="1815.8" width="22.8" height="84.6" fill="#f3fad6"/>
<rect x="779.8" y="1815.8" width="11.6" height="84.6" fill="#d0e9f2"/>
<rect x="791" y="1815.8" width="11.6" height="84.6" fill="#d8eef5"/>
<rect x="802.2" y="1815.8" width="22.8" height="84.6" fill="#f0f9dc"/>
<rect x="824.5" y="1815.8" width="11.6" height="84.6" fill="#a9cfe4"/>
<rect x="835.7" y="1815.8" width="22.8" height="84.6" fill="#fffcba"/>
<rect x="858.1" y="1815.8" width="11.6" height="84.6" fill="#fff9b6"/>
<rect x="869.3" y="1815.8" width="11.6" height="84.6" fill="#feeca3"/>
<rect x="880.5" y="1815.8" width="11.6" height="84.6" fill="#fff9b6"/>
<rect x="891.7" y="1815.8" width="11.6" height="84.6" fill="#fdc780"/>
<rect x="902.9" y="1815.8" width="11.6" height="84.6" fill="#fee699"/>
<rect x="914.1" y="1815.8" width="11.6" height="84.6" fill="#fee99e"/>
<rect x="925.3" y="1815.8" width="11.6" height="84.6" fill="#feeca3"/>
<rect x="936.5" y="1815.8" width="11.6" height="84.6" fill="#fee699"/>
<rect x="947.7" y="1815.8" width="11.6" height="84.6" fill="#fff3ac"/>
<rect x="958.9" y="1815.8" width="11.6" height="84.6" fill="#fff9b6"/>
<rect x="970.1" y="1815.8" width="11.6" height="84.6" fill="#feeca3"/>
<rect x="981.2" y="1815.8" width="11.6" height="84.6" fill="#fdbf7a"/>
<rect x="992.4" y="1815.8" width="11.6" height="84.6" fill="#fc9e64"/>
<rect x="1003.6" y="1815.8" width="11.6" height="84.6" fill="#f6fbd0"/>
<rect x="1014.8" y="1815.8" width="11.6" height="84.6" fill="#4a77b8"/>
<rect x="1026" y="1815.8" width="11.6" height="84.6" fill="#fffcba"/>
<rect x="1037.2" y="1815.8" width="11.6" height="84.6" fill="#fee699"/>
<rect x="1048.4" y="1815.8" width="11.6" height="84.6" fill="#fff9b6"/>
<rect x="1059.6" y="1815.8" width="45.5" height="84.6" fill="#4a77b8"/>
<rect x="1104.7" y="1815.8" width="11.7" height="84.6" fill="#fffcba"/>
<rect x="1116" y="1815.8" width="23" height="84.6" fill="#4a77b8"/>
<rect x="1138.6" y="1815.8" width="11.7" height="84.6" fill="#ecf8e1"/>
<rect x="1149.8" y="1815.8" width="11.7" height="84.6" fill="#99c4de"/>
<rect x="1161.1" y="1815.8" width="11.7" height="84.6" fill="#4a77b8"/>
<rect x="1172.4" y="1815.8" width="11.7" height="84.6" fill="#c0deec"/>
<rect x="1183.7" y="1815.8" width="23" height="84.6" fill="#4a77b8"/>
<rect x="1206.2" y="1815.8" width="11.7" height="84.6" fill="#a9cfe4"/>
<rect x="1217.5" y="1815.8" width="11.7" height="84.6" fill="#4a77b8"/>
</g>
<text x="1239" y="1111.9" class="hl" font-size="31.4">Cxcl12</text>
<text x="1239" y="1196.1" class="hl" font-size="31.4">Adipoq</text>
<text x="1239" y="1280.3" class="hl" font-size="31.4">Kng1</text>
<text x="1239" y="1364.5" class="hl" font-size="31.4">Kitl</text>
<text x="1239" y="1448.7" class="hl" font-size="31.4">Lepr</text>
<text x="1239" y="1532.9" class="hl" font-size="31.4">Bglap</text>
<text x="1239" y="1617.1" class="hl" font-size="31.4">Angpt4</text>
<text x="1239" y="1701.3" class="hl" font-size="31.4">Sp7</text>
<text x="1239" y="1785.5" class="hl" font-size="31.4">Spp1</text>
<text x="1239" y="1869.7" class="hl" font-size="31.4">Col1a1</text>
<text transform="translate(1239 1044.5) scale(1.07 1)" class="hl" font-size="29.4" font-weight="bold">id</text>
<path d="M167.3 1352.7H207.8M167.3 1436.9H207.8M167.3 1352.7V1436.9M160.6 1268.5H207.8M160.6 1394.8H167.3M160.6 1268.5V1394.8M149.8 1184.3H207.8M149.8 1331.7H160.6M149.8 1184.3V1331.7M120.9 1100.1H207.8M120.9 1258H149.8M120.9 1100.1V1258M173.4 1605.3H207.8M173.4 1689.5H207.8M173.4 1605.3V1689.5M149.8 1521.1H207.8M149.8 1647.4H173.4M149.8 1521.1V1647.4M136.2 1773.7H207.8M136.2 1857.9H207.8M136.2 1773.7V1857.9M111.2 1584.2H149.8M111.2 1815.8H136.2M111.2 1584.2V1815.8M44.4 1179H120.9M44.4 1700H111.2M44.4 1179V1700" stroke="#000" stroke-width="3.5" fill="none" stroke-linecap="square"/>
<defs><linearGradient id="cb" x1="0" y1="0" x2="0" y2="1"><stop offset="0%" stop-color="#cf2b24"/><stop offset="4.2%" stop-color="#D73027"/><stop offset="20.1%" stop-color="#FC8D59"/><stop offset="36.1%" stop-color="#FEE090"/><stop offset="52.1%" stop-color="#FFFFBF"/><stop offset="68.1%" stop-color="#E0F3F8"/><stop offset="84%" stop-color="#91BFDB"/><stop offset="100%" stop-color="#4a77b8"/></linearGradient></defs>
<rect x="1360" y="1014.3" width="33" height="477.1" fill="url(#cb)"/>
<text x="1405" y="1501.9" class="hl" font-size="29.4">0</text>
<text x="1405" y="1425.7" class="hl" font-size="29.4">1</text>
<text x="1405" y="1349.5" class="hl" font-size="29.4">2</text>
<text x="1405" y="1273.3" class="hl" font-size="29.4">3</text>
<text x="1405" y="1197.1" class="hl" font-size="29.4">4</text>
<text x="1405" y="1120.9" class="hl" font-size="29.4">5</text>
<text x="1405" y="1044.7" class="hl" font-size="29.4">6</text>
<text transform="translate(1452.5 1035.5) scale(1.0785 1)" class="hl" font-size="29.4" font-weight="bold">Celltype (projected)</text>
<rect x="1451.4" y="1048.3" width="46.6" height="46.2" fill="#fbb84b" shape-rendering="crispEdges"/>
<text x="1508" y="1083.1" class="hl" font-size="31.7">Adipo-CAR</text>
<rect x="1451.4" y="1094.1" width="46.6" height="46.2" fill="#a454fb" shape-rendering="crispEdges"/>
<text x="1508" y="1128.9" class="hl" font-size="31.7">Ng2<tspan font-size="18.5" dy="-11">+</tspan><tspan dy="11"> MSC</tspan></text>
<rect x="1451.4" y="1139.9" width="46.6" height="46.2" fill="#c0c0c0" shape-rendering="crispEdges"/>
<text x="1508" y="1174.7" class="hl" font-size="31.7">unassigned</text>
<rect x="1451.4" y="1185.8" width="46.6" height="46.2" fill="#f22300" shape-rendering="crispEdges"/>
<text x="1508" y="1220.6" class="hl" font-size="31.7">Osteo-CAR</text>
<rect x="1451.4" y="1231.6" width="46.6" height="46.2" fill="#2f4b7c" shape-rendering="crispEdges"/>
<text x="1508" y="1266.4" class="hl" font-size="31.7">Endosteal Fibroblast</text>
<rect x="1451.4" y="1277.4" width="46.6" height="46.2" fill="#85a09c" shape-rendering="crispEdges"/>
<text x="1508" y="1312.2" class="hl" font-size="31.7">pro-B cell</text>
<defs><linearGradient id="bs" x1="0" y1="0" x2="0" y2="1"><stop offset="0" stop-color="#fff"/><stop offset="0.35" stop-color="#f7f7f7"/><stop offset="1" stop-color="#f5f5f5"/></linearGradient></defs>
<rect x="0" y="1909" width="2114" height="19" fill="url(#bs)"/>
</svg>
</body></html>
